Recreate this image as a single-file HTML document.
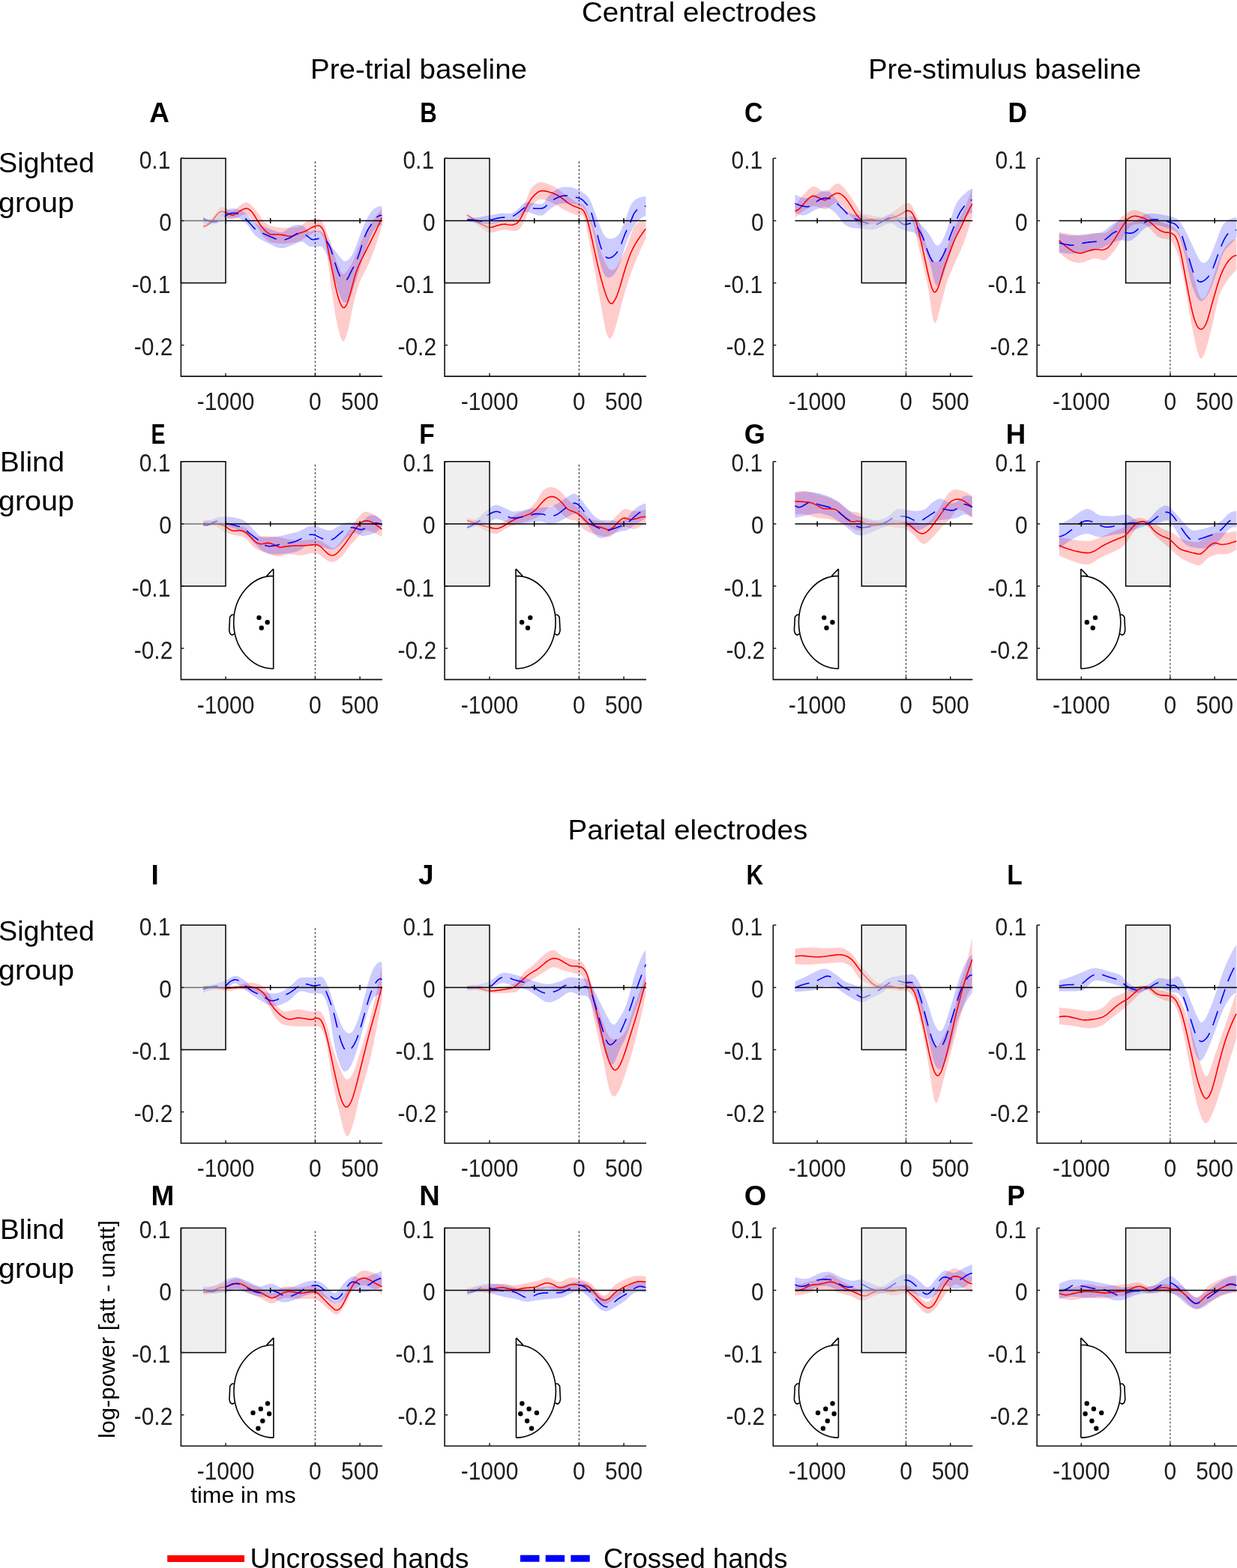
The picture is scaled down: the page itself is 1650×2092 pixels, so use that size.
<!DOCTYPE html>
<html><head><meta charset="utf-8"><title>Figure</title>
<style>html,body{margin:0;padding:0;background:#fff;}svg{display:block;}</style>
</head><body>
<svg width="1650" height="2092" viewBox="0 0 1650 2092" font-family="'Liberation Sans', Arial, sans-serif">
<rect width="1650" height="2092" fill="#fff"/>
<g id="pA">
<path d="M420.4,215.3 V502.1" stroke="#2a2a2a" stroke-width="1.1" stroke-dasharray="2.6 2.52" fill="none"/>
<path d="M271.1,300 L273.1,298.8 L275.1,297.4 L277.1,295.8 L279.1,294 L281.1,292.2 L283.1,290.2 L285.1,287.9 L287.1,285.3 L289.1,282.4 L291.1,279.7 L293.1,277.6 L295.1,276.3 L297.1,275.9 L299.1,276.3 L301.1,277.3 L303.1,278.5 L305.1,279.7 L307.1,280.7 L309.1,281.1 L311.1,280.8 L313.1,280 L315.1,278.6 L317.1,277 L319.1,275.2 L321.1,273.5 L323.1,272 L325.1,270.8 L327.1,270.1 L329.1,270.1 L331.1,270.8 L333.1,272.1 L335.1,273.8 L337.1,275.8 L339.1,278 L341.1,280.2 L343.1,282.8 L345.1,285.7 L347.1,288.8 L349.1,291.8 L351.1,294.4 L353.1,296.5 L355.1,298.1 L357.1,299.5 L359.1,300.6 L361.1,301.4 L363.1,301.9 L365.1,302.3 L367.1,302.6 L369.1,302.9 L371.1,303.2 L373.1,303.5 L375.1,303.7 L377.1,303.9 L379.1,303.9 L381.1,304 L383.1,304 L385.1,303.9 L387.1,303.8 L389.1,303.7 L391.1,303.5 L393.1,303.2 L395.1,302.9 L397.1,302.6 L399.1,302.1 L401.1,301.3 L403.1,300 L405.1,298.6 L407.1,297 L409.1,295.5 L411.1,294.2 L413.1,293.2 L415.1,292.7 L417.1,292.6 L419.1,292.6 L421.1,292.5 L423.1,292.2 L425.1,291.9 L427.1,292.4 L429.1,294.4 L431.1,297.8 L433.1,302.6 L435.1,308 L437.1,313 L439.1,318 L441.1,323.5 L443.1,329.9 L445.1,336.7 L447.1,343.4 L449.1,349.4 L451.1,354.8 L453.1,359.6 L455.1,363.5 L457.1,365.6 L459.1,365.4 L461.1,363.6 L463.1,360.9 L465.1,358 L467.1,355.1 L469.1,352 L471.1,348.2 L473.1,343.6 L475.1,338.5 L477.1,333.1 L479.1,328 L481.1,323.4 L483.1,319 L485.1,314.9 L487.1,310.9 L489.1,307.3 L491.1,303.8 L493.1,300.6 L495.1,297.5 L497.1,294.6 L499.1,291.8 L501.1,289 L503.1,286.4 L505.1,283.8 L507.1,281.4 L509.1,279.2 L509.4,278.9 L509.4,301.3 L509.1,302 L507.1,308.9 L505.1,315.5 L503.1,321.9 L501.1,327.9 L499.1,333.4 L497.1,338.7 L495.1,343.8 L493.1,348.7 L491.1,353.4 L489.1,357.7 L487.1,361.7 L485.1,365.5 L483.1,369.3 L481.1,373.6 L479.1,378.6 L477.1,384.5 L475.1,391.3 L473.1,398.8 L471.1,407 L469.1,416.7 L467.1,427.3 L465.1,436.8 L463.1,444.7 L461.1,451 L459.1,454.9 L457.1,455.4 L455.1,452.3 L453.1,446.3 L451.1,438.6 L449.1,429.5 L447.1,418.7 L445.1,406.1 L443.1,392.3 L441.1,377.7 L439.1,361.9 L437.1,345.2 L435.1,331.3 L433.1,322.3 L431.1,316.7 L429.1,312.9 L427.1,310.3 L425.1,309.4 L423.1,309.5 L421.1,310 L419.1,310.6 L417.1,311.4 L415.1,312.3 L413.1,313.3 L411.1,314.5 L409.1,315.9 L407.1,317.2 L405.1,318.6 L403.1,319.9 L401.1,320.9 L399.1,321.8 L397.1,322.4 L395.1,322.9 L393.1,323.4 L391.1,323.8 L389.1,324.1 L387.1,324.4 L385.1,324.6 L383.1,324.8 L381.1,325 L379.1,325.1 L377.1,325.2 L375.1,325.1 L373.1,325 L371.1,324.9 L369.1,324.7 L367.1,324.4 L365.1,324.1 L363.1,323.8 L361.1,323.3 L359.1,322.5 L357.1,321.2 L355.1,319.6 L353.1,317.7 L351.1,315.4 L349.1,312.6 L347.1,309.5 L345.1,306.1 L343.1,302.9 L341.1,300 L339.1,297.2 L337.1,294.5 L335.1,291.8 L333.1,289.3 L331.1,287.5 L329.1,286.3 L327.1,285.9 L325.1,286.2 L323.1,287 L321.1,288 L319.1,289.1 L317.1,290.2 L315.1,291.2 L313.1,292 L311.1,292.4 L309.1,292.3 L307.1,291.8 L305.1,291 L303.1,290.1 L301.1,289.2 L299.1,288.5 L297.1,288.1 L295.1,288.3 L293.1,289.1 L291.1,290.6 L289.1,292.4 L287.1,294.4 L285.1,296.3 L283.1,297.8 L281.1,299.1 L279.1,300.3 L277.1,301.5 L275.1,302.5 L273.1,303.4 L271.1,304.2 Z" fill="#ff0000" fill-opacity="0.2" stroke="none"/>
<path d="M271.1,288.8 L273.1,289.9 L275.1,291 L277.1,291.9 L279.1,292.6 L281.1,293.1 L283.1,293.3 L285.1,293.2 L287.1,292.7 L289.1,291.7 L291.1,290.1 L293.1,288.3 L295.1,286.2 L297.1,284.1 L299.1,282.2 L301.1,280.7 L303.1,279.7 L305.1,279 L307.1,278.5 L309.1,278.3 L311.1,278.2 L313.1,278.3 L315.1,278.7 L317.1,279.2 L319.1,279.8 L321.1,280.6 L323.1,281.5 L325.1,282.6 L327.1,283.9 L329.1,285.7 L331.1,287.9 L333.1,290.2 L335.1,292.6 L337.1,294.8 L339.1,296.6 L341.1,298 L343.1,299.1 L345.1,300 L347.1,300.8 L349.1,301.6 L351.1,302.3 L353.1,303 L355.1,303.7 L357.1,304.4 L359.1,305.2 L361.1,306 L363.1,306.8 L365.1,307.6 L367.1,308.3 L369.1,308.9 L371.1,309.4 L373.1,309.8 L375.1,309.9 L377.1,309.6 L379.1,308.8 L381.1,307.6 L383.1,306.1 L385.1,304.5 L387.1,303 L389.1,301.8 L391.1,300.9 L393.1,300.4 L395.1,300.1 L397.1,300.1 L399.1,300.1 L401.1,300.3 L403.1,300.9 L405.1,302.2 L407.1,304.1 L409.1,306.1 L411.1,307.9 L413.1,309 L415.1,308.4 L417.1,307.3 L419.1,307.6 L421.1,308.1 L423.1,308.1 L425.1,308 L427.1,308.2 L429.1,309 L431.1,310.9 L433.1,313.4 L435.1,316.4 L437.1,319.7 L439.1,323.3 L441.1,327 L443.1,330.1 L445.1,332.7 L447.1,335 L449.1,337.2 L451.1,339.7 L453.1,342.4 L455.1,345 L457.1,347.2 L459.1,348.5 L461.1,348.6 L463.1,347.8 L465.1,346.2 L467.1,344 L469.1,340.9 L471.1,337.1 L473.1,332.7 L475.1,327.9 L477.1,322.5 L479.1,316.8 L481.1,311.3 L483.1,306.1 L485.1,301.2 L487.1,296.5 L489.1,292.4 L491.1,288.7 L493.1,285.5 L495.1,282.6 L497.1,280.3 L499.1,278.6 L501.1,277.3 L503.1,276.2 L505.1,275.5 L507.1,275.2 L509.1,275.5 L509.4,275.6 L509.4,300.5 L509.1,300.5 L507.1,300.4 L505.1,301.3 L503.1,302.8 L501.1,304.9 L499.1,307.3 L497.1,310.1 L495.1,313.8 L493.1,318.2 L491.1,323.2 L489.1,328.6 L487.1,334.6 L485.1,341 L483.1,347.5 L481.1,353.9 L479.1,360.2 L477.1,366.5 L475.1,372.7 L473.1,378.9 L471.1,385.2 L469.1,391.2 L467.1,396.2 L465.1,400 L463.1,402.5 L461.1,403.8 L459.1,403.7 L457.1,401.9 L455.1,398.5 L453.1,393.8 L451.1,388.2 L449.1,382 L447.1,375 L445.1,367.6 L443.1,360.7 L441.1,354.3 L439.1,348.4 L437.1,343.1 L435.1,338.6 L433.1,334.6 L431.1,331.3 L429.1,329.2 L427.1,328.6 L425.1,329 L423.1,329.6 L421.1,330 L419.1,329.6 L417.1,329 L415.1,329.1 L413.1,329 L411.1,328 L409.1,326.4 L407.1,324.7 L405.1,323.2 L403.1,322.4 L401.1,322.4 L399.1,322.9 L397.1,323.8 L395.1,324.7 L393.1,325.6 L391.1,326.5 L389.1,327.3 L387.1,328 L385.1,328.8 L383.1,329.6 L381.1,330.2 L379.1,330.7 L377.1,331 L375.1,331.1 L373.1,331 L371.1,330.6 L369.1,330 L367.1,329.2 L365.1,328.3 L363.1,327.3 L361.1,326.3 L359.1,325.2 L357.1,324.2 L355.1,323.3 L353.1,322.3 L351.1,321.3 L349.1,320.2 L347.1,319 L345.1,317.7 L343.1,316.3 L341.1,314.8 L339.1,312.8 L337.1,310.3 L335.1,307.4 L333.1,304.3 L331.1,301.2 L329.1,298.5 L327.1,296.3 L325.1,294.7 L323.1,293.5 L321.1,292.4 L319.1,291.5 L317.1,290.9 L315.1,290.4 L313.1,290.3 L311.1,290.5 L309.1,290.8 L307.1,291.3 L305.1,291.9 L303.1,292.5 L301.1,293.2 L299.1,294.1 L297.1,294.9 L295.1,295.9 L293.1,296.7 L291.1,297.5 L289.1,298.2 L287.1,298.7 L285.1,299 L283.1,299.2 L281.1,299.2 L279.1,299.1 L277.1,298.9 L275.1,298.6 L273.1,298.3 L271.1,297.9 Z" fill="#0000ff" fill-opacity="0.2" stroke="none"/>
<path d="M271.1,302.3 L273.1,301.8 L275.1,301 L277.1,299.9 L279.1,298.5 L281.1,296.8 L283.1,294.5 L285.1,292 L287.1,289.3 L289.1,286.8 L291.1,284.7 L293.1,283.1 L295.1,282.3 L297.1,282.3 L299.1,282.8 L301.1,283.5 L303.1,284.3 L305.1,285.4 L307.1,286.3 L309.1,287 L311.1,286.9 L313.1,286.1 L315.1,284.8 L317.1,283.4 L319.1,282.1 L321.1,281 L323.1,279.9 L325.1,278.9 L327.1,278.2 L329.1,278.1 L331.1,278.7 L333.1,280 L335.1,281.8 L337.1,284.1 L339.1,287 L341.1,290.4 L343.1,293.8 L345.1,296.8 L347.1,299.8 L349.1,302.6 L351.1,305 L353.1,307.2 L355.1,309 L357.1,310.7 L359.1,312 L361.1,312.7 L363.1,313 L365.1,312.9 L367.1,312.8 L369.1,312.7 L371.1,312.8 L373.1,313 L375.1,313.3 L377.1,313.6 L379.1,313.9 L381.1,314.3 L383.1,314.7 L385.1,315 L387.1,315.2 L389.1,315.1 L391.1,314.6 L393.1,313.8 L395.1,312.9 L397.1,312 L399.1,311.3 L401.1,310.6 L403.1,309.9 L405.1,309.2 L407.1,308.4 L409.1,307.5 L411.1,306.4 L413.1,305.1 L415.1,303.9 L417.1,303 L419.1,302.1 L421.1,301.4 L423.1,301 L425.1,301 L427.1,301.8 L429.1,303.6 L431.1,306.8 L433.1,311.7 L435.1,319.4 L437.1,329.7 L439.1,340.4 L441.1,350.6 L443.1,360.6 L445.1,370.5 L447.1,380.2 L449.1,389.1 L451.1,396.6 L453.1,402.7 L455.1,407.2 L457.1,410.1 L459.1,410.7 L461.1,408.8 L463.1,404.8 L465.1,399 L467.1,392 L469.1,384.6 L471.1,376.9 L473.1,369.5 L475.1,363 L477.1,357.5 L479.1,352.8 L481.1,348.5 L483.1,344.5 L485.1,340.6 L487.1,336.6 L489.1,332.6 L491.1,328.6 L493.1,324.6 L495.1,320.6 L497.1,316.6 L499.1,312.6 L501.1,308.6 L503.1,304.4 L505.1,300.1 L507.1,295.6 L509.1,291 L509.4,290.5" stroke="#ff0000" stroke-width="1.6" fill="none"/>
<path d="M271.1,291.8 L273.1,292.7 L275.1,293.5 L277.1,294.2 L279.1,294.9 L281.1,295.4 L283.1,295.7 L285.1,296 L287.1,296 L289.1,295.7 L291.1,294.9 L293.1,293.9 L295.1,292.6 L297.1,291.1 L299.1,289.4 L301.1,287.7 L303.1,286.5 L305.1,285.6 L307.1,285 L309.1,284.6 L311.1,284.3 L313.1,284.3 L315.1,284.6 L317.1,285 L319.1,285.7 L321.1,286.6 L323.1,287.7 L325.1,289.3 L327.1,291.2 L329.1,293.4 L331.1,295.7 L333.1,297.8 L335.1,300 L337.1,302.2 L339.1,304.4 L341.1,306.3 L343.1,307.9 L345.1,309.2 L347.1,310.1 L349.1,310.9 L351.1,311.6 L353.1,312.4 L355.1,313.3 L357.1,314.2 L359.1,315.1 L361.1,316 L363.1,316.8 L365.1,317.6 L367.1,318.4 L369.1,319.1 L371.1,319.7 L373.1,320.2 L375.1,320.5 L377.1,320.5 L379.1,320.1 L381.1,319.5 L383.1,318.8 L385.1,318 L387.1,317.1 L389.1,316 L391.1,314.7 L393.1,313.4 L395.1,312.2 L397.1,311.3 L399.1,310.8 L401.1,310.7 L403.1,311.2 L405.1,311.9 L407.1,313 L409.1,314.3 L411.1,315.8 L413.1,317.5 L415.1,319.1 L417.1,319.8 L419.1,319.5 L421.1,319.1 L423.1,318.7 L425.1,318.4 L427.1,318.1 L429.1,317.9 L431.1,318.2 L433.1,319.4 L435.1,321.3 L437.1,323.9 L439.1,327.4 L441.1,332.1 L443.1,337.9 L445.1,344.7 L447.1,351.4 L449.1,357.4 L451.1,363.1 L453.1,367.7 L455.1,370.7 L457.1,372.6 L459.1,373.8 L461.1,374.2 L463.1,372.7 L465.1,369.2 L467.1,364.9 L469.1,360.9 L471.1,357.2 L473.1,353.4 L475.1,349 L477.1,344.1 L479.1,338.5 L481.1,332.2 L483.1,325.8 L485.1,319.9 L487.1,314.5 L489.1,309.8 L491.1,305.9 L493.1,302.7 L495.1,299.8 L497.1,296.9 L499.1,294.1 L501.1,291.6 L503.1,289.6 L505.1,288.2 L507.1,287.4 L509.1,287.5 L509.4,287.6" stroke="#0000ff" stroke-width="1.6" stroke-dasharray="20 11" fill="none"/>
<path d="M241.4,294.4 H509.9" stroke="#000" stroke-width="1.5" fill="none"/>
<path d="M301,290.9 v7 M360.7,290.9 v7 M420.4,290.9 v7 M480.1,290.9 v7 " stroke="#000" stroke-width="1.5" fill="none"/>
<rect x="241.4" y="211.3" width="59.6" height="166.2" fill="#e0e0e0" fill-opacity="0.5" stroke="#000" stroke-width="1.5"/>
<path d="M241.4,211.3 V502.1 H509.9" stroke="#111" stroke-width="1.6" fill="none"/>
<path d="M241.4,211.3 h4 M241.4,294.4 h4 M241.4,377.5 h4 M241.4,460.6 h4 M301,502.1 v-4 M420.4,502.1 v-4 M480.1,502.1 v-4 " stroke="#1e1e1e" stroke-width="1.5" fill="none"/>
<text x="227.4" y="224.8" font-size="32.8" text-anchor="end" textLength="41.7" lengthAdjust="spacingAndGlyphs" fill="#1e1e1e">0.1</text>
<text x="228.9" y="307.9" font-size="32.8" text-anchor="end" textLength="16.7" lengthAdjust="spacingAndGlyphs" fill="#1e1e1e">0</text>
<text x="227.4" y="391" font-size="32.8" text-anchor="end" textLength="51.7" lengthAdjust="spacingAndGlyphs" fill="#1e1e1e">-0.1</text>
<text x="230.4" y="474.1" font-size="32.8" text-anchor="end" textLength="51.7" lengthAdjust="spacingAndGlyphs" fill="#1e1e1e">-0.2</text>
<text x="301" y="547.1" font-size="32.8" text-anchor="middle" textLength="76.7" lengthAdjust="spacingAndGlyphs" fill="#1e1e1e">-1000</text>
<text x="420.4" y="547.1" font-size="32.8" text-anchor="middle" textLength="16.7" lengthAdjust="spacingAndGlyphs" fill="#1e1e1e">0</text>
<text x="480.1" y="547.1" font-size="32.8" text-anchor="middle" textLength="50" lengthAdjust="spacingAndGlyphs" fill="#1e1e1e">500</text>
</g>
<g id="pB">
<path d="M772.4,215.3 V502.1" stroke="#2a2a2a" stroke-width="1.1" stroke-dasharray="2.6 2.52" fill="none"/>
<path d="M623.1,284.6 L625.1,285.9 L627.1,287.3 L629.1,288.6 L631.1,289.8 L633.1,290.9 L635.1,291.9 L637.1,292.8 L639.1,293.6 L641.1,294.4 L643.1,295.3 L645.1,296 L647.1,296.7 L649.1,297.2 L651.1,297.5 L653.1,297.5 L655.1,297.4 L657.1,297.1 L659.1,296.8 L661.1,296.5 L663.1,296.1 L665.1,295.7 L667.1,295.3 L669.1,294.9 L671.1,294.5 L673.1,294.2 L675.1,293.9 L677.1,293.6 L679.1,293.3 L681.1,293 L683.1,292.7 L685.1,292.3 L687.1,291.9 L689.1,291.3 L691.1,289.8 L693.1,287.2 L695.1,283.9 L697.1,279.9 L699.1,275.2 L701.1,269.7 L703.1,263.8 L705.1,258.3 L707.1,253.7 L709.1,250.6 L711.1,248.4 L713.1,246.7 L715.1,245.2 L717.1,244.1 L719.1,243.3 L721.1,243.1 L723.1,243.2 L725.1,243.6 L727.1,244.1 L729.1,244.7 L731.1,245.4 L733.1,246.2 L735.1,247 L737.1,248 L739.1,249.1 L741.1,250.3 L743.1,251.6 L745.1,253 L747.1,254.4 L749.1,255.9 L751.1,257.4 L753.1,258.8 L755.1,260.3 L757.1,261.7 L759.1,263.1 L761.1,264.6 L763.1,266 L765.1,267.4 L767.1,268.7 L769.1,270 L771.1,270.9 L773.1,271.5 L775.1,272 L777.1,272.7 L779.1,274.4 L781.1,277.5 L783.1,281.9 L785.1,286.6 L787.1,291.4 L789.1,296.6 L791.1,302.1 L793.1,308.2 L795.1,315 L797.1,322.1 L799.1,328.7 L801.1,334.6 L803.1,340.2 L805.1,345.4 L807.1,350.1 L809.1,354.1 L811.1,357 L813.1,358.9 L815.1,360 L817.1,360.2 L819.1,359.5 L821.1,357.8 L823.1,355.1 L825.1,351.6 L827.1,347.6 L829.1,343.5 L831.1,339.4 L833.1,335.2 L835.1,330.7 L837.1,326 L839.1,320.6 L841.1,314.6 L843.1,308.8 L845.1,304.3 L847.1,301.1 L849.1,298.8 L851.1,297.1 L853.1,296 L855.1,295.4 L857.1,295.4 L859.1,296 L861.1,297 L861.4,297.1 L861.4,318.5 L861.1,318.9 L859.1,322.9 L857.1,327.1 L855.1,331.5 L853.1,336.1 L851.1,340.8 L849.1,345.6 L847.1,350.5 L845.1,355.5 L843.1,360.8 L841.1,366.3 L839.1,372.1 L837.1,378.2 L835.1,384.6 L833.1,391.4 L831.1,398.5 L829.1,405.9 L827.1,413.7 L825.1,421.8 L823.1,429.4 L821.1,436.3 L819.1,442.4 L817.1,447.4 L815.1,450.8 L813.1,451.9 L811.1,450 L809.1,444.7 L807.1,436.7 L805.1,426.8 L803.1,415.9 L801.1,404.8 L799.1,394 L797.1,382.9 L795.1,371.6 L793.1,360.3 L791.1,349.4 L789.1,338.8 L787.1,328.4 L785.1,318 L783.1,307 L781.1,296.4 L779.1,289.4 L777.1,287 L775.1,286.7 L773.1,287 L771.1,287.1 L769.1,286.8 L767.1,286.1 L765.1,285.4 L763.1,284.6 L761.1,283.9 L759.1,283.1 L757.1,282.2 L755.1,281.3 L753.1,280.2 L751.1,279.1 L749.1,277.9 L747.1,276.6 L745.1,275.3 L743.1,274.1 L741.1,272.9 L739.1,271.8 L737.1,270.8 L735.1,269.9 L733.1,269 L731.1,268.2 L729.1,267.5 L727.1,266.8 L725.1,266.3 L723.1,265.9 L721.1,265.9 L719.1,266.3 L717.1,267.3 L715.1,268.7 L713.1,270.4 L711.1,272.5 L709.1,274.8 L707.1,277.8 L705.1,281.8 L703.1,286.6 L701.1,291.5 L699.1,296.1 L697.1,299.8 L695.1,302.8 L693.1,305.3 L691.1,307.1 L689.1,308 L687.1,308.1 L685.1,308 L683.1,307.8 L681.1,307.5 L679.1,307.2 L677.1,306.9 L675.1,306.7 L673.1,306.6 L671.1,306.7 L669.1,307 L667.1,307.4 L665.1,308 L663.1,308.6 L661.1,309.2 L659.1,309.7 L657.1,310.2 L655.1,310.4 L653.1,310.3 L651.1,309.8 L649.1,309 L647.1,307.8 L645.1,306.4 L643.1,304.8 L641.1,303.2 L639.1,301.7 L637.1,300.2 L635.1,298.8 L633.1,297.4 L631.1,296 L629.1,294.5 L627.1,293 L625.1,291.4 L623.1,289.9 Z" fill="#ff0000" fill-opacity="0.2" stroke="none"/>
<path d="M623.1,286.9 L625.1,288.2 L627.1,289.5 L629.1,290.9 L631.1,292.3 L633.1,293.7 L635.1,295.1 L637.1,296.4 L639.1,297.6 L641.1,298.7 L643.1,299.6 L645.1,300.6 L647.1,301.5 L649.1,302.4 L651.1,303.2 L653.1,303.5 L655.1,303.3 L657.1,302.9 L659.1,302.2 L661.1,301.6 L663.1,301 L665.1,300.4 L667.1,299.9 L669.1,299.4 L671.1,299.2 L673.1,299.1 L675.1,299.3 L677.1,299.7 L679.1,300 L681.1,300.2 L683.1,300.1 L685.1,299.8 L687.1,299.1 L689.1,298.1 L691.1,296.3 L693.1,293.5 L695.1,290.1 L697.1,286.4 L699.1,282.3 L701.1,278.2 L703.1,274.4 L705.1,270.9 L707.1,267.6 L709.1,264.6 L711.1,262.2 L713.1,260.1 L715.1,258.3 L717.1,256.7 L719.1,255.5 L721.1,254.7 L723.1,254.5 L725.1,254.6 L727.1,254.9 L729.1,255.3 L731.1,255.8 L733.1,256.4 L735.1,257 L737.1,257.6 L739.1,258.4 L741.1,259.2 L743.1,260.2 L745.1,261.4 L747.1,262.7 L749.1,264.2 L751.1,265.6 L753.1,267.2 L755.1,268.8 L757.1,270.3 L759.1,271.7 L761.1,272.9 L763.1,273.8 L765.1,274.7 L767.1,275.4 L769.1,276.2 L771.1,277 L773.1,277.7 L775.1,278.6 L777.1,279.8 L779.1,282.3 L781.1,286.3 L783.1,292.1 L785.1,299.5 L787.1,307.9 L789.1,316.8 L791.1,325.9 L793.1,335.1 L795.1,344.2 L797.1,353.1 L799.1,361.5 L801.1,369.3 L803.1,376.6 L805.1,383.5 L807.1,389.9 L809.1,395.7 L811.1,400.4 L813.1,403.8 L815.1,405.2 L817.1,404.5 L819.1,402.1 L821.1,398.6 L823.1,394 L825.1,388.3 L827.1,382.1 L829.1,375.3 L831.1,368.2 L833.1,361.4 L835.1,354.9 L837.1,348.9 L839.1,343.3 L841.1,338.3 L843.1,333.8 L845.1,329.8 L847.1,326.2 L849.1,322.9 L851.1,319.8 L853.1,316.8 L855.1,313.9 L857.1,311 L859.1,308.2 L861.1,305.5 L861.4,305.2" stroke="#ff0000" stroke-width="1.6" fill="none"/>
<rect x="593.1" y="211.3" width="59.9" height="166.2" fill="#e0e0e0" fill-opacity="0.5" stroke="#000" stroke-width="1.5"/>
<path d="M623.1,291.5 L625.1,291.4 L627.1,291.2 L629.1,291.1 L631.1,290.8 L633.1,290.6 L635.1,290.3 L637.1,290.1 L639.1,289.8 L641.1,289.4 L643.1,289.1 L645.1,288.7 L647.1,288.2 L649.1,287.8 L651.1,287.4 L653.1,287.1 L655.1,286.7 L657.1,286.4 L659.1,286 L661.1,285.7 L663.1,285.4 L665.1,285.1 L667.1,284.8 L669.1,284.6 L671.1,284.6 L673.1,284.6 L675.1,284.7 L677.1,284.8 L679.1,284.8 L681.1,284.7 L683.1,284.2 L685.1,283.2 L687.1,281.9 L689.1,280.4 L691.1,278.7 L693.1,276.9 L695.1,274.8 L697.1,272.5 L699.1,270.7 L701.1,269.8 L703.1,269.7 L705.1,269.9 L707.1,270.2 L709.1,270.6 L711.1,270.9 L713.1,271.3 L715.1,271.6 L717.1,271.9 L719.1,272.2 L721.1,272.4 L723.1,272.1 L725.1,270.7 L727.1,268.2 L729.1,265.2 L731.1,262.2 L733.1,259.9 L735.1,258 L737.1,256.3 L739.1,254.8 L741.1,253.4 L743.1,252.2 L745.1,251.2 L747.1,250.6 L749.1,250.1 L751.1,249.8 L753.1,249.5 L755.1,249.4 L757.1,249.4 L759.1,249.5 L761.1,249.7 L763.1,250.2 L765.1,250.8 L767.1,251.6 L769.1,252.5 L771.1,253.5 L773.1,254.6 L775.1,255.6 L777.1,256.7 L779.1,257.9 L781.1,259.4 L783.1,261.3 L785.1,263.7 L787.1,267.2 L789.1,271.6 L791.1,276.6 L793.1,281.9 L795.1,287.6 L797.1,293.4 L799.1,298.8 L801.1,303.7 L803.1,308.2 L805.1,312.2 L807.1,315.3 L809.1,317.1 L811.1,318.1 L813.1,318.4 L815.1,318.5 L817.1,318.2 L819.1,317.5 L821.1,316.5 L823.1,315 L825.1,312.9 L827.1,310 L829.1,305.9 L831.1,301.1 L833.1,295.9 L835.1,290.4 L837.1,284.5 L839.1,278.8 L841.1,274.1 L843.1,270.9 L845.1,268.5 L847.1,266.7 L849.1,265.4 L851.1,264.4 L853.1,263.6 L855.1,262.9 L857.1,262.4 L859.1,262.1 L861.1,262.3 L861.4,262.3 L861.4,288.6 L861.1,288.5 L859.1,288.8 L857.1,289.8 L855.1,291.2 L853.1,292.9 L851.1,294.8 L849.1,297.1 L847.1,299.9 L845.1,303.1 L843.1,306.6 L841.1,310.5 L839.1,315 L837.1,320 L835.1,325.4 L833.1,331.1 L831.1,337.4 L829.1,344.2 L827.1,350.6 L825.1,355.8 L823.1,359.9 L821.1,363.2 L819.1,365.9 L817.1,367.9 L815.1,369.3 L813.1,370.2 L811.1,370.5 L809.1,370 L807.1,368.1 L805.1,364.5 L803.1,359.4 L801.1,353.3 L799.1,346 L797.1,337 L795.1,326.8 L793.1,317.1 L791.1,308.8 L789.1,301.5 L787.1,295.1 L785.1,289.8 L783.1,285.4 L781.1,281.6 L779.1,278.6 L777.1,276.7 L775.1,275.6 L773.1,274.7 L771.1,274 L769.1,273.3 L767.1,272.8 L765.1,272.3 L763.1,272 L761.1,271.8 L759.1,271.6 L757.1,271.5 L755.1,271.4 L753.1,271.3 L751.1,271.4 L749.1,271.5 L747.1,271.8 L745.1,272.3 L743.1,273.1 L741.1,274.2 L739.1,275.4 L737.1,276.7 L735.1,278.1 L733.1,279.5 L731.1,281.1 L729.1,283 L727.1,284.9 L725.1,286.5 L723.1,287.4 L721.1,287.6 L719.1,287.4 L717.1,286.9 L715.1,286.4 L713.1,285.8 L711.1,285.2 L709.1,284.6 L707.1,283.8 L705.1,283.2 L703.1,282.7 L701.1,282.7 L699.1,283.6 L697.1,285.3 L695.1,287.3 L693.1,289.2 L691.1,290.6 L689.1,291.7 L687.1,292.6 L685.1,293.5 L683.1,294.1 L681.1,294.6 L679.1,294.9 L677.1,295.1 L675.1,295.3 L673.1,295.5 L671.1,295.6 L669.1,295.9 L667.1,296.2 L665.1,296.7 L663.1,297.2 L661.1,297.7 L659.1,298.2 L657.1,298.6 L655.1,298.9 L653.1,299.1 L651.1,299.1 L649.1,299 L647.1,298.8 L645.1,298.6 L643.1,298.3 L641.1,298.1 L639.1,297.8 L637.1,297.5 L635.1,297.2 L633.1,296.9 L631.1,296.6 L629.1,296.3 L627.1,296 L625.1,295.6 L623.1,295.3 Z" fill="#0000ff" fill-opacity="0.2" stroke="none"/>
<path d="M623.1,293 L625.1,293.1 L627.1,293.3 L629.1,293.4 L631.1,293.6 L633.1,293.8 L635.1,294 L637.1,294.3 L639.1,294.7 L641.1,295 L643.1,295.2 L645.1,295.2 L647.1,295.1 L649.1,294.8 L651.1,294.4 L653.1,293.8 L655.1,293.3 L657.1,292.7 L659.1,292.2 L661.1,291.8 L663.1,291.3 L665.1,290.9 L667.1,290.5 L669.1,290.2 L671.1,290.1 L673.1,290.1 L675.1,290.2 L677.1,290.2 L679.1,290.1 L681.1,289.7 L683.1,288.9 L685.1,287.9 L687.1,286.6 L689.1,285.3 L691.1,283.9 L693.1,282.4 L695.1,280.7 L697.1,278.9 L699.1,277.4 L701.1,276.6 L703.1,276.5 L705.1,276.8 L707.1,277.3 L709.1,277.7 L711.1,277.9 L713.1,278.1 L715.1,278.2 L717.1,278.3 L719.1,278.3 L721.1,278.2 L723.1,277.9 L725.1,277.3 L727.1,276 L729.1,274.1 L731.1,272.2 L733.1,270.4 L735.1,268.8 L737.1,267.4 L739.1,266 L741.1,264.8 L743.1,263.9 L745.1,263 L747.1,262.2 L749.1,261.7 L751.1,261.3 L753.1,261.1 L755.1,261.1 L757.1,261.1 L759.1,261.3 L761.1,261.6 L763.1,261.9 L765.1,262.4 L767.1,262.9 L769.1,263.4 L771.1,264 L773.1,264.6 L775.1,265.5 L777.1,266.8 L779.1,268.8 L781.1,271.1 L783.1,273.2 L785.1,275.5 L787.1,279.1 L789.1,284.7 L791.1,291.5 L793.1,298.7 L795.1,306.4 L797.1,314.4 L799.1,322.1 L801.1,328.7 L803.1,334.1 L805.1,338.1 L807.1,341.3 L809.1,343.5 L811.1,344.4 L813.1,344.3 L815.1,343.6 L817.1,342.5 L819.1,341 L821.1,339 L823.1,336.5 L825.1,333.3 L827.1,329.1 L829.1,324.2 L831.1,319 L833.1,313.7 L835.1,308.9 L837.1,304.7 L839.1,300.7 L841.1,296.2 L843.1,290.9 L845.1,286.2 L847.1,282.9 L849.1,280.5 L851.1,278.9 L853.1,277.6 L855.1,276.5 L857.1,275.6 L859.1,275.1 L861.1,275.1 L861.4,275.1" stroke="#0000ff" stroke-width="1.6" stroke-dasharray="20 11" fill="none"/>
<path d="M593.1,294.4 H862" stroke="#000" stroke-width="1.5" fill="none"/>
<path d="M653,290.9 v7 M712.7,290.9 v7 M772.4,290.9 v7 M832.1,290.9 v7 " stroke="#000" stroke-width="1.5" fill="none"/>
<path d="M593.1,211.3 V502.1 H862" stroke="#111" stroke-width="1.6" fill="none"/>
<path d="M593.1,211.3 h4 M593.1,294.4 h4 M593.1,377.5 h4 M593.1,460.6 h4 M653,502.1 v-4 M772.4,502.1 v-4 M832.1,502.1 v-4 " stroke="#1e1e1e" stroke-width="1.5" fill="none"/>
<text x="579.1" y="224.8" font-size="32.8" text-anchor="end" textLength="41.7" lengthAdjust="spacingAndGlyphs" fill="#1e1e1e">0.1</text>
<text x="580.6" y="307.9" font-size="32.8" text-anchor="end" textLength="16.7" lengthAdjust="spacingAndGlyphs" fill="#1e1e1e">0</text>
<text x="579.1" y="391" font-size="32.8" text-anchor="end" textLength="51.7" lengthAdjust="spacingAndGlyphs" fill="#1e1e1e">-0.1</text>
<text x="582.1" y="474.1" font-size="32.8" text-anchor="end" textLength="51.7" lengthAdjust="spacingAndGlyphs" fill="#1e1e1e">-0.2</text>
<text x="653" y="547.1" font-size="32.8" text-anchor="middle" textLength="76.7" lengthAdjust="spacingAndGlyphs" fill="#1e1e1e">-1000</text>
<text x="772.4" y="547.1" font-size="32.8" text-anchor="middle" textLength="16.7" lengthAdjust="spacingAndGlyphs" fill="#1e1e1e">0</text>
<text x="832.1" y="547.1" font-size="32.8" text-anchor="middle" textLength="50" lengthAdjust="spacingAndGlyphs" fill="#1e1e1e">500</text>
</g>
<g id="pC">
<path d="M1208.5,377.5 V502.1" stroke="#2a2a2a" stroke-width="1.1" stroke-dasharray="2.6 2.52" fill="none"/>
<path d="M1060.5,274.1 L1062.5,271.4 L1064.5,268.7 L1066.5,266.1 L1068.5,263.6 L1070.5,261.2 L1072.5,259 L1074.5,256.9 L1076.5,254.8 L1078.5,252.8 L1080.5,251 L1082.5,249.6 L1084.5,248.7 L1086.5,248.6 L1088.5,249.3 L1090.5,250.5 L1092.5,252.1 L1094.5,253.7 L1096.5,255.1 L1098.5,256.1 L1100.5,256.4 L1102.5,255.9 L1104.5,254.7 L1106.5,252.9 L1108.5,250.9 L1110.5,248.8 L1112.5,247 L1114.5,245.6 L1116.5,244.9 L1118.5,244.9 L1120.5,245.8 L1122.5,247.2 L1124.5,249.2 L1126.5,251.4 L1128.5,253.9 L1130.5,256.4 L1132.5,259 L1134.5,261.8 L1136.5,264.9 L1138.5,268 L1140.5,271.2 L1142.5,274.3 L1144.5,277.5 L1146.5,280.7 L1148.5,283 L1150.5,284.4 L1152.5,285.1 L1154.5,285.6 L1156.5,286.1 L1158.5,286.5 L1160.5,286.9 L1162.5,287.3 L1164.5,287.7 L1166.5,288.2 L1168.5,288.7 L1170.5,289.2 L1172.5,289.5 L1174.5,289.8 L1176.5,290 L1178.5,290 L1180.5,289.6 L1182.5,288.8 L1184.5,287.6 L1186.5,286.1 L1188.5,284.6 L1190.5,283.1 L1192.5,281.7 L1194.5,280.3 L1196.5,278.8 L1198.5,277.3 L1200.5,275.9 L1202.5,274.4 L1204.5,273.1 L1206.5,271.9 L1208.5,270.9 L1210.5,270.4 L1212.5,271 L1214.5,272.5 L1216.5,274.8 L1218.5,278.4 L1220.5,282.8 L1222.5,287.4 L1224.5,292.3 L1226.5,297.5 L1228.5,303.2 L1230.5,309.4 L1232.5,316.4 L1234.5,323.5 L1236.5,329.7 L1238.5,335 L1240.5,339.7 L1242.5,343.7 L1244.5,346.7 L1246.5,348.7 L1248.5,349.4 L1250.5,349.2 L1252.5,348.2 L1254.5,346.4 L1256.5,343.7 L1258.5,340.2 L1260.5,336.1 L1262.5,331.6 L1264.5,326.8 L1266.5,321.6 L1268.5,316.1 L1270.5,310.6 L1272.5,305.4 L1274.5,301 L1276.5,297 L1278.5,293.5 L1280.5,290 L1282.5,286.4 L1284.5,282.5 L1286.5,278.1 L1288.5,273.3 L1290.5,268.1 L1292.5,262.7 L1294.5,257 L1296.5,251.2 L1296.7,250.5 L1296.7,289.2 L1296.5,289.9 L1294.5,296.7 L1292.5,303.4 L1290.5,309.8 L1288.5,315.9 L1286.5,321.6 L1284.5,326.7 L1282.5,331.5 L1280.5,336.1 L1278.5,340.5 L1276.5,344.8 L1274.5,349.2 L1272.5,353.6 L1270.5,358 L1268.5,362.5 L1266.5,367.2 L1264.5,372.5 L1262.5,378.6 L1260.5,385.7 L1258.5,393.3 L1256.5,401.1 L1254.5,408.7 L1252.5,416.8 L1250.5,424.4 L1248.5,430 L1246.5,431.1 L1244.5,425.9 L1242.5,414.9 L1240.5,400.8 L1238.5,386.9 L1236.5,375.7 L1234.5,366.8 L1232.5,358.9 L1230.5,351 L1228.5,342.7 L1226.5,333.9 L1224.5,324.9 L1222.5,316.2 L1220.5,307.7 L1218.5,299.7 L1216.5,293.9 L1214.5,291.2 L1212.5,290.2 L1210.5,290 L1208.5,290.4 L1206.5,291 L1204.5,291.7 L1202.5,292.5 L1200.5,293.3 L1198.5,294 L1196.5,294.7 L1194.5,295.3 L1192.5,295.8 L1190.5,296.2 L1188.5,296.5 L1186.5,296.8 L1184.5,297 L1182.5,297.2 L1180.5,297.4 L1178.5,297.6 L1176.5,297.8 L1174.5,298 L1172.5,298.2 L1170.5,298.3 L1168.5,298.5 L1166.5,298.6 L1164.5,298.8 L1162.5,299 L1160.5,299.2 L1158.5,299.6 L1156.5,300.2 L1154.5,300.9 L1152.5,301.5 L1150.5,301.9 L1148.5,301.7 L1146.5,300.8 L1144.5,299.1 L1142.5,297.2 L1140.5,295.1 L1138.5,292.9 L1136.5,290.6 L1134.5,288.2 L1132.5,285.9 L1130.5,283.6 L1128.5,281.3 L1126.5,278.8 L1124.5,276.3 L1122.5,274 L1120.5,272.2 L1118.5,271 L1116.5,270.5 L1114.5,270.8 L1112.5,271.8 L1110.5,273.2 L1108.5,274.9 L1106.5,276.5 L1104.5,277.9 L1102.5,278.9 L1100.5,279.2 L1098.5,279 L1096.5,278.4 L1094.5,277.6 L1092.5,276.8 L1090.5,275.9 L1088.5,275.3 L1086.5,275 L1084.5,275.1 L1082.5,275.5 L1080.5,276.3 L1078.5,277.3 L1076.5,278.4 L1074.5,279.5 L1072.5,280.8 L1070.5,282.1 L1068.5,283.6 L1066.5,285.3 L1064.5,287 L1062.5,288.7 L1060.5,290.5 Z" fill="#ff0000" fill-opacity="0.2" stroke="none"/>
<path d="M1060.5,259.4 L1062.5,260.4 L1064.5,261.4 L1066.5,262.3 L1068.5,263.1 L1070.5,263.8 L1072.5,264.1 L1074.5,264.2 L1076.5,263.9 L1078.5,263.5 L1080.5,262.9 L1082.5,262.2 L1084.5,261.5 L1086.5,260.7 L1088.5,259.7 L1090.5,258.5 L1092.5,257.3 L1094.5,256.1 L1096.5,255 L1098.5,254.2 L1100.5,253.8 L1102.5,254 L1104.5,254.8 L1106.5,256.2 L1108.5,258 L1110.5,260.1 L1112.5,262.3 L1114.5,264.6 L1116.5,266.9 L1118.5,269.4 L1120.5,272.2 L1122.5,274.9 L1124.5,277.5 L1126.5,279.6 L1128.5,281.4 L1130.5,282.9 L1132.5,284.2 L1134.5,285.1 L1136.5,285.6 L1138.5,285.9 L1140.5,286.1 L1142.5,286.2 L1144.5,286.3 L1146.5,286.5 L1148.5,286.9 L1150.5,287.3 L1152.5,288 L1154.5,288.7 L1156.5,289.4 L1158.5,290.1 L1160.5,290.7 L1162.5,291.2 L1164.5,291.5 L1166.5,291.6 L1168.5,291.5 L1170.5,291.2 L1172.5,290.8 L1174.5,290.4 L1176.5,289.9 L1178.5,289.2 L1180.5,288.3 L1182.5,287.3 L1184.5,286.5 L1186.5,285.8 L1188.5,285.6 L1190.5,285.9 L1192.5,286.6 L1194.5,287.6 L1196.5,288.6 L1198.5,289.4 L1200.5,289.9 L1202.5,290.1 L1204.5,290.1 L1206.5,290.1 L1208.5,290 L1210.5,289.8 L1212.5,289.5 L1214.5,289 L1216.5,288.7 L1218.5,288.7 L1220.5,289.6 L1222.5,291.4 L1224.5,294 L1226.5,296.9 L1228.5,299.6 L1230.5,302 L1232.5,304.2 L1234.5,306.4 L1236.5,308.7 L1238.5,311.1 L1240.5,313.9 L1242.5,317.3 L1244.5,321.1 L1246.5,324.6 L1248.5,327 L1250.5,327.8 L1252.5,326.9 L1254.5,324.7 L1256.5,321.5 L1258.5,317.6 L1260.5,313 L1262.5,307.7 L1264.5,302 L1266.5,296.3 L1268.5,290.6 L1270.5,284.8 L1272.5,279.1 L1274.5,274.1 L1276.5,270.1 L1278.5,267 L1280.5,264.5 L1282.5,262.3 L1284.5,260.4 L1286.5,258.7 L1288.5,256.9 L1290.5,255.3 L1292.5,253.8 L1294.5,252.6 L1296.5,251.7 L1296.7,251.6 L1296.7,284.1 L1296.5,284.1 L1294.5,284.3 L1292.5,285.4 L1290.5,287 L1288.5,289.1 L1286.5,291.6 L1284.5,294.4 L1282.5,297.9 L1280.5,302.2 L1278.5,307 L1276.5,312.1 L1274.5,317.5 L1272.5,323.4 L1270.5,329.5 L1268.5,335.7 L1266.5,341.9 L1264.5,348.1 L1262.5,354.3 L1260.5,360.3 L1258.5,365.9 L1256.5,371.2 L1254.5,376.1 L1252.5,379.9 L1250.5,381.8 L1248.5,380.7 L1246.5,375.9 L1244.5,368.2 L1242.5,359.5 L1240.5,351.7 L1238.5,345.7 L1236.5,340.5 L1234.5,335.6 L1232.5,331.2 L1230.5,327.2 L1228.5,323.5 L1226.5,320 L1224.5,316.5 L1222.5,313.5 L1220.5,311.2 L1218.5,309.9 L1216.5,309.2 L1214.5,308.9 L1212.5,308.7 L1210.5,308.4 L1208.5,307.9 L1206.5,307.3 L1204.5,306.6 L1202.5,305.9 L1200.5,305.1 L1198.5,303.9 L1196.5,302.4 L1194.5,300.8 L1192.5,299.3 L1190.5,298.2 L1188.5,297.8 L1186.5,297.9 L1184.5,298.5 L1182.5,299.3 L1180.5,300.2 L1178.5,301.1 L1176.5,302 L1174.5,302.9 L1172.5,303.8 L1170.5,304.8 L1168.5,305.6 L1166.5,306.2 L1164.5,306.6 L1162.5,306.6 L1160.5,306.5 L1158.5,306.3 L1156.5,306.1 L1154.5,305.8 L1152.5,305.6 L1150.5,305.3 L1148.5,305.1 L1146.5,304.9 L1144.5,304.7 L1142.5,304.5 L1140.5,304.3 L1138.5,304 L1136.5,303.8 L1134.5,303.4 L1132.5,302.8 L1130.5,301.8 L1128.5,300.6 L1126.5,299.2 L1124.5,297.2 L1122.5,294.7 L1120.5,291.8 L1118.5,289 L1116.5,286.5 L1114.5,284.5 L1112.5,282.8 L1110.5,281.1 L1108.5,279.6 L1106.5,278.3 L1104.5,277.3 L1102.5,276.7 L1100.5,276.5 L1098.5,276.6 L1096.5,276.9 L1094.5,277.4 L1092.5,278 L1090.5,278.7 L1088.5,279.5 L1086.5,280.4 L1084.5,281.4 L1082.5,282.5 L1080.5,283.8 L1078.5,285 L1076.5,286.1 L1074.5,286.9 L1072.5,287.3 L1070.5,287.2 L1068.5,286.9 L1066.5,286.3 L1064.5,285.5 L1062.5,284.6 L1060.5,283.7 Z" fill="#0000ff" fill-opacity="0.2" stroke="none"/>
<path d="M1060.5,281.6 L1062.5,281 L1064.5,279.8 L1066.5,278.3 L1068.5,276.3 L1070.5,273.9 L1072.5,271.4 L1074.5,269.1 L1076.5,267 L1078.5,265 L1080.5,263.3 L1082.5,262 L1084.5,261.4 L1086.5,261.6 L1088.5,262.3 L1090.5,263.2 L1092.5,264.1 L1094.5,265 L1096.5,266 L1098.5,266.7 L1100.5,267 L1102.5,266.3 L1104.5,264.9 L1106.5,263.2 L1108.5,261.7 L1110.5,260.5 L1112.5,259.3 L1114.5,258.3 L1116.5,257.7 L1118.5,257.7 L1120.5,258.4 L1122.5,259.6 L1124.5,261.1 L1126.5,263 L1128.5,265.3 L1130.5,267.9 L1132.5,270.7 L1134.5,273.8 L1136.5,277 L1138.5,280.3 L1140.5,283.4 L1142.5,286.3 L1144.5,289 L1146.5,291.4 L1148.5,293.1 L1150.5,293.6 L1152.5,293.6 L1154.5,293.4 L1156.5,293.2 L1158.5,292.9 L1160.5,292.8 L1162.5,292.9 L1164.5,293.1 L1166.5,293.5 L1168.5,293.9 L1170.5,294.2 L1172.5,294.4 L1174.5,294.5 L1176.5,294.5 L1178.5,294.3 L1180.5,293.9 L1182.5,293.2 L1184.5,292.4 L1186.5,291.7 L1188.5,291 L1190.5,290.3 L1192.5,289.7 L1194.5,289 L1196.5,288.2 L1198.5,287.3 L1200.5,286.3 L1202.5,285.2 L1204.5,284 L1206.5,282.7 L1208.5,281.6 L1210.5,281 L1212.5,281.2 L1214.5,282.2 L1216.5,284.1 L1218.5,287.1 L1220.5,291.4 L1222.5,297.2 L1224.5,304.6 L1226.5,313.2 L1228.5,322.2 L1230.5,331.2 L1232.5,340.3 L1234.5,349.4 L1236.5,358.7 L1238.5,367.6 L1240.5,375.6 L1242.5,382.7 L1244.5,387.9 L1246.5,390 L1248.5,389 L1250.5,385.6 L1252.5,380.5 L1254.5,373.9 L1256.5,366.7 L1258.5,360 L1260.5,354 L1262.5,348.4 L1264.5,343 L1266.5,337.6 L1268.5,332.2 L1270.5,326.9 L1272.5,322 L1274.5,317.5 L1276.5,313.5 L1278.5,309.6 L1280.5,305.7 L1282.5,301.6 L1284.5,297.2 L1286.5,292.8 L1288.5,288.4 L1290.5,284.1 L1292.5,280.1 L1294.5,276.1 L1296.5,272.4 L1296.7,272" stroke="#ff0000" stroke-width="1.6" fill="none"/>
<path d="M1060.5,271.6 L1062.5,272.4 L1064.5,273.1 L1066.5,273.8 L1068.5,274.4 L1070.5,274.9 L1072.5,275.3 L1074.5,275.6 L1076.5,275.8 L1078.5,275.6 L1080.5,275 L1082.5,273.8 L1084.5,272.4 L1086.5,271 L1088.5,269.5 L1090.5,268.1 L1092.5,266.8 L1094.5,265.8 L1096.5,265.1 L1098.5,264.6 L1100.5,264.4 L1102.5,264.3 L1104.5,264.5 L1106.5,264.9 L1108.5,265.5 L1110.5,266.4 L1112.5,267.5 L1114.5,269.2 L1116.5,271.2 L1118.5,273.2 L1120.5,275.2 L1122.5,277.2 L1124.5,279.2 L1126.5,281.2 L1128.5,283.4 L1130.5,285.5 L1132.5,287.4 L1134.5,288.9 L1136.5,290 L1138.5,291 L1140.5,291.9 L1142.5,292.7 L1144.5,293.5 L1146.5,294.3 L1148.5,295 L1150.5,295.7 L1152.5,296.5 L1154.5,297.1 L1156.5,297.8 L1158.5,298.5 L1160.5,299.2 L1162.5,299.9 L1164.5,300.4 L1166.5,300.4 L1168.5,299.9 L1170.5,299 L1172.5,297.9 L1174.5,296.8 L1176.5,295.6 L1178.5,294.4 L1180.5,293.2 L1182.5,292.2 L1184.5,291.2 L1186.5,290.5 L1188.5,290.1 L1190.5,290.2 L1192.5,290.8 L1194.5,291.7 L1196.5,293 L1198.5,294.5 L1200.5,296.1 L1202.5,297.6 L1204.5,299 L1206.5,299.6 L1208.5,299.5 L1210.5,298.9 L1212.5,298.4 L1214.5,298 L1216.5,297.7 L1218.5,297.9 L1220.5,299.2 L1222.5,301.8 L1224.5,304.8 L1226.5,307.9 L1228.5,311.4 L1230.5,315.5 L1232.5,320.8 L1234.5,326.8 L1236.5,332.8 L1238.5,338.2 L1240.5,342.9 L1242.5,346.7 L1244.5,349.6 L1246.5,351.6 L1248.5,352.4 L1250.5,351.6 L1252.5,349.5 L1254.5,346.7 L1256.5,343.5 L1258.5,339.6 L1260.5,335.1 L1262.5,329.8 L1264.5,323.8 L1266.5,317.7 L1268.5,312.3 L1270.5,307.2 L1272.5,302.2 L1274.5,297.1 L1276.5,292 L1278.5,287.3 L1280.5,283.4 L1282.5,280.3 L1284.5,277.4 L1286.5,274.7 L1288.5,272.1 L1290.5,269.8 L1292.5,268 L1294.5,267 L1296.5,267 L1296.7,267" stroke="#0000ff" stroke-width="1.6" stroke-dasharray="20 11" fill="none"/>
<path d="M1060.5,294.4 H1297.3" stroke="#000" stroke-width="1.5" fill="none"/>
<path d="M1090.1,290.9 v7 M1149.3,290.9 v7 M1208.5,290.9 v7 M1267.7,290.9 v7 " stroke="#000" stroke-width="1.5" fill="none"/>
<rect x="1149.3" y="211.3" width="59.2" height="166.2" fill="#e0e0e0" fill-opacity="0.5" stroke="#000" stroke-width="1.5"/>
<path d="M1031.3,211.3 V502.1 H1297.3" stroke="#111" stroke-width="1.6" fill="none"/>
<path d="M1031.3,211.3 h4 M1031.3,294.4 h4 M1031.3,377.5 h4 M1031.3,460.6 h4 M1090.1,502.1 v-4 M1208.5,502.1 v-4 M1267.7,502.1 v-4 " stroke="#1e1e1e" stroke-width="1.5" fill="none"/>
<text x="1017.3" y="224.8" font-size="32.8" text-anchor="end" textLength="41.7" lengthAdjust="spacingAndGlyphs" fill="#1e1e1e">0.1</text>
<text x="1018.8" y="307.9" font-size="32.8" text-anchor="end" textLength="16.7" lengthAdjust="spacingAndGlyphs" fill="#1e1e1e">0</text>
<text x="1017.3" y="391" font-size="32.8" text-anchor="end" textLength="51.7" lengthAdjust="spacingAndGlyphs" fill="#1e1e1e">-0.1</text>
<text x="1020.3" y="474.1" font-size="32.8" text-anchor="end" textLength="51.7" lengthAdjust="spacingAndGlyphs" fill="#1e1e1e">-0.2</text>
<text x="1090.1" y="547.1" font-size="32.8" text-anchor="middle" textLength="76.7" lengthAdjust="spacingAndGlyphs" fill="#1e1e1e">-1000</text>
<text x="1208.5" y="547.1" font-size="32.8" text-anchor="middle" textLength="16.7" lengthAdjust="spacingAndGlyphs" fill="#1e1e1e">0</text>
<text x="1267.7" y="547.1" font-size="32.8" text-anchor="middle" textLength="50" lengthAdjust="spacingAndGlyphs" fill="#1e1e1e">500</text>
</g>
<g id="pD">
<path d="M1560.9,377.5 V502.1" stroke="#2a2a2a" stroke-width="1.1" stroke-dasharray="2.6 2.52" fill="none"/>
<rect x="1501.6" y="211.3" width="59.3" height="166.2" fill="#f0f0f0" fill-opacity="1" stroke="#000" stroke-width="1.5"/>
<path d="M1412.7,309.7 L1414.7,310 L1416.7,310.4 L1418.7,310.8 L1420.7,311.1 L1422.7,311.5 L1424.7,311.8 L1426.7,312.2 L1428.7,312.5 L1430.7,312.8 L1432.7,313.1 L1434.7,313.4 L1436.7,313.7 L1438.7,314 L1440.7,314.2 L1442.7,314.2 L1444.7,314.1 L1446.7,313.9 L1448.7,313.6 L1450.7,313.2 L1452.7,312.8 L1454.7,312.3 L1456.7,311.9 L1458.7,311.5 L1460.7,311.2 L1462.7,311.1 L1464.7,311.1 L1466.7,311.2 L1468.7,311.3 L1470.7,311.3 L1472.7,311.1 L1474.7,310.5 L1476.7,309.4 L1478.7,307.9 L1480.7,306.2 L1482.7,304.3 L1484.7,302.2 L1486.7,299.9 L1488.7,297.5 L1490.7,295.1 L1492.7,292.9 L1494.7,290.9 L1496.7,289.1 L1498.7,287.4 L1500.7,285.8 L1502.7,284.4 L1504.7,283.2 L1506.7,282.2 L1508.7,281.3 L1510.7,280.6 L1512.7,280.3 L1514.7,280.3 L1516.7,280.7 L1518.7,281.2 L1520.7,281.9 L1522.7,282.7 L1524.7,283.5 L1526.7,284.4 L1528.7,285.4 L1530.7,286.4 L1532.7,287.6 L1534.7,288.9 L1536.7,290.2 L1538.7,291.5 L1540.7,292.7 L1542.7,293.8 L1544.7,294.8 L1546.7,295.7 L1548.7,296.5 L1550.7,297.2 L1552.7,297.8 L1554.7,298.5 L1556.7,299.1 L1558.7,299.8 L1560.7,300.7 L1562.7,301.7 L1564.7,302.8 L1566.7,304.2 L1568.7,305.9 L1570.7,308 L1572.7,311 L1574.7,314.9 L1576.7,319.6 L1578.7,324.6 L1580.7,330.2 L1582.7,336.4 L1584.7,343 L1586.7,349.9 L1588.7,356.7 L1590.7,363.5 L1592.7,370.4 L1594.7,377.7 L1596.7,384.9 L1598.7,391.3 L1600.7,396.1 L1602.7,398.7 L1604.7,399.1 L1606.7,397.5 L1608.7,394.4 L1610.7,390.3 L1612.7,385.5 L1614.7,380.6 L1616.7,375.2 L1618.7,369.2 L1620.7,362.8 L1622.7,356.2 L1624.7,350.1 L1626.7,344.7 L1628.7,340.1 L1630.7,336 L1632.7,332.2 L1634.7,328.9 L1636.7,326.3 L1638.7,324.2 L1640.7,322.5 L1642.7,321 L1644.7,319.8 L1646.7,319.1 L1648.7,319 L1649.3,319.2 L1649.3,360.1 L1648.7,360.6 L1646.7,362.4 L1644.7,364.5 L1642.7,367 L1640.7,369.6 L1638.7,372.3 L1636.7,375 L1634.7,377.9 L1632.7,381 L1630.7,384.5 L1628.7,388.6 L1626.7,393.7 L1624.7,400.3 L1622.7,408.4 L1620.7,417.4 L1618.7,426.7 L1616.7,435.4 L1614.7,443.3 L1612.7,450.9 L1610.7,458.5 L1608.7,465.5 L1606.7,471.6 L1604.7,476 L1602.7,478.3 L1600.7,477.7 L1598.7,473.8 L1596.7,467.2 L1594.7,458.9 L1592.7,449.6 L1590.7,440 L1588.7,429.6 L1586.7,418 L1584.7,405.7 L1582.7,393.5 L1580.7,381.9 L1578.7,371.4 L1576.7,361.8 L1574.7,352.9 L1572.7,344.9 L1570.7,338.4 L1568.7,333.2 L1566.7,329 L1564.7,325.3 L1562.7,322.4 L1560.7,320.6 L1558.7,319.5 L1556.7,318.9 L1554.7,318.6 L1552.7,318.4 L1550.7,318.2 L1548.7,317.8 L1546.7,317.1 L1544.7,316.1 L1542.7,314.6 L1540.7,312.6 L1538.7,310.4 L1536.7,308.1 L1534.7,305.7 L1532.7,303.6 L1530.7,301.9 L1528.7,300.7 L1526.7,299.8 L1524.7,299.2 L1522.7,298.8 L1520.7,298.6 L1518.7,298.6 L1516.7,298.7 L1514.7,299 L1512.7,299.4 L1510.7,300.3 L1508.7,301.5 L1506.7,303.2 L1504.7,305.4 L1502.7,308.3 L1500.7,311.6 L1498.7,315.2 L1496.7,318.8 L1494.7,322.1 L1492.7,325.2 L1490.7,328.2 L1488.7,331.2 L1486.7,334 L1484.7,336.6 L1482.7,339 L1480.7,341.3 L1478.7,343.5 L1476.7,345.4 L1474.7,346.8 L1472.7,347.4 L1470.7,347.2 L1468.7,346.7 L1466.7,345.9 L1464.7,345.2 L1462.7,344.7 L1460.7,344.7 L1458.7,345 L1456.7,345.6 L1454.7,346.3 L1452.7,347.1 L1450.7,348 L1448.7,348.8 L1446.7,349.5 L1444.7,350.1 L1442.7,350.5 L1440.7,350.7 L1438.7,350.7 L1436.7,350.5 L1434.7,350.2 L1432.7,349.7 L1430.7,349.2 L1428.7,348.5 L1426.7,347.5 L1424.7,346.4 L1422.7,345.1 L1420.7,343.6 L1418.7,342 L1416.7,340.3 L1414.7,338.5 L1412.7,336.8 Z" fill="#ff0000" fill-opacity="0.2" stroke="none"/>
<path d="M1412.7,311.2 L1414.7,311.7 L1416.7,312.2 L1418.7,312.7 L1420.7,313.1 L1422.7,313.6 L1424.7,313.9 L1426.7,314.1 L1428.7,314.2 L1430.7,314.2 L1432.7,314.1 L1434.7,313.9 L1436.7,313.7 L1438.7,313.5 L1440.7,313.3 L1442.7,313 L1444.7,312.8 L1446.7,312.6 L1448.7,312.4 L1450.7,312.2 L1452.7,312 L1454.7,311.8 L1456.7,311.6 L1458.7,311.4 L1460.7,311.2 L1462.7,310.9 L1464.7,310.6 L1466.7,310.3 L1468.7,309.9 L1470.7,309.3 L1472.7,308.2 L1474.7,306.7 L1476.7,304.9 L1478.7,303.1 L1480.7,301.5 L1482.7,300.1 L1484.7,298.8 L1486.7,297.5 L1488.7,296.4 L1490.7,295.4 L1492.7,294.8 L1494.7,294.7 L1496.7,294.9 L1498.7,295.5 L1500.7,296.3 L1502.7,297 L1504.7,297.4 L1506.7,297.4 L1508.7,297.1 L1510.7,296.5 L1512.7,295.7 L1514.7,294.7 L1516.7,293.6 L1518.7,292.2 L1520.7,290.6 L1522.7,289 L1524.7,287.5 L1526.7,286.3 L1528.7,285.6 L1530.7,285.2 L1532.7,285 L1534.7,284.9 L1536.7,284.9 L1538.7,285 L1540.7,285.1 L1542.7,285.3 L1544.7,285.6 L1546.7,285.8 L1548.7,286.2 L1550.7,286.5 L1552.7,286.9 L1554.7,287.3 L1556.7,287.7 L1558.7,288.1 L1560.7,288.5 L1562.7,289 L1564.7,289.6 L1566.7,290.2 L1568.7,291.1 L1570.7,292.4 L1572.7,294.3 L1574.7,297 L1576.7,300.1 L1578.7,303.5 L1580.7,307 L1582.7,310.9 L1584.7,315 L1586.7,319.2 L1588.7,323.3 L1590.7,327.5 L1592.7,331.9 L1594.7,336.4 L1596.7,340.7 L1598.7,344.6 L1600.7,347.7 L1602.7,349.9 L1604.7,350.9 L1606.7,350.8 L1608.7,349.7 L1610.7,347.8 L1612.7,344.9 L1614.7,341.1 L1616.7,336.5 L1618.7,331.4 L1620.7,326.2 L1622.7,321.1 L1624.7,315.6 L1626.7,310.1 L1628.7,305.2 L1630.7,301.2 L1632.7,298.3 L1634.7,296.3 L1636.7,294.6 L1638.7,293.3 L1640.7,292.3 L1642.7,291.5 L1644.7,290.8 L1646.7,290.3 L1648.7,290.2 L1649.3,290.4 L1649.3,317 L1648.7,317.7 L1646.7,320 L1644.7,322.3 L1642.7,324.6 L1640.7,326.7 L1638.7,328.8 L1636.7,330.8 L1634.7,333.1 L1632.7,335.9 L1630.7,339.7 L1628.7,344.8 L1626.7,351.1 L1624.7,357.8 L1622.7,364.3 L1620.7,370.3 L1618.7,375.8 L1616.7,381.2 L1614.7,386.1 L1612.7,390.3 L1610.7,393.9 L1608.7,396.8 L1606.7,399.2 L1604.7,400.9 L1602.7,401.7 L1600.7,401.5 L1598.7,399.9 L1596.7,397 L1594.7,393 L1592.7,388.2 L1590.7,382.8 L1588.7,376.6 L1586.7,368.9 L1584.7,359.9 L1582.7,350.5 L1580.7,341.5 L1578.7,333.7 L1576.7,326.8 L1574.7,320.4 L1572.7,315 L1570.7,311.3 L1568.7,309.1 L1566.7,307.8 L1564.7,306.7 L1562.7,305.9 L1560.7,305.2 L1558.7,304.5 L1556.7,303.9 L1554.7,303.3 L1552.7,302.6 L1550.7,302 L1548.7,301.5 L1546.7,301.1 L1544.7,300.7 L1542.7,300.6 L1540.7,300.5 L1538.7,300.7 L1536.7,301.1 L1534.7,301.5 L1532.7,302.2 L1530.7,302.9 L1528.7,303.8 L1526.7,305 L1524.7,306.6 L1522.7,308.5 L1520.7,310.5 L1518.7,312.5 L1516.7,314.4 L1514.7,316.2 L1512.7,317.8 L1510.7,319.4 L1508.7,320.7 L1506.7,321.5 L1504.7,321.8 L1502.7,321.6 L1500.7,321.2 L1498.7,320.7 L1496.7,320.3 L1494.7,320.3 L1492.7,320.7 L1490.7,321.2 L1488.7,321.9 L1486.7,322.7 L1484.7,323.6 L1482.7,324.5 L1480.7,325.4 L1478.7,326.4 L1476.7,327.5 L1474.7,328.6 L1472.7,329.6 L1470.7,330.5 L1468.7,331.2 L1466.7,331.9 L1464.7,332.5 L1462.7,333.2 L1460.7,333.7 L1458.7,334.3 L1456.7,334.8 L1454.7,335.3 L1452.7,335.7 L1450.7,336.1 L1448.7,336.5 L1446.7,336.8 L1444.7,337.1 L1442.7,337.4 L1440.7,337.6 L1438.7,337.9 L1436.7,338.1 L1434.7,338.3 L1432.7,338.4 L1430.7,338.5 L1428.7,338.5 L1426.7,338.4 L1424.7,338.3 L1422.7,338.1 L1420.7,337.9 L1418.7,337.7 L1416.7,337.5 L1414.7,337.2 L1412.7,336.9 Z" fill="#0000ff" fill-opacity="0.2" stroke="none"/>
<path d="M1412.7,320.8 L1414.7,322.7 L1416.7,324.5 L1418.7,326.2 L1420.7,327.8 L1422.7,329.3 L1424.7,330.8 L1426.7,332.3 L1428.7,333.7 L1430.7,334.9 L1432.7,335.9 L1434.7,336.6 L1436.7,337.2 L1438.7,337.6 L1440.7,337.8 L1442.7,337.6 L1444.7,337.1 L1446.7,336.4 L1448.7,335.7 L1450.7,335 L1452.7,334.4 L1454.7,333.9 L1456.7,333.4 L1458.7,333 L1460.7,332.8 L1462.7,332.8 L1464.7,333 L1466.7,333.3 L1468.7,333.5 L1470.7,333.5 L1472.7,333 L1474.7,332.2 L1476.7,331.2 L1478.7,329.7 L1480.7,327.5 L1482.7,324.9 L1484.7,322.1 L1486.7,319.1 L1488.7,315.9 L1490.7,312.6 L1492.7,309.3 L1494.7,306 L1496.7,302.7 L1498.7,299.6 L1500.7,296.7 L1502.7,294.1 L1504.7,292 L1506.7,290.5 L1508.7,289.5 L1510.7,288.7 L1512.7,288.3 L1514.7,288.3 L1516.7,288.6 L1518.7,289 L1520.7,289.6 L1522.7,290.1 L1524.7,290.8 L1526.7,291.6 L1528.7,292.5 L1530.7,293.6 L1532.7,295.1 L1534.7,296.8 L1536.7,298.6 L1538.7,300.5 L1540.7,302.3 L1542.7,304.1 L1544.7,305.6 L1546.7,307 L1548.7,308.1 L1550.7,309 L1552.7,309.6 L1554.7,309.9 L1556.7,310.1 L1558.7,310.3 L1560.7,310.7 L1562.7,311.3 L1564.7,312.4 L1566.7,314 L1568.7,317 L1570.7,321.6 L1572.7,328 L1574.7,336.1 L1576.7,345.6 L1578.7,356.1 L1580.7,367 L1582.7,377.7 L1584.7,388.3 L1586.7,398.7 L1588.7,408.4 L1590.7,417.1 L1592.7,424.4 L1594.7,430.3 L1596.7,434.7 L1598.7,437.6 L1600.7,439 L1602.7,439.2 L1604.7,438.2 L1606.7,435.9 L1608.7,432.1 L1610.7,426.7 L1612.7,420 L1614.7,412.6 L1616.7,405.3 L1618.7,398.2 L1620.7,391.3 L1622.7,384.5 L1624.7,377.8 L1626.7,371.7 L1628.7,366.3 L1630.7,361.6 L1632.7,357.5 L1634.7,353.9 L1636.7,350.7 L1638.7,348 L1640.7,345.8 L1642.7,343.9 L1644.7,342.3 L1646.7,341.2 L1648.7,340.9 L1649.3,341" stroke="#ff0000" stroke-width="1.6" fill="none"/>
<path d="M1412.7,324 L1414.7,324.6 L1416.7,325.1 L1418.7,325.6 L1420.7,326 L1422.7,326.3 L1424.7,326.6 L1426.7,326.9 L1428.7,327.1 L1430.7,327.2 L1432.7,327.1 L1434.7,326.9 L1436.7,326.5 L1438.7,325.9 L1440.7,325.3 L1442.7,324.8 L1444.7,324.3 L1446.7,323.9 L1448.7,323.6 L1450.7,323.4 L1452.7,323.1 L1454.7,322.9 L1456.7,322.7 L1458.7,322.5 L1460.7,322.4 L1462.7,322.3 L1464.7,322.2 L1466.7,322.1 L1468.7,321.9 L1470.7,321.4 L1472.7,320.5 L1474.7,319.1 L1476.7,317.5 L1478.7,315.8 L1480.7,314.2 L1482.7,312.4 L1484.7,310.9 L1486.7,309.7 L1488.7,308.9 L1490.7,308.4 L1492.7,308.2 L1494.7,308.4 L1496.7,308.9 L1498.7,309.6 L1500.7,310.2 L1502.7,310.6 L1504.7,311 L1506.7,311.1 L1508.7,311.1 L1510.7,310.7 L1512.7,309.8 L1514.7,308.5 L1516.7,306.8 L1518.7,304.8 L1520.7,302.7 L1522.7,300.7 L1524.7,298.8 L1526.7,297 L1528.7,295.5 L1530.7,294.5 L1532.7,293.8 L1534.7,293.3 L1536.7,293 L1538.7,292.8 L1540.7,292.7 L1542.7,292.8 L1544.7,292.9 L1546.7,293 L1548.7,293.3 L1550.7,293.6 L1552.7,294.1 L1554.7,294.6 L1556.7,295.3 L1558.7,296 L1560.7,296.8 L1562.7,297.3 L1564.7,297.8 L1566.7,298.5 L1568.7,300 L1570.7,302.3 L1572.7,305.4 L1574.7,309.5 L1576.7,314.7 L1578.7,320.9 L1580.7,327.4 L1582.7,333.9 L1584.7,340.5 L1586.7,347.1 L1588.7,354 L1590.7,360.5 L1592.7,365.9 L1594.7,370.1 L1596.7,373.3 L1598.7,375.4 L1600.7,376.1 L1602.7,375.9 L1604.7,375.1 L1606.7,373.9 L1608.7,372.3 L1610.7,370.4 L1612.7,367.9 L1614.7,364.8 L1616.7,360.9 L1618.7,356 L1620.7,350.6 L1622.7,345.1 L1624.7,339.5 L1626.7,334.1 L1628.7,329 L1630.7,324.2 L1632.7,319.9 L1634.7,316.3 L1636.7,313.3 L1638.7,311 L1640.7,309.3 L1642.7,308.1 L1644.7,307.3 L1646.7,306.9 L1648.7,307 L1649.3,307.2" stroke="#0000ff" stroke-width="1.6" stroke-dasharray="20 11" fill="none"/>
<path d="M1412.7,294.4 H1649.9" stroke="#000" stroke-width="1.5" fill="none"/>
<path d="M1442.3,290.9 v7 M1501.6,290.9 v7 M1560.9,290.9 v7 M1620.2,290.9 v7 " stroke="#000" stroke-width="1.5" fill="none"/>
<path d="M1383.2,211.3 V502.1 H1649.9" stroke="#111" stroke-width="1.6" fill="none"/>
<path d="M1383.2,211.3 h4 M1383.2,294.4 h4 M1383.2,377.5 h4 M1383.2,460.6 h4 M1442.3,502.1 v-4 M1560.9,502.1 v-4 M1620.2,502.1 v-4 " stroke="#1e1e1e" stroke-width="1.5" fill="none"/>
<text x="1369.2" y="224.8" font-size="32.8" text-anchor="end" textLength="41.7" lengthAdjust="spacingAndGlyphs" fill="#1e1e1e">0.1</text>
<text x="1370.7" y="307.9" font-size="32.8" text-anchor="end" textLength="16.7" lengthAdjust="spacingAndGlyphs" fill="#1e1e1e">0</text>
<text x="1369.2" y="391" font-size="32.8" text-anchor="end" textLength="51.7" lengthAdjust="spacingAndGlyphs" fill="#1e1e1e">-0.1</text>
<text x="1372.2" y="474.1" font-size="32.8" text-anchor="end" textLength="51.7" lengthAdjust="spacingAndGlyphs" fill="#1e1e1e">-0.2</text>
<text x="1442.3" y="547.1" font-size="32.8" text-anchor="middle" textLength="76.7" lengthAdjust="spacingAndGlyphs" fill="#1e1e1e">-1000</text>
<text x="1560.9" y="547.1" font-size="32.8" text-anchor="middle" textLength="16.7" lengthAdjust="spacingAndGlyphs" fill="#1e1e1e">0</text>
<text x="1620.2" y="547.1" font-size="32.8" text-anchor="middle" textLength="50" lengthAdjust="spacingAndGlyphs" fill="#1e1e1e">500</text>
</g>
<g id="pE">
<path d="M420.4,619.8 V906.6" stroke="#2a2a2a" stroke-width="1.1" stroke-dasharray="2.6 2.52" fill="none"/>
<path d="M271.1,694 L273.1,694 L275.1,694.1 L277.1,694.3 L279.1,694.5 L281.1,694.7 L283.1,694.9 L285.1,695.1 L287.1,695.4 L289.1,695.7 L291.1,696 L293.1,696.4 L295.1,696.9 L297.1,697.4 L299.1,697.9 L301.1,698.4 L303.1,699 L305.1,699.7 L307.1,700.4 L309.1,701.1 L311.1,701.6 L313.1,702 L315.1,702.2 L317.1,702.2 L319.1,702.3 L321.1,702.4 L323.1,702.6 L325.1,703 L327.1,704 L329.1,705.7 L331.1,707.9 L333.1,710.3 L335.1,712.7 L337.1,714.6 L339.1,716 L341.1,716.5 L343.1,716.6 L345.1,716.3 L347.1,716 L349.1,715.7 L351.1,715.4 L353.1,715.2 L355.1,715.2 L357.1,715.2 L359.1,715.4 L361.1,715.6 L363.1,715.7 L365.1,715.9 L367.1,716.2 L369.1,716.4 L371.1,716.7 L373.1,717 L375.1,717.4 L377.1,717.8 L379.1,718.3 L381.1,718.7 L383.1,719.2 L385.1,719.5 L387.1,719.8 L389.1,720.1 L391.1,720.4 L393.1,720.6 L395.1,720.8 L397.1,721 L399.1,721.1 L401.1,721.2 L403.1,721.1 L405.1,721 L407.1,720.8 L409.1,720.5 L411.1,720.2 L413.1,720 L415.1,719.8 L417.1,719.7 L419.1,719.9 L421.1,720.2 L423.1,720.6 L425.1,721.1 L427.1,721.8 L429.1,722.7 L431.1,723.7 L433.1,724.9 L435.1,726.1 L437.1,727.5 L439.1,729.1 L441.1,730.5 L443.1,731.4 L445.1,731.5 L447.1,730.5 L449.1,728.8 L451.1,726.6 L453.1,724.2 L455.1,721.8 L457.1,719.3 L459.1,716.6 L461.1,713.8 L463.1,710.9 L465.1,708 L467.1,705.1 L469.1,702.2 L471.1,699.1 L473.1,696.2 L475.1,693.4 L477.1,690.9 L479.1,688.7 L481.1,686.6 L483.1,684.8 L485.1,683.5 L487.1,682.8 L489.1,682.8 L491.1,683.2 L493.1,683.9 L495.1,684.8 L497.1,685.8 L499.1,686.8 L501.1,688 L503.1,689.3 L505.1,690.7 L507.1,692.2 L509.1,693.8 L509.4,694 L509.4,716.3 L509.1,716.2 L507.1,715 L505.1,713.9 L503.1,712.9 L501.1,711.9 L499.1,711 L497.1,710.1 L495.1,709.3 L493.1,708.5 L491.1,708 L489.1,707.7 L487.1,707.9 L485.1,708.8 L483.1,710.3 L481.1,712.3 L479.1,714.5 L477.1,716.6 L475.1,718.8 L473.1,721 L471.1,723.3 L469.1,725.6 L467.1,728 L465.1,730.5 L463.1,733.2 L461.1,735.9 L459.1,738.5 L457.1,741 L455.1,743.1 L453.1,745 L451.1,746.6 L449.1,748 L447.1,749 L445.1,749.7 L443.1,749.9 L441.1,749.6 L439.1,749.1 L437.1,748.2 L435.1,747.1 L433.1,745.7 L431.1,743.9 L429.1,742 L427.1,740.4 L425.1,739.3 L423.1,738.7 L421.1,738.2 L419.1,737.9 L417.1,737.9 L415.1,738.1 L413.1,738.5 L411.1,739 L409.1,739.5 L407.1,740 L405.1,740.4 L403.1,740.7 L401.1,740.9 L399.1,740.8 L397.1,740.7 L395.1,740.4 L393.1,740.1 L391.1,739.8 L389.1,739.6 L387.1,739.5 L385.1,739.5 L383.1,739.8 L381.1,740.3 L379.1,740.8 L377.1,741.4 L375.1,741.9 L373.1,742.2 L371.1,742.3 L369.1,742.2 L367.1,741.8 L365.1,741.3 L363.1,740.6 L361.1,739.8 L359.1,739.1 L357.1,738.3 L355.1,737.6 L353.1,737 L351.1,736.3 L349.1,735.6 L347.1,734.8 L345.1,733.9 L343.1,733 L341.1,731.9 L339.1,730.5 L337.1,728.6 L335.1,726.4 L333.1,723.9 L331.1,721.5 L329.1,719.4 L327.1,717.7 L325.1,716.6 L323.1,715.9 L321.1,715.5 L319.1,715.1 L317.1,714.8 L315.1,714.6 L313.1,714.2 L311.1,713.8 L309.1,713.2 L307.1,712.7 L305.1,712 L303.1,711.3 L301.1,710.4 L299.1,709.4 L297.1,708.1 L295.1,706.7 L293.1,705.3 L291.1,704 L289.1,702.9 L287.1,702.1 L285.1,701.6 L283.1,701.2 L281.1,701 L279.1,700.8 L277.1,700.9 L275.1,701 L273.1,701.2 L271.1,701.5 Z" fill="#ff0000" fill-opacity="0.2" stroke="none"/>
<path d="M271.1,695.4 L273.1,695.2 L275.1,695 L277.1,694.6 L279.1,694.1 L281.1,693.6 L283.1,692.9 L285.1,692.1 L287.1,691.3 L289.1,690.6 L291.1,690.1 L293.1,689.8 L295.1,689.6 L297.1,689.5 L299.1,689.4 L301.1,689.4 L303.1,689.5 L305.1,689.6 L307.1,689.8 L309.1,690.1 L311.1,690.3 L313.1,690.6 L315.1,691 L317.1,691.4 L319.1,691.9 L321.1,692.6 L323.1,693.4 L325.1,694.4 L327.1,695.6 L329.1,697.1 L331.1,699 L333.1,701.1 L335.1,703.3 L337.1,705.5 L339.1,707.5 L341.1,709.7 L343.1,711.9 L345.1,713.8 L347.1,715.4 L349.1,716.3 L351.1,716.8 L353.1,716.9 L355.1,717 L357.1,717 L359.1,716.9 L361.1,716.7 L363.1,716.5 L365.1,716.3 L367.1,716.1 L369.1,715.9 L371.1,715.6 L373.1,715.3 L375.1,714.9 L377.1,714.5 L379.1,714 L381.1,713.5 L383.1,712.9 L385.1,712.4 L387.1,711.9 L389.1,711.4 L391.1,711 L393.1,710.5 L395.1,710 L397.1,709.4 L399.1,708.7 L401.1,707.8 L403.1,706.8 L405.1,705.7 L407.1,704.6 L409.1,703.6 L411.1,702.8 L413.1,702.2 L415.1,701.8 L417.1,701.5 L419.1,701.4 L421.1,701.6 L423.1,702.2 L425.1,703 L427.1,704 L429.1,705 L431.1,705.8 L433.1,706.5 L435.1,707 L437.1,707.5 L439.1,707.7 L441.1,707.6 L443.1,707.1 L445.1,706.2 L447.1,704.8 L449.1,703.5 L451.1,702.3 L453.1,701.1 L455.1,699.9 L457.1,698.8 L459.1,697.8 L461.1,697.2 L463.1,696.9 L465.1,696.8 L467.1,696.8 L469.1,696.9 L471.1,697 L473.1,697 L475.1,696.9 L477.1,696.6 L479.1,696.3 L481.1,695.9 L483.1,695.3 L485.1,694.1 L487.1,692.4 L489.1,690.4 L491.1,688.7 L493.1,687.7 L495.1,687.2 L497.1,687.2 L499.1,687.4 L501.1,687.9 L503.1,688.9 L505.1,690.4 L507.1,692.2 L509.1,694 L509.4,694.2 L509.4,702.5 L509.1,702.7 L507.1,704.9 L505.1,707.2 L503.1,709.2 L501.1,710.6 L499.1,711.5 L497.1,712.2 L495.1,712.9 L493.1,713.4 L491.1,713.9 L489.1,714.3 L487.1,714.7 L485.1,715 L483.1,715 L481.1,714.4 L479.1,713.2 L477.1,712 L475.1,711 L473.1,710.9 L471.1,711.4 L469.1,712.4 L467.1,713.9 L465.1,715.5 L463.1,717.2 L461.1,719 L459.1,720.9 L457.1,723.1 L455.1,725.3 L453.1,727.4 L451.1,729.2 L449.1,730.7 L447.1,731.9 L445.1,732.8 L443.1,733.2 L441.1,733.1 L439.1,732.7 L437.1,732.2 L435.1,731.5 L433.1,730.8 L431.1,730.1 L429.1,729.2 L427.1,728.2 L425.1,727.3 L423.1,726.5 L421.1,725.9 L419.1,725.6 L417.1,725.6 L415.1,725.9 L413.1,726.4 L411.1,727.1 L409.1,728 L407.1,729.1 L405.1,730.5 L403.1,732 L401.1,733.3 L399.1,734.4 L397.1,735.2 L395.1,735.9 L393.1,736.4 L391.1,736.9 L389.1,737.4 L387.1,737.7 L385.1,738 L383.1,738.3 L381.1,738.6 L379.1,738.9 L377.1,739.1 L375.1,739.3 L373.1,739.4 L371.1,739.5 L369.1,739.6 L367.1,739.6 L365.1,739.5 L363.1,739.4 L361.1,739.3 L359.1,738.9 L357.1,738.4 L355.1,737.6 L353.1,736.7 L351.1,735.6 L349.1,734.3 L347.1,732.7 L345.1,730.8 L343.1,728.7 L341.1,726.4 L339.1,724.2 L337.1,722.1 L335.1,720 L333.1,717.8 L331.1,715.7 L329.1,713.8 L327.1,712.2 L325.1,710.9 L323.1,709.7 L321.1,708.7 L319.1,707.8 L317.1,706.9 L315.1,706.1 L313.1,705.4 L311.1,704.7 L309.1,704 L307.1,703.4 L305.1,702.7 L303.1,702.1 L301.1,701.4 L299.1,700.7 L297.1,700 L295.1,699.3 L293.1,698.8 L291.1,698.6 L289.1,698.7 L287.1,699.2 L285.1,699.9 L283.1,700.7 L281.1,701.2 L279.1,701.6 L277.1,701.9 L275.1,702.1 L273.1,702.2 L271.1,702.2 Z" fill="#0000ff" fill-opacity="0.2" stroke="none"/>
<path d="M271.1,698.2 L273.1,698.3 L275.1,698.5 L277.1,698.6 L279.1,698.7 L281.1,698.8 L283.1,698.9 L285.1,699 L287.1,699.1 L289.1,699.3 L291.1,699.4 L293.1,699.7 L295.1,700.1 L297.1,700.8 L299.1,701.8 L301.1,702.9 L303.1,704.2 L305.1,705.5 L307.1,706.8 L309.1,707.8 L311.1,708.3 L313.1,708.3 L315.1,708.1 L317.1,707.8 L319.1,707.7 L321.1,707.9 L323.1,708.3 L325.1,709 L327.1,710 L329.1,711.3 L331.1,713.1 L333.1,715.1 L335.1,717.2 L337.1,719.4 L339.1,721.6 L341.1,723.4 L343.1,724.5 L345.1,725.2 L347.1,725.6 L349.1,725.7 L351.1,725.5 L353.1,725 L355.1,724.6 L357.1,724.4 L359.1,724.6 L361.1,725.1 L363.1,725.8 L365.1,726.6 L367.1,727.5 L369.1,728.6 L371.1,729.5 L373.1,730.1 L375.1,730.2 L377.1,729.9 L379.1,729.5 L381.1,729.1 L383.1,728.8 L385.1,728.6 L387.1,728.4 L389.1,728.3 L391.1,728.2 L393.1,728.1 L395.1,728 L397.1,728 L399.1,728 L401.1,728.1 L403.1,728 L405.1,728 L407.1,727.8 L409.1,727.7 L411.1,727.5 L413.1,727.3 L415.1,727.1 L417.1,726.9 L419.1,726.7 L421.1,726.6 L423.1,727 L425.1,727.7 L427.1,729 L429.1,730.6 L431.1,732.7 L433.1,734.8 L435.1,736.7 L437.1,738.5 L439.1,739.9 L441.1,740.8 L443.1,741 L445.1,740.8 L447.1,739.8 L449.1,738.4 L451.1,736.5 L453.1,734.4 L455.1,732.1 L457.1,729.6 L459.1,727 L461.1,724.3 L463.1,721.5 L465.1,718.6 L467.1,715.8 L469.1,712.9 L471.1,710.1 L473.1,707.3 L475.1,704.6 L477.1,701.9 L479.1,699.6 L481.1,697.8 L483.1,696.4 L485.1,695.4 L487.1,694.9 L489.1,694.8 L491.1,695 L493.1,695.5 L495.1,696.2 L497.1,697.2 L499.1,698.5 L501.1,699.9 L503.1,701.3 L505.1,702.8 L507.1,704.3 L509.1,706 L509.4,706.1" stroke="#ff0000" stroke-width="1.6" fill="none"/>
<path d="M271.1,700 L273.1,700.6 L275.1,700.8 L277.1,700.6 L279.1,699.8 L281.1,698.8 L283.1,697.8 L285.1,696.8 L287.1,695.9 L289.1,695.3 L291.1,695.2 L293.1,695.7 L295.1,696.5 L297.1,697.3 L299.1,697.9 L301.1,698.3 L303.1,698.7 L305.1,699.1 L307.1,699.5 L309.1,700 L311.1,700.5 L313.1,701 L315.1,701.5 L317.1,702 L319.1,702.4 L321.1,702.9 L323.1,703.5 L325.1,704.6 L327.1,706.2 L329.1,708.1 L331.1,710.1 L333.1,711.7 L335.1,713.2 L337.1,714.7 L339.1,716.3 L341.1,717.9 L343.1,719.5 L345.1,721.1 L347.1,722.9 L349.1,724.6 L351.1,726.2 L353.1,727.3 L355.1,728 L357.1,728.5 L359.1,728.7 L361.1,728.7 L363.1,728.4 L365.1,728.1 L367.1,727.8 L369.1,727.3 L371.1,726.9 L373.1,726.4 L375.1,725.8 L377.1,725.3 L379.1,725 L381.1,724.7 L383.1,724.6 L385.1,724.5 L387.1,724.3 L389.1,723.9 L391.1,723.3 L393.1,722.7 L395.1,721.9 L397.1,721 L399.1,720.1 L401.1,719.1 L403.1,718.1 L405.1,717 L407.1,715.9 L409.1,714.9 L411.1,714 L413.1,713.4 L415.1,713.2 L417.1,713.2 L419.1,713.6 L421.1,714.4 L423.1,715.4 L425.1,716.4 L427.1,717.4 L429.1,718.3 L431.1,719.2 L433.1,719.9 L435.1,720.5 L437.1,720.8 L439.1,720.8 L441.1,720.5 L443.1,719.8 L445.1,718.8 L447.1,717.3 L449.1,715.6 L451.1,713.8 L453.1,712.2 L455.1,710.5 L457.1,708.9 L459.1,707.5 L461.1,706.1 L463.1,705 L465.1,704.2 L467.1,703.8 L469.1,703.8 L471.1,704 L473.1,704.4 L475.1,704.9 L477.1,705.5 L479.1,706.2 L481.1,706.6 L483.1,706.5 L485.1,705.8 L487.1,704.8 L489.1,703.7 L491.1,702.5 L493.1,701.3 L495.1,700.1 L497.1,699.2 L499.1,698.4 L501.1,697.9 L503.1,697.9 L505.1,698.4 L507.1,699.1 L509.1,699.8 L509.4,699.9" stroke="#0000ff" stroke-width="1.6" stroke-dasharray="20 11" fill="none"/>
<path d="M241.4,698.9 H509.9" stroke="#000" stroke-width="1.5" fill="none"/>
<path d="M301,695.4 v7 M360.7,695.4 v7 M420.4,695.4 v7 M480.1,695.4 v7 " stroke="#000" stroke-width="1.5" fill="none"/>
<rect x="241.4" y="615.8" width="59.6" height="166.2" fill="#e0e0e0" fill-opacity="0.5" stroke="#000" stroke-width="1.5"/>
<path d="M241.4,615.8 V906.6 H509.9" stroke="#111" stroke-width="1.6" fill="none"/>
<path d="M241.4,615.8 h4 M241.4,698.9 h4 M241.4,782 h4 M241.4,865.1 h4 M301,906.6 v-4 M420.4,906.6 v-4 M480.1,906.6 v-4 " stroke="#1e1e1e" stroke-width="1.5" fill="none"/>
<text x="227.4" y="629.3" font-size="32.8" text-anchor="end" textLength="41.7" lengthAdjust="spacingAndGlyphs" fill="#1e1e1e">0.1</text>
<text x="228.9" y="712.4" font-size="32.8" text-anchor="end" textLength="16.7" lengthAdjust="spacingAndGlyphs" fill="#1e1e1e">0</text>
<text x="227.4" y="795.5" font-size="32.8" text-anchor="end" textLength="51.7" lengthAdjust="spacingAndGlyphs" fill="#1e1e1e">-0.1</text>
<text x="230.4" y="878.6" font-size="32.8" text-anchor="end" textLength="51.7" lengthAdjust="spacingAndGlyphs" fill="#1e1e1e">-0.2</text>
<text x="301" y="951.6" font-size="32.8" text-anchor="middle" textLength="76.7" lengthAdjust="spacingAndGlyphs" fill="#1e1e1e">-1000</text>
<text x="420.4" y="951.6" font-size="32.8" text-anchor="middle" textLength="16.7" lengthAdjust="spacingAndGlyphs" fill="#1e1e1e">0</text>
<text x="480.1" y="951.6" font-size="32.8" text-anchor="middle" textLength="50" lengthAdjust="spacingAndGlyphs" fill="#1e1e1e">500</text>
</g>
<g id="pF">
<path d="M772.4,619.8 V906.6" stroke="#2a2a2a" stroke-width="1.1" stroke-dasharray="2.6 2.52" fill="none"/>
<path d="M623.1,690.9 L625.1,691.3 L627.1,691.8 L629.1,692.2 L631.1,692.7 L633.1,693.2 L635.1,693.7 L637.1,694.2 L639.1,694.7 L641.1,695.3 L643.1,695.8 L645.1,696.4 L647.1,696.9 L649.1,697.4 L651.1,697.9 L653.1,698.4 L655.1,698.8 L657.1,699.1 L659.1,699.2 L661.1,699.3 L663.1,699.2 L665.1,698.9 L667.1,698.2 L669.1,697.4 L671.1,696.4 L673.1,695.3 L675.1,694.2 L677.1,693 L679.1,691.8 L681.1,690.5 L683.1,689.2 L685.1,687.9 L687.1,686.7 L689.1,685.7 L691.1,684.8 L693.1,684.1 L695.1,683.4 L697.1,682.7 L699.1,681.9 L701.1,681.1 L703.1,680.1 L705.1,678.8 L707.1,677.4 L709.1,675.6 L711.1,673.7 L713.1,671.7 L715.1,669.2 L717.1,666.2 L719.1,662.5 L721.1,658.8 L723.1,655.8 L725.1,653.8 L727.1,652.5 L729.1,651.4 L731.1,650.6 L733.1,650.1 L735.1,650 L737.1,650.3 L739.1,650.8 L741.1,651.6 L743.1,652.6 L745.1,653.9 L747.1,655.3 L749.1,657 L751.1,659.1 L753.1,661.6 L755.1,664.1 L757.1,666.3 L759.1,668.1 L761.1,669.7 L763.1,671.1 L765.1,672.4 L767.1,673.9 L769.1,675.5 L771.1,677.4 L773.1,679.4 L775.1,681.4 L777.1,683.5 L779.1,685.3 L781.1,687.2 L783.1,689 L785.1,690.7 L787.1,692.2 L789.1,693.3 L791.1,694 L793.1,694.3 L795.1,694.6 L797.1,694.8 L799.1,695 L801.1,695.3 L803.1,695.5 L805.1,695.9 L807.1,696.3 L809.1,696.7 L811.1,696.8 L813.1,696.5 L815.1,695.4 L817.1,693.7 L819.1,691.6 L821.1,689.4 L823.1,687.3 L825.1,685.3 L827.1,683.3 L829.1,681.3 L831.1,679.8 L833.1,679 L835.1,679 L837.1,679.4 L839.1,680.1 L841.1,680.9 L843.1,681.4 L845.1,681.7 L847.1,681.8 L849.1,681.7 L851.1,681.6 L853.1,681.4 L855.1,681.1 L857.1,680.8 L859.1,680.4 L861.1,680 L861.4,679.9 L861.4,697.3 L861.1,697.4 L859.1,698.9 L857.1,700.3 L855.1,701.8 L853.1,703.1 L851.1,704.2 L849.1,705.2 L847.1,705.7 L845.1,705.9 L843.1,705.7 L841.1,705.1 L839.1,704.4 L837.1,703.6 L835.1,703.2 L833.1,703.2 L831.1,703.7 L829.1,704.5 L827.1,705.7 L825.1,706.9 L823.1,708.3 L821.1,709.9 L819.1,711.8 L817.1,713.7 L815.1,715.2 L813.1,716.2 L811.1,716.6 L809.1,716.5 L807.1,716.1 L805.1,715.7 L803.1,715.2 L801.1,714.8 L799.1,714.3 L797.1,713.8 L795.1,713.3 L793.1,712.8 L791.1,712.2 L789.1,711.6 L787.1,710.8 L785.1,709.9 L783.1,708.8 L781.1,707.7 L779.1,706.3 L777.1,704.5 L775.1,702.2 L773.1,699.5 L771.1,697.1 L769.1,695.5 L767.1,694.5 L765.1,694.1 L763.1,693.9 L761.1,693.6 L759.1,693.1 L757.1,692.1 L755.1,690.8 L753.1,689.1 L751.1,687.4 L749.1,685.6 L747.1,683.7 L745.1,681.6 L743.1,679.4 L741.1,677.3 L739.1,675.6 L737.1,674.7 L735.1,674.7 L733.1,675.6 L731.1,677.4 L729.1,679.5 L727.1,681.8 L725.1,683.8 L723.1,685.5 L721.1,687 L719.1,688.4 L717.1,689.7 L715.1,690.8 L713.1,691.7 L711.1,692.5 L709.1,693.3 L707.1,694 L705.1,694.7 L703.1,695.4 L701.1,696 L699.1,696.6 L697.1,697.2 L695.1,697.8 L693.1,698.3 L691.1,698.9 L689.1,699.5 L687.1,700.2 L685.1,700.9 L683.1,701.6 L681.1,702.3 L679.1,703.1 L677.1,703.9 L675.1,704.8 L673.1,706 L671.1,707.4 L669.1,708.9 L667.1,710.3 L665.1,711.4 L663.1,712.1 L661.1,712.2 L659.1,712.1 L657.1,711.7 L655.1,711.1 L653.1,710.4 L651.1,709.6 L649.1,708.7 L647.1,707.7 L645.1,706.7 L643.1,705.6 L641.1,704.6 L639.1,703.6 L637.1,702.7 L635.1,701.9 L633.1,701.1 L631.1,700.3 L629.1,699.6 L627.1,698.9 L625.1,698.3 L623.1,697.7 Z" fill="#ff0000" fill-opacity="0.2" stroke="none"/>
<path d="M623.1,698.4 L625.1,698 L627.1,697.3 L629.1,696.4 L631.1,695.4 L633.1,694.3 L635.1,693 L637.1,691.7 L639.1,690.1 L641.1,688.3 L643.1,686.4 L645.1,684.5 L647.1,682.8 L649.1,681.2 L651.1,679.5 L653.1,677.9 L655.1,676.3 L657.1,675 L659.1,674.1 L661.1,673.7 L663.1,673.7 L665.1,674.2 L667.1,674.9 L669.1,675.8 L671.1,676.7 L673.1,677.6 L675.1,678.6 L677.1,679.6 L679.1,680.7 L681.1,681.6 L683.1,682.2 L685.1,682.5 L687.1,682.5 L689.1,682.3 L691.1,682.1 L693.1,681.7 L695.1,681.4 L697.1,681 L699.1,680.6 L701.1,680.2 L703.1,679.8 L705.1,679.4 L707.1,679.1 L709.1,678.8 L711.1,678.5 L713.1,678.2 L715.1,678 L717.1,677.7 L719.1,677.5 L721.1,677.3 L723.1,677.1 L725.1,677 L727.1,676.9 L729.1,676.8 L731.1,676.7 L733.1,676.5 L735.1,676 L737.1,675.2 L739.1,674.3 L741.1,673.1 L743.1,671.9 L745.1,670.7 L747.1,669.5 L749.1,668.2 L751.1,666.9 L753.1,665.5 L755.1,664.1 L757.1,662.7 L759.1,661.4 L761.1,660.2 L763.1,659.2 L765.1,658.6 L767.1,658.7 L769.1,659.8 L771.1,661.5 L773.1,663.8 L775.1,666.2 L777.1,668.6 L779.1,671.3 L781.1,674 L783.1,676.8 L785.1,679.4 L787.1,682 L789.1,684.5 L791.1,686.9 L793.1,688.8 L795.1,690.4 L797.1,691.7 L799.1,692.8 L801.1,693.5 L803.1,693.9 L805.1,694 L807.1,694 L809.1,693.9 L811.1,693.9 L813.1,693.9 L815.1,694 L817.1,694.2 L819.1,694.4 L821.1,694.7 L823.1,695 L825.1,695.3 L827.1,695.3 L829.1,695 L831.1,694.2 L833.1,693.1 L835.1,691.6 L837.1,689.9 L839.1,687.7 L841.1,685.1 L843.1,682.6 L845.1,680.5 L847.1,678.9 L849.1,677.4 L851.1,676 L853.1,674.7 L855.1,673.7 L857.1,672.8 L859.1,672.2 L861.1,671.8 L861.4,671.8 L861.4,691.4 L861.1,691.5 L859.1,692.7 L857.1,694 L855.1,695.2 L853.1,696.5 L851.1,697.7 L849.1,699 L847.1,700.3 L845.1,701.6 L843.1,703 L841.1,704.5 L839.1,705.9 L837.1,707 L835.1,707.8 L833.1,708.2 L831.1,708.4 L829.1,708.7 L827.1,709.1 L825.1,709.8 L823.1,710.5 L821.1,711.2 L819.1,712 L817.1,712.8 L815.1,713.6 L813.1,714.4 L811.1,715.2 L809.1,716 L807.1,716.8 L805.1,717.5 L803.1,718 L801.1,718 L799.1,717.4 L797.1,716.2 L795.1,714.7 L793.1,712.9 L791.1,710.6 L789.1,707.8 L787.1,704.9 L785.1,702.2 L783.1,699.9 L781.1,697.8 L779.1,695.8 L777.1,693.9 L775.1,691.9 L773.1,689.9 L771.1,687.8 L769.1,686.1 L767.1,685.2 L765.1,685.4 L763.1,686.2 L761.1,687.4 L759.1,688.6 L757.1,689.7 L755.1,690.9 L753.1,692.1 L751.1,693.2 L749.1,694.3 L747.1,695.3 L745.1,696.2 L743.1,697.2 L741.1,698 L739.1,698.8 L737.1,699.4 L735.1,699.8 L733.1,699.9 L731.1,699.5 L729.1,698.7 L727.1,697.6 L725.1,696.6 L723.1,695.9 L721.1,695.6 L719.1,695.6 L717.1,695.8 L715.1,696.1 L713.1,696.4 L711.1,696.7 L709.1,696.9 L707.1,697.2 L705.1,697.4 L703.1,697.7 L701.1,697.9 L699.1,698.2 L697.1,698.4 L695.1,698.7 L693.1,699 L691.1,699.3 L689.1,699.6 L687.1,699.8 L685.1,699.9 L683.1,699.8 L681.1,699.3 L679.1,698.5 L677.1,697.5 L675.1,696.6 L673.1,695.7 L671.1,694.9 L669.1,694.2 L667.1,693.5 L665.1,692.9 L663.1,692.6 L661.1,692.6 L659.1,693.1 L657.1,693.9 L655.1,695 L653.1,696.1 L651.1,697.2 L649.1,698.1 L647.1,698.8 L645.1,699.3 L643.1,699.8 L641.1,700.3 L639.1,700.7 L637.1,701.3 L635.1,701.8 L633.1,702.5 L631.1,703.2 L629.1,703.9 L627.1,704.6 L625.1,705.3 L623.1,706.1 Z" fill="#0000ff" fill-opacity="0.2" stroke="none"/>
<path d="M623.1,694.2 L625.1,694.9 L627.1,695.6 L629.1,696.3 L631.1,697 L633.1,697.7 L635.1,698.4 L637.1,699.1 L639.1,699.8 L641.1,700.4 L643.1,701 L645.1,701.6 L647.1,702.1 L649.1,702.7 L651.1,703.2 L653.1,703.7 L655.1,704.1 L657.1,704.6 L659.1,705 L661.1,705.2 L663.1,705.1 L665.1,704.7 L667.1,704 L669.1,703.2 L671.1,702.2 L673.1,701 L675.1,699.7 L677.1,698.5 L679.1,697.2 L681.1,696 L683.1,694.8 L685.1,693.7 L687.1,692.8 L689.1,691.9 L691.1,691.1 L693.1,690.4 L695.1,689.7 L697.1,689 L699.1,688.4 L701.1,687.7 L703.1,687 L705.1,686.2 L707.1,685.3 L709.1,684.3 L711.1,683 L713.1,681.5 L715.1,679.5 L717.1,677.2 L719.1,674.9 L721.1,672.6 L723.1,670.4 L725.1,668.3 L727.1,666.4 L729.1,664.9 L731.1,663.8 L733.1,663 L735.1,662.6 L737.1,662.6 L739.1,663 L741.1,663.8 L743.1,664.9 L745.1,666.3 L747.1,668.2 L749.1,670.3 L751.1,672.6 L753.1,674.9 L755.1,677.3 L757.1,679.1 L759.1,680.4 L761.1,681.2 L763.1,681.9 L765.1,682.7 L767.1,683.6 L769.1,684.5 L771.1,685.6 L773.1,687 L775.1,688.8 L777.1,690.8 L779.1,692.9 L781.1,694.9 L783.1,696.7 L785.1,698.3 L787.1,699.6 L789.1,700.5 L791.1,701.2 L793.1,701.7 L795.1,702.2 L797.1,702.6 L799.1,703 L801.1,703.4 L803.1,704 L805.1,704.7 L807.1,705.6 L809.1,706.3 L811.1,706.7 L813.1,706.4 L815.1,705.5 L817.1,704.3 L819.1,702.6 L821.1,700.5 L823.1,698.1 L825.1,696 L827.1,694.2 L829.1,692.6 L831.1,691.5 L833.1,691.1 L835.1,691.5 L837.1,692.2 L839.1,692.8 L841.1,693.1 L843.1,693 L845.1,692.7 L847.1,692.4 L849.1,691.8 L851.1,691.2 L853.1,690.5 L855.1,690 L857.1,689.7 L859.1,689.5 L861.1,689.5 L861.4,689.5" stroke="#ff0000" stroke-width="1.6" fill="none"/>
<path d="M623.1,703.8 L625.1,703.1 L627.1,702.2 L629.1,701.2 L631.1,700.1 L633.1,698.9 L635.1,697.6 L637.1,696.4 L639.1,695.1 L641.1,693.9 L643.1,692.5 L645.1,691 L647.1,689.5 L649.1,688.1 L651.1,686.9 L653.1,685.8 L655.1,684.8 L657.1,683.8 L659.1,683 L661.1,682.5 L663.1,682.5 L665.1,683 L667.1,683.8 L669.1,684.7 L671.1,685.6 L673.1,686.7 L675.1,687.7 L677.1,688.9 L679.1,689.9 L681.1,690.7 L683.1,691 L685.1,691.1 L687.1,691.1 L689.1,690.9 L691.1,690.6 L693.1,690.3 L695.1,690 L697.1,689.6 L699.1,689.2 L701.1,688.7 L703.1,688.2 L705.1,687.7 L707.1,687.2 L709.1,686.7 L711.1,686.3 L713.1,685.9 L715.1,685.6 L717.1,685.5 L719.1,685.6 L721.1,685.7 L723.1,686 L725.1,686.3 L727.1,686.9 L729.1,687.5 L731.1,688.1 L733.1,688.5 L735.1,688.6 L737.1,688.4 L739.1,687.9 L741.1,687.2 L743.1,686.3 L745.1,685.2 L747.1,683.7 L749.1,682.1 L751.1,680.5 L753.1,678.9 L755.1,677.4 L757.1,675.9 L759.1,674.5 L761.1,673.2 L763.1,672 L765.1,671.4 L767.1,671.4 L769.1,672.1 L771.1,673.3 L773.1,674.9 L775.1,677.1 L777.1,679.8 L779.1,682.6 L781.1,685.6 L783.1,688.7 L785.1,691.5 L787.1,694.2 L789.1,696.6 L791.1,699 L793.1,701.1 L795.1,702.8 L797.1,703.9 L799.1,704.7 L801.1,705.4 L803.1,706.2 L805.1,707.1 L807.1,707.8 L809.1,708.2 L811.1,707.9 L813.1,707.3 L815.1,706.6 L817.1,705.8 L819.1,705.1 L821.1,704.4 L823.1,703.7 L825.1,703 L827.1,702.3 L829.1,701.5 L831.1,700.8 L833.1,699.9 L835.1,698.9 L837.1,697.5 L839.1,695.9 L841.1,694.1 L843.1,692.4 L845.1,690.5 L847.1,688.7 L849.1,687 L851.1,685.4 L853.1,683.9 L855.1,682.6 L857.1,681.3 L859.1,680.2 L861.1,679.3 L861.4,679.2" stroke="#0000ff" stroke-width="1.6" stroke-dasharray="20 11" fill="none"/>
<rect x="593.1" y="615.8" width="59.9" height="166.2" fill="#e0e0e0" fill-opacity="0.5" stroke="#000" stroke-width="1.5"/>
<path d="M593.1,698.9 H862" stroke="#000" stroke-width="1.5" fill="none"/>
<path d="M653,695.4 v7 M712.7,695.4 v7 M772.4,695.4 v7 M832.1,695.4 v7 " stroke="#000" stroke-width="1.5" fill="none"/>
<path d="M593.1,615.8 V906.6 H862" stroke="#111" stroke-width="1.6" fill="none"/>
<path d="M593.1,615.8 h4 M593.1,698.9 h4 M593.1,782 h4 M593.1,865.1 h4 M653,906.6 v-4 M772.4,906.6 v-4 M832.1,906.6 v-4 " stroke="#1e1e1e" stroke-width="1.5" fill="none"/>
<text x="579.1" y="629.3" font-size="32.8" text-anchor="end" textLength="41.7" lengthAdjust="spacingAndGlyphs" fill="#1e1e1e">0.1</text>
<text x="580.6" y="712.4" font-size="32.8" text-anchor="end" textLength="16.7" lengthAdjust="spacingAndGlyphs" fill="#1e1e1e">0</text>
<text x="579.1" y="795.5" font-size="32.8" text-anchor="end" textLength="51.7" lengthAdjust="spacingAndGlyphs" fill="#1e1e1e">-0.1</text>
<text x="582.1" y="878.6" font-size="32.8" text-anchor="end" textLength="51.7" lengthAdjust="spacingAndGlyphs" fill="#1e1e1e">-0.2</text>
<text x="653" y="951.6" font-size="32.8" text-anchor="middle" textLength="76.7" lengthAdjust="spacingAndGlyphs" fill="#1e1e1e">-1000</text>
<text x="772.4" y="951.6" font-size="32.8" text-anchor="middle" textLength="16.7" lengthAdjust="spacingAndGlyphs" fill="#1e1e1e">0</text>
<text x="832.1" y="951.6" font-size="32.8" text-anchor="middle" textLength="50" lengthAdjust="spacingAndGlyphs" fill="#1e1e1e">500</text>
</g>
<g id="pG">
<path d="M1208.5,782 V906.6" stroke="#2a2a2a" stroke-width="1.1" stroke-dasharray="2.6 2.52" fill="none"/>
<path d="M1060.5,656.1 L1062.5,655.8 L1064.5,655.6 L1066.5,655.3 L1068.5,655.2 L1070.5,655.1 L1072.5,655.1 L1074.5,655.3 L1076.5,655.6 L1078.5,656 L1080.5,656.5 L1082.5,657 L1084.5,657.6 L1086.5,658.1 L1088.5,658.7 L1090.5,659.3 L1092.5,659.8 L1094.5,660.4 L1096.5,660.9 L1098.5,661.5 L1100.5,662.1 L1102.5,662.8 L1104.5,663.5 L1106.5,664.2 L1108.5,665 L1110.5,666 L1112.5,666.9 L1114.5,668 L1116.5,669.1 L1118.5,670.2 L1120.5,671.5 L1122.5,672.9 L1124.5,674.5 L1126.5,676.2 L1128.5,678 L1130.5,679.6 L1132.5,681 L1134.5,682 L1136.5,682.6 L1138.5,682.9 L1140.5,683 L1142.5,683.2 L1144.5,683.7 L1146.5,684.6 L1148.5,686 L1150.5,687.9 L1152.5,689.9 L1154.5,691.7 L1156.5,693.1 L1158.5,694 L1160.5,694.6 L1162.5,695 L1164.5,695.4 L1166.5,695.8 L1168.5,696.1 L1170.5,696.2 L1172.5,696.3 L1174.5,696.3 L1176.5,696.1 L1178.5,695.9 L1180.5,695.5 L1182.5,695.1 L1184.5,694.7 L1186.5,694.4 L1188.5,694.1 L1190.5,694 L1192.5,694 L1194.5,694.1 L1196.5,694.2 L1198.5,694.4 L1200.5,694.6 L1202.5,694.9 L1204.5,695.1 L1206.5,695.3 L1208.5,695.4 L1210.5,695.5 L1212.5,695.5 L1214.5,695.5 L1216.5,695.4 L1218.5,695.5 L1220.5,695.9 L1222.5,696.6 L1224.5,697.5 L1226.5,698.4 L1228.5,699.3 L1230.5,699.8 L1232.5,699.8 L1234.5,699.2 L1236.5,698.1 L1238.5,696.5 L1240.5,694.7 L1242.5,692.7 L1244.5,690.5 L1246.5,687.8 L1248.5,684.7 L1250.5,681.5 L1252.5,678.2 L1254.5,675 L1256.5,671.8 L1258.5,668.4 L1260.5,664.9 L1262.5,661.7 L1264.5,658.9 L1266.5,656.8 L1268.5,655.3 L1270.5,654.2 L1272.5,653.5 L1274.5,653.1 L1276.5,653.1 L1278.5,653.5 L1280.5,653.9 L1282.5,654.5 L1284.5,655.2 L1286.5,656 L1288.5,656.8 L1290.5,657.8 L1292.5,659 L1294.5,660.2 L1296.5,661.5 L1296.7,661.6 L1296.7,690.8 L1296.5,690.6 L1294.5,688.9 L1292.5,687.2 L1290.5,685.7 L1288.5,684.4 L1286.5,683.2 L1284.5,682.1 L1282.5,681.1 L1280.5,680.4 L1278.5,680.1 L1276.5,680.5 L1274.5,681.9 L1272.5,684.3 L1270.5,687.4 L1268.5,690.4 L1266.5,693 L1264.5,695.2 L1262.5,697.2 L1260.5,699.1 L1258.5,701 L1256.5,703 L1254.5,705.1 L1252.5,707.4 L1250.5,709.7 L1248.5,712.1 L1246.5,714.4 L1244.5,716.5 L1242.5,718.5 L1240.5,720.5 L1238.5,722.3 L1236.5,723.9 L1234.5,725.1 L1232.5,725.7 L1230.5,725.4 L1228.5,724.3 L1226.5,722.5 L1224.5,720.3 L1222.5,717.9 L1220.5,715.6 L1218.5,713.6 L1216.5,711.7 L1214.5,709.9 L1212.5,708.2 L1210.5,706.9 L1208.5,706.1 L1206.5,705.5 L1204.5,705.1 L1202.5,704.7 L1200.5,704.3 L1198.5,704 L1196.5,703.7 L1194.5,703.4 L1192.5,703.2 L1190.5,702.9 L1188.5,702.7 L1186.5,702.4 L1184.5,702.1 L1182.5,701.9 L1180.5,701.7 L1178.5,701.6 L1176.5,701.5 L1174.5,701.6 L1172.5,701.8 L1170.5,702 L1168.5,702.4 L1166.5,702.8 L1164.5,703.2 L1162.5,703.6 L1160.5,704 L1158.5,704.5 L1156.5,704.9 L1154.5,705.5 L1152.5,706.1 L1150.5,706.7 L1148.5,707.2 L1146.5,707.5 L1144.5,707.4 L1142.5,706.9 L1140.5,706.2 L1138.5,705.3 L1136.5,704.3 L1134.5,703.4 L1132.5,702.5 L1130.5,701.6 L1128.5,700.6 L1126.5,699.7 L1124.5,698.8 L1122.5,697.9 L1120.5,697.1 L1118.5,696.4 L1116.5,695.7 L1114.5,695 L1112.5,694.3 L1110.5,693.8 L1108.5,693.2 L1106.5,692.8 L1104.5,692.4 L1102.5,692.1 L1100.5,691.9 L1098.5,691.7 L1096.5,691.6 L1094.5,691.5 L1092.5,691.3 L1090.5,691 L1088.5,690.6 L1086.5,690 L1084.5,689.4 L1082.5,688.7 L1080.5,688 L1078.5,687.3 L1076.5,686.8 L1074.5,686.4 L1072.5,686.1 L1070.5,686 L1068.5,685.9 L1066.5,686 L1064.5,686.1 L1062.5,686.2 L1060.5,686.4 Z" fill="#ff0000" fill-opacity="0.2" stroke="none"/>
<path d="M1060.5,657.7 L1062.5,657.3 L1064.5,657 L1066.5,656.7 L1068.5,656.5 L1070.5,656.3 L1072.5,656.1 L1074.5,656.1 L1076.5,656.1 L1078.5,656.2 L1080.5,656.4 L1082.5,656.6 L1084.5,656.8 L1086.5,657.1 L1088.5,657.4 L1090.5,657.7 L1092.5,658.1 L1094.5,658.6 L1096.5,659.2 L1098.5,659.8 L1100.5,660.5 L1102.5,661.2 L1104.5,661.9 L1106.5,662.7 L1108.5,663.7 L1110.5,664.7 L1112.5,665.8 L1114.5,667 L1116.5,668.3 L1118.5,669.6 L1120.5,671.2 L1122.5,672.9 L1124.5,674.7 L1126.5,676.6 L1128.5,678.4 L1130.5,680.1 L1132.5,681.6 L1134.5,683 L1136.5,684.4 L1138.5,685.7 L1140.5,686.8 L1142.5,687.7 L1144.5,688.4 L1146.5,689.1 L1148.5,689.6 L1150.5,690.2 L1152.5,690.7 L1154.5,691.2 L1156.5,691.6 L1158.5,692.1 L1160.5,692.6 L1162.5,693 L1164.5,693.4 L1166.5,693.7 L1168.5,693.9 L1170.5,693.9 L1172.5,693.6 L1174.5,693.1 L1176.5,692.5 L1178.5,691.7 L1180.5,690.8 L1182.5,689.9 L1184.5,688.9 L1186.5,687.6 L1188.5,685.9 L1190.5,684.1 L1192.5,682.3 L1194.5,680.7 L1196.5,679.5 L1198.5,679 L1200.5,678.9 L1202.5,679.2 L1204.5,679.5 L1206.5,679.9 L1208.5,680.2 L1210.5,680.5 L1212.5,680.8 L1214.5,681 L1216.5,681.3 L1218.5,681.5 L1220.5,681.7 L1222.5,681.8 L1224.5,681.8 L1226.5,681.6 L1228.5,681.2 L1230.5,680.8 L1232.5,680.1 L1234.5,679 L1236.5,677.3 L1238.5,675.3 L1240.5,673.2 L1242.5,671.3 L1244.5,669.7 L1246.5,668.4 L1248.5,667.2 L1250.5,666.2 L1252.5,665.5 L1254.5,665.3 L1256.5,665.6 L1258.5,666.5 L1260.5,667.7 L1262.5,669 L1264.5,670.1 L1266.5,670.9 L1268.5,671.3 L1270.5,671.3 L1272.5,670.9 L1274.5,670.3 L1276.5,669.4 L1278.5,668 L1280.5,666.2 L1282.5,664.3 L1284.5,662.7 L1286.5,661.8 L1288.5,661.4 L1290.5,661.3 L1292.5,661.5 L1294.5,662 L1296.5,662.6 L1296.7,662.7 L1296.7,690.1 L1296.5,690 L1294.5,689 L1292.5,688 L1290.5,687.1 L1288.5,686.5 L1286.5,686.4 L1284.5,686.8 L1282.5,687.7 L1280.5,688.8 L1278.5,689.9 L1276.5,690.7 L1274.5,691.2 L1272.5,691.6 L1270.5,691.9 L1268.5,692.2 L1266.5,692.5 L1264.5,692.8 L1262.5,693 L1260.5,693.2 L1258.5,693.5 L1256.5,693.7 L1254.5,694 L1252.5,694.4 L1250.5,694.9 L1248.5,695.5 L1246.5,696.2 L1244.5,697 L1242.5,698 L1240.5,699.2 L1238.5,700.5 L1236.5,701.9 L1234.5,703.3 L1232.5,704.4 L1230.5,705.4 L1228.5,706.3 L1226.5,707 L1224.5,707.5 L1222.5,707.6 L1220.5,707.2 L1218.5,706.5 L1216.5,705.6 L1214.5,704.6 L1212.5,703.5 L1210.5,702.4 L1208.5,701.4 L1206.5,700.3 L1204.5,699.1 L1202.5,698.1 L1200.5,697.4 L1198.5,697.1 L1196.5,697.1 L1194.5,697.5 L1192.5,698 L1190.5,698.8 L1188.5,699.6 L1186.5,700.4 L1184.5,701.2 L1182.5,702 L1180.5,702.8 L1178.5,703.6 L1176.5,704.4 L1174.5,705.2 L1172.5,706 L1170.5,706.8 L1168.5,707.6 L1166.5,708.5 L1164.5,709.3 L1162.5,710.2 L1160.5,711 L1158.5,711.9 L1156.5,712.6 L1154.5,713.3 L1152.5,713.9 L1150.5,714.2 L1148.5,714.4 L1146.5,714.3 L1144.5,714 L1142.5,713.4 L1140.5,712.4 L1138.5,711 L1136.5,709.4 L1134.5,707.7 L1132.5,706 L1130.5,704.4 L1128.5,702.8 L1126.5,701.3 L1124.5,699.7 L1122.5,698.2 L1120.5,696.7 L1118.5,695.4 L1116.5,694.1 L1114.5,692.8 L1112.5,691.5 L1110.5,690.4 L1108.5,689.3 L1106.5,688.5 L1104.5,687.7 L1102.5,687.1 L1100.5,686.5 L1098.5,685.9 L1096.5,685.4 L1094.5,685 L1092.5,684.8 L1090.5,684.9 L1088.5,685 L1086.5,685.3 L1084.5,685.7 L1082.5,686.1 L1080.5,686.6 L1078.5,687 L1076.5,687.5 L1074.5,687.9 L1072.5,688.4 L1070.5,688.8 L1068.5,689.2 L1066.5,689.7 L1064.5,690.1 L1062.5,690.6 L1060.5,691 Z" fill="#0000ff" fill-opacity="0.2" stroke="none"/>
<path d="M1060.5,668.9 L1062.5,669 L1064.5,669.1 L1066.5,669.2 L1068.5,669.3 L1070.5,669.4 L1072.5,669.5 L1074.5,669.7 L1076.5,669.9 L1078.5,670.1 L1080.5,670.5 L1082.5,671 L1084.5,671.7 L1086.5,672.6 L1088.5,673.6 L1090.5,674.6 L1092.5,675.7 L1094.5,676.9 L1096.5,677.9 L1098.5,678.6 L1100.5,678.8 L1102.5,678.8 L1104.5,678.8 L1106.5,678.8 L1108.5,678.9 L1110.5,679.1 L1112.5,679.3 L1114.5,679.9 L1116.5,680.9 L1118.5,682.6 L1120.5,684.5 L1122.5,686.4 L1124.5,688.2 L1126.5,690.1 L1128.5,691.8 L1130.5,693.3 L1132.5,694.5 L1134.5,695.5 L1136.5,696 L1138.5,696 L1140.5,695.7 L1142.5,695.3 L1144.5,695.3 L1146.5,695.5 L1148.5,696 L1150.5,696.7 L1152.5,697.6 L1154.5,698.6 L1156.5,699.5 L1158.5,700 L1160.5,700.4 L1162.5,700.7 L1164.5,700.8 L1166.5,700.8 L1168.5,700.5 L1170.5,700.2 L1172.5,699.8 L1174.5,699.5 L1176.5,699.2 L1178.5,699.1 L1180.5,698.9 L1182.5,698.8 L1184.5,698.8 L1186.5,698.8 L1188.5,698.8 L1190.5,698.8 L1192.5,698.8 L1194.5,698.8 L1196.5,698.6 L1198.5,698.5 L1200.5,698.3 L1202.5,698.2 L1204.5,698.1 L1206.5,698.1 L1208.5,698.3 L1210.5,698.8 L1212.5,700 L1214.5,701.4 L1216.5,703.1 L1218.5,704.9 L1220.5,706.8 L1222.5,708.5 L1224.5,709.9 L1226.5,710.9 L1228.5,711.7 L1230.5,711.9 L1232.5,711.5 L1234.5,710.5 L1236.5,709.1 L1238.5,707.3 L1240.5,705.3 L1242.5,702.9 L1244.5,700.3 L1246.5,697.7 L1248.5,694.9 L1250.5,692.1 L1252.5,689.3 L1254.5,686.4 L1256.5,683.6 L1258.5,680.7 L1260.5,678 L1262.5,675.5 L1264.5,673 L1266.5,670.8 L1268.5,669.2 L1270.5,667.9 L1272.5,666.9 L1274.5,666.3 L1276.5,666 L1278.5,666.1 L1280.5,666.4 L1282.5,667 L1284.5,667.8 L1286.5,669 L1288.5,670.3 L1290.5,671.7 L1292.5,673.1 L1294.5,674.5 L1296.5,676 L1296.7,676.2" stroke="#ff0000" stroke-width="1.6" fill="none"/>
<path d="M1060.5,674.8 L1062.5,675.8 L1064.5,676.6 L1066.5,676.8 L1068.5,676.3 L1070.5,675.2 L1072.5,674 L1074.5,672.8 L1076.5,671.6 L1078.5,670.5 L1080.5,669.9 L1082.5,670.1 L1084.5,670.6 L1086.5,671.3 L1088.5,672 L1090.5,672.6 L1092.5,673.2 L1094.5,673.8 L1096.5,674.4 L1098.5,674.9 L1100.5,675.4 L1102.5,675.9 L1104.5,676.4 L1106.5,676.9 L1108.5,677.5 L1110.5,678.1 L1112.5,678.9 L1114.5,679.9 L1116.5,681.2 L1118.5,682.9 L1120.5,684.6 L1122.5,686.3 L1124.5,687.9 L1126.5,689.5 L1128.5,691.1 L1130.5,692.6 L1132.5,693.9 L1134.5,695.3 L1136.5,696.8 L1138.5,698.6 L1140.5,700.4 L1142.5,701.9 L1144.5,702.8 L1146.5,703.4 L1148.5,703.7 L1150.5,703.7 L1152.5,703.7 L1154.5,703.5 L1156.5,703.2 L1158.5,702.9 L1160.5,702.5 L1162.5,702 L1164.5,701.4 L1166.5,700.9 L1168.5,700.5 L1170.5,700.2 L1172.5,699.9 L1174.5,699.6 L1176.5,699.1 L1178.5,698.3 L1180.5,697.4 L1182.5,696.3 L1184.5,695.1 L1186.5,693.9 L1188.5,692.6 L1190.5,691.4 L1192.5,690.4 L1194.5,689.7 L1196.5,689.2 L1198.5,688.8 L1200.5,688.7 L1202.5,688.7 L1204.5,688.9 L1206.5,689.1 L1208.5,689.5 L1210.5,690 L1212.5,690.8 L1214.5,691.8 L1216.5,692.9 L1218.5,693.8 L1220.5,694.6 L1222.5,695.1 L1224.5,695.4 L1226.5,695.3 L1228.5,694.7 L1230.5,693.7 L1232.5,692.5 L1234.5,691.2 L1236.5,689.9 L1238.5,688.6 L1240.5,687.2 L1242.5,685.9 L1244.5,684.6 L1246.5,683.3 L1248.5,682.1 L1250.5,681 L1252.5,680 L1254.5,679.3 L1256.5,678.9 L1258.5,679.1 L1260.5,679.5 L1262.5,680 L1264.5,680.4 L1266.5,680.7 L1268.5,680.9 L1270.5,680.9 L1272.5,680.5 L1274.5,679.6 L1276.5,678.5 L1278.5,676.9 L1280.5,675.1 L1282.5,673.6 L1284.5,672.8 L1286.5,672.8 L1288.5,673.1 L1290.5,673.7 L1292.5,674.5 L1294.5,675.5 L1296.5,676.5 L1296.7,676.6" stroke="#0000ff" stroke-width="1.6" stroke-dasharray="20 11" fill="none"/>
<path d="M1060.5,698.9 H1297.3" stroke="#000" stroke-width="1.5" fill="none"/>
<path d="M1090.1,695.4 v7 M1149.3,695.4 v7 M1208.5,695.4 v7 M1267.7,695.4 v7 " stroke="#000" stroke-width="1.5" fill="none"/>
<rect x="1149.3" y="615.8" width="59.2" height="166.2" fill="#e0e0e0" fill-opacity="0.5" stroke="#000" stroke-width="1.5"/>
<path d="M1031.3,615.8 V906.6 H1297.3" stroke="#111" stroke-width="1.6" fill="none"/>
<path d="M1031.3,615.8 h4 M1031.3,698.9 h4 M1031.3,782 h4 M1031.3,865.1 h4 M1090.1,906.6 v-4 M1208.5,906.6 v-4 M1267.7,906.6 v-4 " stroke="#1e1e1e" stroke-width="1.5" fill="none"/>
<text x="1017.3" y="629.3" font-size="32.8" text-anchor="end" textLength="41.7" lengthAdjust="spacingAndGlyphs" fill="#1e1e1e">0.1</text>
<text x="1018.8" y="712.4" font-size="32.8" text-anchor="end" textLength="16.7" lengthAdjust="spacingAndGlyphs" fill="#1e1e1e">0</text>
<text x="1017.3" y="795.5" font-size="32.8" text-anchor="end" textLength="51.7" lengthAdjust="spacingAndGlyphs" fill="#1e1e1e">-0.1</text>
<text x="1020.3" y="878.6" font-size="32.8" text-anchor="end" textLength="51.7" lengthAdjust="spacingAndGlyphs" fill="#1e1e1e">-0.2</text>
<text x="1090.1" y="951.6" font-size="32.8" text-anchor="middle" textLength="76.7" lengthAdjust="spacingAndGlyphs" fill="#1e1e1e">-1000</text>
<text x="1208.5" y="951.6" font-size="32.8" text-anchor="middle" textLength="16.7" lengthAdjust="spacingAndGlyphs" fill="#1e1e1e">0</text>
<text x="1267.7" y="951.6" font-size="32.8" text-anchor="middle" textLength="50" lengthAdjust="spacingAndGlyphs" fill="#1e1e1e">500</text>
</g>
<g id="pH">
<path d="M1560.9,782 V906.6" stroke="#2a2a2a" stroke-width="1.1" stroke-dasharray="2.6 2.52" fill="none"/>
<rect x="1501.6" y="615.8" width="59.3" height="166.2" fill="#f0f0f0" fill-opacity="1" stroke="#000" stroke-width="1.5"/>
<path d="M1412.7,716.6 L1414.7,717 L1416.7,717.4 L1418.7,717.8 L1420.7,718.1 L1422.7,718.5 L1424.7,718.8 L1426.7,719.1 L1428.7,719.4 L1430.7,719.8 L1432.7,720.1 L1434.7,720.4 L1436.7,720.7 L1438.7,721 L1440.7,721.2 L1442.7,721.5 L1444.7,721.7 L1446.7,721.8 L1448.7,721.9 L1450.7,721.9 L1452.7,721.9 L1454.7,721.6 L1456.7,721.1 L1458.7,720.5 L1460.7,719.8 L1462.7,719 L1464.7,718.1 L1466.7,717.3 L1468.7,716.5 L1470.7,715.6 L1472.7,714.8 L1474.7,713.9 L1476.7,712.9 L1478.7,712 L1480.7,711 L1482.7,710.1 L1484.7,709.2 L1486.7,708.4 L1488.7,707.6 L1490.7,706.9 L1492.7,706.2 L1494.7,705.4 L1496.7,704.6 L1498.7,703.7 L1500.7,702.4 L1502.7,700.6 L1504.7,698.3 L1506.7,696.1 L1508.7,694.4 L1510.7,693.2 L1512.7,692.4 L1514.7,691.6 L1516.7,691.1 L1518.7,690.9 L1520.7,690.9 L1522.7,691.3 L1524.7,691.8 L1526.7,692.5 L1528.7,693.3 L1530.7,694.1 L1532.7,695 L1534.7,696 L1536.7,697 L1538.7,698.1 L1540.7,699.2 L1542.7,700.5 L1544.7,701.8 L1546.7,703.1 L1548.7,704.4 L1550.7,705.5 L1552.7,706.5 L1554.7,707.3 L1556.7,708 L1558.7,708.7 L1560.7,709.3 L1562.7,710.2 L1564.7,711.3 L1566.7,712.7 L1568.7,714.3 L1570.7,715.8 L1572.7,717.2 L1574.7,718.3 L1576.7,719.2 L1578.7,719.9 L1580.7,720.6 L1582.7,721.2 L1584.7,721.7 L1586.7,722.2 L1588.7,722.6 L1590.7,722.9 L1592.7,723.1 L1594.7,723.2 L1596.7,723.2 L1598.7,722.9 L1600.7,722.3 L1602.7,721.3 L1604.7,719.7 L1606.7,717.8 L1608.7,716 L1610.7,714.6 L1612.7,713.5 L1614.7,712.7 L1616.7,712.1 L1618.7,711.5 L1620.7,711.1 L1622.7,710.8 L1624.7,710.6 L1626.7,710.6 L1628.7,710.6 L1630.7,710.7 L1632.7,710.7 L1634.7,710.7 L1636.7,710.6 L1638.7,710.4 L1640.7,710.1 L1642.7,709.8 L1644.7,709.5 L1646.7,709.1 L1648.7,708.8 L1649.3,708.7 L1649.3,733.6 L1648.7,733.9 L1646.7,735 L1644.7,736.1 L1642.7,737.2 L1640.7,738.1 L1638.7,738.8 L1636.7,739.3 L1634.7,739.5 L1632.7,739.5 L1630.7,739.4 L1628.7,739.3 L1626.7,739.3 L1624.7,739.4 L1622.7,739.7 L1620.7,740.3 L1618.7,740.9 L1616.7,741.8 L1614.7,742.7 L1612.7,743.7 L1610.7,745.1 L1608.7,747 L1606.7,749.1 L1604.7,751.3 L1602.7,753.1 L1600.7,754.1 L1598.7,754.5 L1596.7,754.2 L1594.7,753.7 L1592.7,752.9 L1590.7,752.1 L1588.7,751.2 L1586.7,750.4 L1584.7,749.5 L1582.7,748.6 L1580.7,747.6 L1578.7,746.5 L1576.7,745.4 L1574.7,744.2 L1572.7,742.8 L1570.7,741.2 L1568.7,739.4 L1566.7,737.6 L1564.7,735.8 L1562.7,734 L1560.7,732.2 L1558.7,730.5 L1556.7,728.7 L1554.7,727 L1552.7,725.2 L1550.7,723.5 L1548.7,721.8 L1546.7,720.1 L1544.7,718.5 L1542.7,716.7 L1540.7,714.8 L1538.7,712.6 L1536.7,710 L1534.7,707 L1532.7,704.3 L1530.7,702 L1528.7,700.5 L1526.7,699.7 L1524.7,699.3 L1522.7,699.6 L1520.7,700.5 L1518.7,702 L1516.7,704 L1514.7,706.3 L1512.7,708.9 L1510.7,711.6 L1508.7,714.4 L1506.7,717.4 L1504.7,720.7 L1502.7,723.9 L1500.7,726.4 L1498.7,728.3 L1496.7,729.8 L1494.7,731.2 L1492.7,732.4 L1490.7,733.5 L1488.7,734.5 L1486.7,735.5 L1484.7,736.5 L1482.7,737.4 L1480.7,738.3 L1478.7,739.2 L1476.7,740.1 L1474.7,741 L1472.7,741.9 L1470.7,742.8 L1468.7,743.7 L1466.7,744.8 L1464.7,746 L1462.7,747.3 L1460.7,748.7 L1458.7,749.9 L1456.7,751.1 L1454.7,752 L1452.7,752.7 L1450.7,753.1 L1448.7,753.2 L1446.7,753.1 L1444.7,752.8 L1442.7,752.5 L1440.7,751.9 L1438.7,751.4 L1436.7,750.7 L1434.7,750 L1432.7,749.3 L1430.7,748.6 L1428.7,747.9 L1426.7,747.2 L1424.7,746.4 L1422.7,745.5 L1420.7,744.7 L1418.7,743.7 L1416.7,742.8 L1414.7,741.8 L1412.7,740.8 Z" fill="#ff0000" fill-opacity="0.2" stroke="none"/>
<path d="M1412.7,700.1 L1414.7,699.1 L1416.7,698.1 L1418.7,697.1 L1420.7,696 L1422.7,694.9 L1424.7,693.9 L1426.7,692.8 L1428.7,691.6 L1430.7,690.3 L1432.7,688.8 L1434.7,687.3 L1436.7,685.8 L1438.7,684.3 L1440.7,682.9 L1442.7,681.6 L1444.7,680.5 L1446.7,679.7 L1448.7,679.1 L1450.7,678.9 L1452.7,679.2 L1454.7,680 L1456.7,681.2 L1458.7,682.6 L1460.7,684 L1462.7,685.4 L1464.7,686.6 L1466.7,687.4 L1468.7,687.9 L1470.7,688.1 L1472.7,688.3 L1474.7,688.4 L1476.7,688.5 L1478.7,688.6 L1480.7,688.7 L1482.7,688.7 L1484.7,688.6 L1486.7,688.5 L1488.7,688.3 L1490.7,688 L1492.7,687.6 L1494.7,687.3 L1496.7,686.9 L1498.7,686.7 L1500.7,686.5 L1502.7,686.5 L1504.7,686.9 L1506.7,687.8 L1508.7,689.2 L1510.7,690.8 L1512.7,692.4 L1514.7,693.6 L1516.7,694.5 L1518.7,695.2 L1520.7,695.7 L1522.7,696 L1524.7,696.1 L1526.7,695.9 L1528.7,695.4 L1530.7,694.3 L1532.7,692.7 L1534.7,690.6 L1536.7,688.3 L1538.7,685.8 L1540.7,683.5 L1542.7,681.5 L1544.7,679.8 L1546.7,678.2 L1548.7,676.8 L1550.7,675.6 L1552.7,674.7 L1554.7,674.3 L1556.7,674.6 L1558.7,675.6 L1560.7,677.1 L1562.7,679.1 L1564.7,681.2 L1566.7,683.3 L1568.7,685.5 L1570.7,687.7 L1572.7,690.1 L1574.7,692.4 L1576.7,694.7 L1578.7,696.8 L1580.7,699 L1582.7,701.2 L1584.7,703.3 L1586.7,705.2 L1588.7,706.6 L1590.7,707.4 L1592.7,707.6 L1594.7,707.6 L1596.7,707.4 L1598.7,707 L1600.7,706.6 L1602.7,706.1 L1604.7,705.7 L1606.7,705.2 L1608.7,704.6 L1610.7,704 L1612.7,703.4 L1614.7,702.8 L1616.7,702.1 L1618.7,701.3 L1620.7,700.4 L1622.7,699.3 L1624.7,698 L1626.7,696.6 L1628.7,695.2 L1630.7,693.6 L1632.7,691.6 L1634.7,689.5 L1636.7,687.3 L1638.7,685.5 L1640.7,684.2 L1642.7,683.1 L1644.7,682.4 L1646.7,682 L1648.7,682 L1649.3,682.1 L1649.3,703.5 L1648.7,703.4 L1646.7,703.2 L1644.7,703.5 L1642.7,704.2 L1640.7,705.3 L1638.7,706.8 L1636.7,708.8 L1634.7,711.2 L1632.7,713.8 L1630.7,716.2 L1628.7,718.6 L1626.7,720.9 L1624.7,723.3 L1622.7,725.4 L1620.7,727.2 L1618.7,728.4 L1616.7,729.3 L1614.7,730 L1612.7,730.5 L1610.7,731 L1608.7,731.4 L1606.7,731.6 L1604.7,731.8 L1602.7,731.8 L1600.7,731.7 L1598.7,731.5 L1596.7,731.2 L1594.7,730.9 L1592.7,730.6 L1590.7,730.2 L1588.7,729.7 L1586.7,729 L1584.7,728 L1582.7,726.9 L1580.7,725.6 L1578.7,723.9 L1576.7,721.6 L1574.7,718.5 L1572.7,714.9 L1570.7,711.2 L1568.7,707.7 L1566.7,704.6 L1564.7,701.8 L1562.7,699.1 L1560.7,696.8 L1558.7,695 L1556.7,694.2 L1554.7,694.3 L1552.7,694.9 L1550.7,695.7 L1548.7,696.7 L1546.7,697.5 L1544.7,698.2 L1542.7,698.7 L1540.7,699.2 L1538.7,699.5 L1536.7,699.9 L1534.7,700.2 L1532.7,700.6 L1530.7,701.1 L1528.7,701.6 L1526.7,702.1 L1524.7,702.8 L1522.7,703.4 L1520.7,704.1 L1518.7,704.8 L1516.7,705.5 L1514.7,706.3 L1512.7,707 L1510.7,707.9 L1508.7,708.7 L1506.7,709.5 L1504.7,710.1 L1502.7,710.7 L1500.7,711.1 L1498.7,711.5 L1496.7,711.8 L1494.7,712.1 L1492.7,712.4 L1490.7,712.7 L1488.7,713 L1486.7,713.3 L1484.7,713.7 L1482.7,714.1 L1480.7,714.5 L1478.7,714.9 L1476.7,715.3 L1474.7,715.7 L1472.7,716 L1470.7,716.4 L1468.7,716.6 L1466.7,716.6 L1464.7,716.4 L1462.7,715.9 L1460.7,715.3 L1458.7,714.5 L1456.7,713.8 L1454.7,713.1 L1452.7,712.6 L1450.7,712.2 L1448.7,712.2 L1446.7,712.4 L1444.7,712.8 L1442.7,713.4 L1440.7,714.2 L1438.7,715.1 L1436.7,716 L1434.7,717.1 L1432.7,718.2 L1430.7,719.3 L1428.7,720.5 L1426.7,721.6 L1424.7,722.8 L1422.7,724.2 L1420.7,725.8 L1418.7,727.4 L1416.7,729.1 L1414.7,730.9 L1412.7,732.8 Z" fill="#0000ff" fill-opacity="0.2" stroke="none"/>
<path d="M1412.7,727.5 L1414.7,728.4 L1416.7,729.4 L1418.7,730.2 L1420.7,731 L1422.7,731.8 L1424.7,732.4 L1426.7,733 L1428.7,733.6 L1430.7,734.2 L1432.7,734.7 L1434.7,735.2 L1436.7,735.6 L1438.7,736.1 L1440.7,736.5 L1442.7,736.9 L1444.7,737.2 L1446.7,737.4 L1448.7,737.6 L1450.7,737.6 L1452.7,737.5 L1454.7,737.2 L1456.7,736.6 L1458.7,735.8 L1460.7,734.8 L1462.7,733.6 L1464.7,732.2 L1466.7,730.8 L1468.7,729.5 L1470.7,728.3 L1472.7,727.2 L1474.7,726.2 L1476.7,725.2 L1478.7,724.3 L1480.7,723.3 L1482.7,722.4 L1484.7,721.6 L1486.7,720.7 L1488.7,719.9 L1490.7,719.1 L1492.7,718.3 L1494.7,717.5 L1496.7,716.7 L1498.7,715.8 L1500.7,714.6 L1502.7,712.8 L1504.7,710.7 L1506.7,708.3 L1508.7,705.8 L1510.7,703.3 L1512.7,701.1 L1514.7,699.3 L1516.7,697.9 L1518.7,696.9 L1520.7,696.1 L1522.7,695.7 L1524.7,695.6 L1526.7,696 L1528.7,696.9 L1530.7,698.2 L1532.7,700.1 L1534.7,702.5 L1536.7,704.8 L1538.7,707 L1540.7,709 L1542.7,710.7 L1544.7,712.1 L1546.7,713.3 L1548.7,714.4 L1550.7,715.4 L1552.7,716.2 L1554.7,717 L1556.7,717.8 L1558.7,718.8 L1560.7,720.2 L1562.7,721.9 L1564.7,723.8 L1566.7,725.8 L1568.7,727.7 L1570.7,729.7 L1572.7,731.4 L1574.7,732.7 L1576.7,733.6 L1578.7,734.3 L1580.7,734.9 L1582.7,735.4 L1584.7,735.9 L1586.7,736.5 L1588.7,737 L1590.7,737.5 L1592.7,737.9 L1594.7,738.4 L1596.7,738.9 L1598.7,739.2 L1600.7,739.1 L1602.7,738.2 L1604.7,736.7 L1606.7,734.9 L1608.7,733 L1610.7,730.9 L1612.7,728.8 L1614.7,727 L1616.7,725.7 L1618.7,724.8 L1620.7,724.4 L1622.7,724.7 L1624.7,725.3 L1626.7,726 L1628.7,726.4 L1630.7,726.5 L1632.7,726.3 L1634.7,726 L1636.7,725.7 L1638.7,725.2 L1640.7,724.7 L1642.7,724.1 L1644.7,723.5 L1646.7,722.8 L1648.7,722.1 L1649.3,721.9" stroke="#ff0000" stroke-width="1.6" fill="none"/>
<path d="M1412.7,715.8 L1414.7,715.5 L1416.7,714.9 L1418.7,714.1 L1420.7,713.1 L1422.7,711.9 L1424.7,710.4 L1426.7,708.9 L1428.7,707.4 L1430.7,705.8 L1432.7,704.2 L1434.7,702.5 L1436.7,701 L1438.7,699.5 L1440.7,698.1 L1442.7,696.9 L1444.7,696 L1446.7,695.3 L1448.7,694.9 L1450.7,694.8 L1452.7,695 L1454.7,695.4 L1456.7,696.1 L1458.7,696.9 L1460.7,697.8 L1462.7,698.8 L1464.7,699.8 L1466.7,700.8 L1468.7,701.6 L1470.7,702.3 L1472.7,702.8 L1474.7,703.1 L1476.7,703.3 L1478.7,703.2 L1480.7,702.9 L1482.7,702.6 L1484.7,702.2 L1486.7,701.7 L1488.7,701.3 L1490.7,700.8 L1492.7,700.3 L1494.7,699.9 L1496.7,699.5 L1498.7,699.1 L1500.7,698.8 L1502.7,698.5 L1504.7,698.3 L1506.7,698 L1508.7,697.9 L1510.7,697.8 L1512.7,697.8 L1514.7,698 L1516.7,698.4 L1518.7,698.8 L1520.7,699.1 L1522.7,699.3 L1524.7,699.4 L1526.7,699.4 L1528.7,699.2 L1530.7,698.6 L1532.7,697.7 L1534.7,696.5 L1536.7,695.2 L1538.7,693.7 L1540.7,692.1 L1542.7,690.4 L1544.7,688.8 L1546.7,687.3 L1548.7,685.8 L1550.7,684.6 L1552.7,683.8 L1554.7,683.4 L1556.7,683.3 L1558.7,683.8 L1560.7,684.8 L1562.7,686.3 L1564.7,688.4 L1566.7,691 L1568.7,693.9 L1570.7,696.9 L1572.7,699.9 L1574.7,702.9 L1576.7,705.9 L1578.7,708.8 L1580.7,711.7 L1582.7,714.3 L1584.7,716.6 L1586.7,718.6 L1588.7,720.2 L1590.7,721 L1592.7,721 L1594.7,720.7 L1596.7,720.2 L1598.7,719.6 L1600.7,719 L1602.7,718.3 L1604.7,717.7 L1606.7,717 L1608.7,716.3 L1610.7,715.6 L1612.7,714.9 L1614.7,714.2 L1616.7,713.5 L1618.7,712.7 L1620.7,711.8 L1622.7,710.8 L1624.7,709.7 L1626.7,708.4 L1628.7,706.8 L1630.7,704.9 L1632.7,702.8 L1634.7,700.5 L1636.7,698.2 L1638.7,696.2 L1640.7,694.7 L1642.7,693.7 L1644.7,692.9 L1646.7,692.6 L1648.7,692.7 L1649.3,692.8" stroke="#0000ff" stroke-width="1.6" stroke-dasharray="20 11" fill="none"/>
<path d="M1412.7,698.9 H1649.9" stroke="#000" stroke-width="1.5" fill="none"/>
<path d="M1442.3,695.4 v7 M1501.6,695.4 v7 M1560.9,695.4 v7 M1620.2,695.4 v7 " stroke="#000" stroke-width="1.5" fill="none"/>
<path d="M1383.2,615.8 V906.6 H1649.9" stroke="#111" stroke-width="1.6" fill="none"/>
<path d="M1383.2,615.8 h4 M1383.2,698.9 h4 M1383.2,782 h4 M1383.2,865.1 h4 M1442.3,906.6 v-4 M1560.9,906.6 v-4 M1620.2,906.6 v-4 " stroke="#1e1e1e" stroke-width="1.5" fill="none"/>
<text x="1369.2" y="629.3" font-size="32.8" text-anchor="end" textLength="41.7" lengthAdjust="spacingAndGlyphs" fill="#1e1e1e">0.1</text>
<text x="1370.7" y="712.4" font-size="32.8" text-anchor="end" textLength="16.7" lengthAdjust="spacingAndGlyphs" fill="#1e1e1e">0</text>
<text x="1369.2" y="795.5" font-size="32.8" text-anchor="end" textLength="51.7" lengthAdjust="spacingAndGlyphs" fill="#1e1e1e">-0.1</text>
<text x="1372.2" y="878.6" font-size="32.8" text-anchor="end" textLength="51.7" lengthAdjust="spacingAndGlyphs" fill="#1e1e1e">-0.2</text>
<text x="1442.3" y="951.6" font-size="32.8" text-anchor="middle" textLength="76.7" lengthAdjust="spacingAndGlyphs" fill="#1e1e1e">-1000</text>
<text x="1560.9" y="951.6" font-size="32.8" text-anchor="middle" textLength="16.7" lengthAdjust="spacingAndGlyphs" fill="#1e1e1e">0</text>
<text x="1620.2" y="951.6" font-size="32.8" text-anchor="middle" textLength="50" lengthAdjust="spacingAndGlyphs" fill="#1e1e1e">500</text>
</g>
<g id="pI">
<path d="M420.4,1238.3 V1525.2" stroke="#2a2a2a" stroke-width="1.1" stroke-dasharray="2.6 2.52" fill="none"/>
<path d="M271.1,1315.6 L273.1,1315.6 L275.1,1315.5 L277.1,1315.5 L279.1,1315.5 L281.1,1315.5 L283.1,1315.5 L285.1,1315.6 L287.1,1315.6 L289.1,1315.7 L291.1,1315.8 L293.1,1315.9 L295.1,1316.1 L297.1,1316.2 L299.1,1316.3 L301.1,1316.3 L303.1,1316.3 L305.1,1316.1 L307.1,1315.9 L309.1,1315.6 L311.1,1315.3 L313.1,1314.9 L315.1,1314.6 L317.1,1314.2 L319.1,1313.9 L321.1,1313.5 L323.1,1313.1 L325.1,1312.6 L327.1,1312.2 L329.1,1311.8 L331.1,1311.4 L333.1,1311.1 L335.1,1311 L337.1,1311.2 L339.1,1311.5 L341.1,1311.9 L343.1,1312.4 L345.1,1313.1 L347.1,1314 L349.1,1315.2 L351.1,1316.7 L353.1,1318.3 L355.1,1320.3 L357.1,1322.6 L359.1,1325.6 L361.1,1329.1 L363.1,1332.8 L365.1,1336.4 L367.1,1339.3 L369.1,1341.8 L371.1,1343.9 L373.1,1345.9 L375.1,1347.6 L377.1,1348.8 L379.1,1349.5 L381.1,1349.6 L383.1,1349.3 L385.1,1348.9 L387.1,1348.4 L389.1,1347.9 L391.1,1347.4 L393.1,1347 L395.1,1346.7 L397.1,1346.7 L399.1,1346.8 L401.1,1347 L403.1,1347.3 L405.1,1347.7 L407.1,1348.1 L409.1,1348.5 L411.1,1348.8 L413.1,1349.2 L415.1,1349.5 L417.1,1349.6 L419.1,1349.5 L421.1,1349.1 L423.1,1348.7 L425.1,1348.5 L427.1,1349.2 L429.1,1351.3 L431.1,1354.7 L433.1,1359.1 L435.1,1364.8 L437.1,1371.9 L439.1,1380 L441.1,1388.2 L443.1,1395.7 L445.1,1402.4 L447.1,1408.5 L449.1,1414.3 L451.1,1419.6 L453.1,1424.5 L455.1,1429.1 L457.1,1433.5 L459.1,1437.1 L461.1,1439.6 L463.1,1440.5 L465.1,1439.8 L467.1,1437.9 L469.1,1434.9 L471.1,1431 L473.1,1426.2 L475.1,1420.4 L477.1,1414 L479.1,1407.5 L481.1,1401.2 L483.1,1394.9 L485.1,1388.7 L487.1,1382.3 L489.1,1375.7 L491.1,1368.8 L493.1,1361.5 L495.1,1353.8 L497.1,1345.6 L499.1,1337.1 L501.1,1328.3 L503.1,1319.2 L505.1,1309.9 L507.1,1300.4 L509.1,1290.8 L509.4,1289.9 L509.4,1335.1 L509.1,1336.2 L507.1,1347.1 L505.1,1357.8 L503.1,1368.3 L501.1,1378.5 L499.1,1388.4 L497.1,1398 L495.1,1407.1 L493.1,1415.6 L491.1,1423.6 L489.1,1430.9 L487.1,1437.8 L485.1,1444.4 L483.1,1451.2 L481.1,1458.3 L479.1,1466.1 L477.1,1474.6 L475.1,1483.4 L473.1,1491.8 L471.1,1499.1 L469.1,1505.5 L467.1,1510.8 L465.1,1514.5 L463.1,1516 L461.1,1514.3 L459.1,1509.6 L457.1,1502.5 L455.1,1494.2 L453.1,1485.7 L451.1,1477.4 L449.1,1468.7 L447.1,1459.7 L445.1,1450.2 L443.1,1439.8 L441.1,1428 L439.1,1415.2 L437.1,1402.6 L435.1,1391.8 L433.1,1383.6 L431.1,1377.7 L429.1,1373.4 L427.1,1370.7 L425.1,1369.6 L423.1,1369.4 L421.1,1369.4 L419.1,1369.4 L417.1,1369.4 L415.1,1369.4 L413.1,1369.4 L411.1,1369.4 L409.1,1369.4 L407.1,1369.4 L405.1,1369.4 L403.1,1369.4 L401.1,1369.4 L399.1,1369.4 L397.1,1369.4 L395.1,1369.3 L393.1,1369.2 L391.1,1369.1 L389.1,1368.9 L387.1,1368.7 L385.1,1368.5 L383.1,1368.2 L381.1,1368 L379.1,1367.6 L377.1,1366.8 L375.1,1365.5 L373.1,1363.9 L371.1,1362 L369.1,1359.9 L367.1,1357.5 L365.1,1354.5 L363.1,1350.9 L361.1,1347 L359.1,1343.1 L357.1,1339.6 L355.1,1336.6 L353.1,1333.7 L351.1,1331 L349.1,1328.6 L347.1,1326.5 L345.1,1324.8 L343.1,1323.7 L341.1,1322.9 L339.1,1322.2 L337.1,1321.6 L335.1,1321.2 L333.1,1320.9 L331.1,1320.7 L329.1,1320.6 L327.1,1320.4 L325.1,1320.3 L323.1,1320.2 L321.1,1320.1 L319.1,1320.1 L317.1,1320.2 L315.1,1320.4 L313.1,1320.7 L311.1,1321.1 L309.1,1321.5 L307.1,1321.8 L305.1,1322.1 L303.1,1322.3 L301.1,1322.4 L299.1,1322.3 L297.1,1322 L295.1,1321.6 L293.1,1321.2 L291.1,1320.7 L289.1,1320.4 L287.1,1320.1 L285.1,1319.9 L283.1,1319.8 L281.1,1319.7 L279.1,1319.6 L277.1,1319.5 L275.1,1319.4 L273.1,1319.4 L271.1,1319.4 Z" fill="#ff0000" fill-opacity="0.2" stroke="none"/>
<path d="M271.1,1315.6 L273.1,1315.4 L275.1,1315.1 L277.1,1314.8 L279.1,1314.5 L281.1,1314.1 L283.1,1313.6 L285.1,1313.2 L287.1,1312.7 L289.1,1312.2 L291.1,1311.6 L293.1,1310.9 L295.1,1310.2 L297.1,1309.4 L299.1,1308.6 L301.1,1307.8 L303.1,1306.8 L305.1,1305.7 L307.1,1304.6 L309.1,1303.6 L311.1,1302.7 L313.1,1302.2 L315.1,1302.1 L317.1,1302.4 L319.1,1303.3 L321.1,1304.4 L323.1,1305.7 L325.1,1307 L327.1,1308.5 L329.1,1310.3 L331.1,1312.2 L333.1,1314.2 L335.1,1316 L337.1,1317.4 L339.1,1318.5 L341.1,1319.4 L343.1,1320.2 L345.1,1321 L347.1,1321.6 L349.1,1322.2 L351.1,1322.8 L353.1,1323.4 L355.1,1324 L357.1,1324.5 L359.1,1324.9 L361.1,1325.3 L363.1,1325.5 L365.1,1325.5 L367.1,1325.4 L369.1,1325.1 L371.1,1324.7 L373.1,1324.2 L375.1,1323.5 L377.1,1322.6 L379.1,1321.4 L381.1,1320 L383.1,1318.6 L385.1,1317.1 L387.1,1315.6 L389.1,1313.8 L391.1,1311.9 L393.1,1309.9 L395.1,1308 L397.1,1306.4 L399.1,1305.1 L401.1,1304.4 L403.1,1304.1 L405.1,1304 L407.1,1304 L409.1,1304.1 L411.1,1304.2 L413.1,1304.2 L415.1,1304.2 L417.1,1304.2 L419.1,1304 L421.1,1303.7 L423.1,1303.4 L425.1,1303.1 L427.1,1302.9 L429.1,1303.2 L431.1,1304.5 L433.1,1307.3 L435.1,1311 L437.1,1315.3 L439.1,1320.3 L441.1,1326.4 L443.1,1333.2 L445.1,1339.9 L447.1,1345.9 L449.1,1351.6 L451.1,1357 L453.1,1362.2 L455.1,1366.9 L457.1,1370.8 L459.1,1374 L461.1,1376.3 L463.1,1377.9 L465.1,1378.7 L467.1,1378.5 L469.1,1377.3 L471.1,1374.8 L473.1,1371.1 L475.1,1366.6 L477.1,1361.5 L479.1,1355.5 L481.1,1348.7 L483.1,1341.3 L485.1,1333.9 L487.1,1326.5 L489.1,1318.9 L491.1,1311.3 L493.1,1304.5 L495.1,1298.9 L497.1,1294.5 L499.1,1290.8 L501.1,1287.7 L503.1,1285.4 L505.1,1283.9 L507.1,1283.3 L509.1,1283.7 L509.4,1283.8 L509.4,1328.8 L509.1,1328.6 L507.1,1327.4 L505.1,1327 L503.1,1327.4 L501.1,1328.7 L499.1,1330.6 L497.1,1333.2 L495.1,1336.7 L493.1,1341.4 L491.1,1347.5 L489.1,1354.4 L487.1,1361.5 L485.1,1368.7 L483.1,1376.2 L481.1,1383.8 L479.1,1391.1 L477.1,1397.9 L475.1,1404.2 L473.1,1410.1 L471.1,1415.4 L469.1,1420 L467.1,1423.7 L465.1,1426.5 L463.1,1428.5 L461.1,1429.6 L459.1,1429.6 L457.1,1428.1 L455.1,1424.8 L453.1,1419.9 L451.1,1413.8 L449.1,1406.8 L447.1,1398.9 L445.1,1388.9 L443.1,1376.2 L441.1,1362.6 L439.1,1350.9 L437.1,1342.4 L435.1,1336.3 L433.1,1331.4 L431.1,1327.9 L429.1,1326 L427.1,1325.5 L425.1,1325.4 L423.1,1325.5 L421.1,1325.6 L419.1,1325.6 L417.1,1325.5 L415.1,1325.2 L413.1,1324.7 L411.1,1324.2 L409.1,1323.7 L407.1,1323.2 L405.1,1322.8 L403.1,1322.5 L401.1,1322.6 L399.1,1323.2 L397.1,1324.4 L395.1,1326.1 L393.1,1328.1 L391.1,1330.2 L389.1,1332.1 L387.1,1333.8 L385.1,1335.2 L383.1,1336.4 L381.1,1337.5 L379.1,1338.5 L377.1,1339.4 L375.1,1340.2 L373.1,1340.9 L371.1,1341.4 L369.1,1341.9 L367.1,1342.2 L365.1,1342.3 L363.1,1342.2 L361.1,1341.8 L359.1,1341.2 L357.1,1340.3 L355.1,1339.2 L353.1,1338 L351.1,1336.8 L349.1,1335.7 L347.1,1334.5 L345.1,1333.3 L343.1,1332 L341.1,1330.8 L339.1,1329.4 L337.1,1328.1 L335.1,1326.6 L333.1,1325.1 L331.1,1323.6 L329.1,1322 L327.1,1320.5 L325.1,1319 L323.1,1317.5 L321.1,1315.9 L319.1,1314.4 L317.1,1313.1 L315.1,1312.3 L313.1,1312 L311.1,1312.5 L309.1,1313.7 L307.1,1315.2 L305.1,1316.8 L303.1,1318.2 L301.1,1319.1 L299.1,1319.5 L297.1,1319.5 L295.1,1319.5 L293.1,1319.3 L291.1,1319.2 L289.1,1319.3 L287.1,1319.5 L285.1,1319.9 L283.1,1320.4 L281.1,1321 L279.1,1321.6 L277.1,1322.3 L275.1,1323.1 L273.1,1323.9 L271.1,1324.7 Z" fill="#0000ff" fill-opacity="0.2" stroke="none"/>
<path d="M271.1,1317.1 L273.1,1317 L275.1,1316.9 L277.1,1316.8 L279.1,1316.8 L281.1,1316.9 L283.1,1317 L285.1,1317.2 L287.1,1317.4 L289.1,1317.6 L291.1,1317.8 L293.1,1318 L295.1,1318.2 L297.1,1318.4 L299.1,1318.6 L301.1,1318.6 L303.1,1318.5 L305.1,1318.4 L307.1,1318.2 L309.1,1318 L311.1,1317.8 L313.1,1317.6 L315.1,1317.4 L317.1,1317.2 L319.1,1317 L321.1,1316.8 L323.1,1316.7 L325.1,1316.5 L327.1,1316.5 L329.1,1316.4 L331.1,1316.4 L333.1,1316.6 L335.1,1316.8 L337.1,1317.2 L339.1,1317.6 L341.1,1318.2 L343.1,1319 L345.1,1320 L347.1,1321.2 L349.1,1322.8 L351.1,1324.7 L353.1,1327 L355.1,1329.7 L357.1,1332.7 L359.1,1336.1 L361.1,1339.3 L363.1,1342.1 L365.1,1344.7 L367.1,1347.1 L369.1,1349.3 L371.1,1351.3 L373.1,1353.1 L375.1,1354.8 L377.1,1356.3 L379.1,1357.5 L381.1,1358.4 L383.1,1359.2 L385.1,1359.7 L387.1,1359.9 L389.1,1359.7 L391.1,1359.2 L393.1,1358.7 L395.1,1358.3 L397.1,1358.1 L399.1,1358.1 L401.1,1358.3 L403.1,1358.5 L405.1,1358.7 L407.1,1359 L409.1,1359.4 L411.1,1359.7 L413.1,1360.1 L415.1,1360.2 L417.1,1359.9 L419.1,1359.2 L421.1,1358.5 L423.1,1358.2 L425.1,1358.7 L427.1,1360 L429.1,1362.6 L431.1,1366.9 L433.1,1372.7 L435.1,1380 L437.1,1388.3 L439.1,1397.2 L441.1,1406.7 L443.1,1416.3 L445.1,1425.7 L447.1,1434.8 L449.1,1443.6 L451.1,1452.1 L453.1,1460.2 L455.1,1466.8 L457.1,1471.7 L459.1,1475.1 L461.1,1476.9 L463.1,1476.9 L465.1,1475.2 L467.1,1472.2 L469.1,1468 L471.1,1462.5 L473.1,1455.9 L475.1,1448.6 L477.1,1440.8 L479.1,1432.6 L481.1,1424.5 L483.1,1416.5 L485.1,1408.5 L487.1,1400.4 L489.1,1392.4 L491.1,1384.4 L493.1,1376.8 L495.1,1369.5 L497.1,1362.4 L499.1,1355.2 L501.1,1347.9 L503.1,1340.4 L505.1,1332.8 L507.1,1325.1 L509.1,1317.3 L509.4,1316.5" stroke="#ff0000" stroke-width="1.6" fill="none"/>
<path d="M271.1,1320.1 L273.1,1319.3 L275.1,1318.6 L277.1,1317.9 L279.1,1317.4 L281.1,1317 L283.1,1316.6 L285.1,1316.3 L287.1,1316 L289.1,1315.8 L291.1,1315.6 L293.1,1315.6 L295.1,1315.6 L297.1,1315.7 L299.1,1315.6 L301.1,1315 L303.1,1313.3 L305.1,1311.2 L307.1,1309.6 L309.1,1308.4 L311.1,1307.6 L313.1,1307.1 L315.1,1307.2 L317.1,1307.7 L319.1,1308.6 L321.1,1309.7 L323.1,1311.2 L325.1,1313.1 L327.1,1315 L329.1,1316.8 L331.1,1318.4 L333.1,1320 L335.1,1321.5 L337.1,1322.8 L339.1,1323.8 L341.1,1324.7 L343.1,1325.4 L345.1,1326.2 L347.1,1327.2 L349.1,1328.3 L351.1,1329.6 L353.1,1330.8 L355.1,1332 L357.1,1333.1 L359.1,1334.2 L361.1,1335 L363.1,1335.3 L365.1,1335.1 L367.1,1334.6 L369.1,1333.9 L371.1,1333 L373.1,1331.8 L375.1,1330.6 L377.1,1329.4 L379.1,1328.3 L381.1,1327.2 L383.1,1326.3 L385.1,1325.2 L387.1,1324.1 L389.1,1322.7 L391.1,1321.3 L393.1,1319.8 L395.1,1318.2 L397.1,1316.5 L399.1,1314.7 L401.1,1313.4 L403.1,1312.7 L405.1,1312.6 L407.1,1312.7 L409.1,1313.1 L411.1,1313.5 L413.1,1314.1 L415.1,1314.6 L417.1,1315.1 L419.1,1315.4 L421.1,1315.3 L423.1,1314.8 L425.1,1314.3 L427.1,1314.3 L429.1,1315 L431.1,1316.3 L433.1,1318.9 L435.1,1323 L437.1,1327.9 L439.1,1333.1 L441.1,1338.7 L443.1,1344.5 L445.1,1351.2 L447.1,1359.1 L449.1,1367.7 L451.1,1375.9 L453.1,1383.3 L455.1,1389.7 L457.1,1394.9 L459.1,1399.1 L461.1,1401.7 L463.1,1402.4 L465.1,1401.8 L467.1,1400.4 L469.1,1398.3 L471.1,1395.6 L473.1,1392.2 L475.1,1388 L477.1,1382.9 L479.1,1377 L481.1,1370.5 L483.1,1363.6 L485.1,1356.5 L487.1,1349.4 L489.1,1342.3 L491.1,1335.4 L493.1,1329 L495.1,1323.5 L497.1,1318.7 L499.1,1314.7 L501.1,1311.4 L503.1,1308.6 L505.1,1306.6 L507.1,1305.8 L509.1,1306.8 L509.4,1307" stroke="#0000ff" stroke-width="1.6" stroke-dasharray="20 11" fill="none"/>
<path d="M241.4,1317.4 H509.9" stroke="#000" stroke-width="1.5" fill="none"/>
<path d="M301,1313.9 v7 M360.7,1313.9 v7 M420.4,1313.9 v7 M480.1,1313.9 v7 " stroke="#000" stroke-width="1.5" fill="none"/>
<rect x="241.4" y="1234.3" width="59.6" height="166.2" fill="#e0e0e0" fill-opacity="0.5" stroke="#000" stroke-width="1.5"/>
<path d="M241.4,1234.3 V1525.2 H509.9" stroke="#111" stroke-width="1.6" fill="none"/>
<path d="M241.4,1234.3 h4 M241.4,1317.4 h4 M241.4,1400.5 h4 M241.4,1483.6 h4 M301,1525.2 v-4 M420.4,1525.2 v-4 M480.1,1525.2 v-4 " stroke="#1e1e1e" stroke-width="1.5" fill="none"/>
<text x="227.4" y="1247.8" font-size="32.8" text-anchor="end" textLength="41.7" lengthAdjust="spacingAndGlyphs" fill="#1e1e1e">0.1</text>
<text x="228.9" y="1330.9" font-size="32.8" text-anchor="end" textLength="16.7" lengthAdjust="spacingAndGlyphs" fill="#1e1e1e">0</text>
<text x="227.4" y="1414" font-size="32.8" text-anchor="end" textLength="51.7" lengthAdjust="spacingAndGlyphs" fill="#1e1e1e">-0.1</text>
<text x="230.4" y="1497.1" font-size="32.8" text-anchor="end" textLength="51.7" lengthAdjust="spacingAndGlyphs" fill="#1e1e1e">-0.2</text>
<text x="301" y="1570.2" font-size="32.8" text-anchor="middle" textLength="76.7" lengthAdjust="spacingAndGlyphs" fill="#1e1e1e">-1000</text>
<text x="420.4" y="1570.2" font-size="32.8" text-anchor="middle" textLength="16.7" lengthAdjust="spacingAndGlyphs" fill="#1e1e1e">0</text>
<text x="480.1" y="1570.2" font-size="32.8" text-anchor="middle" textLength="50" lengthAdjust="spacingAndGlyphs" fill="#1e1e1e">500</text>
</g>
<g id="pJ">
<path d="M772.4,1238.3 V1525.2" stroke="#2a2a2a" stroke-width="1.1" stroke-dasharray="2.6 2.52" fill="none"/>
<path d="M623.1,1314.6 L625.1,1314.5 L627.1,1314.5 L629.1,1314.5 L631.1,1314.6 L633.1,1314.7 L635.1,1314.8 L637.1,1314.9 L639.1,1315.1 L641.1,1315.4 L643.1,1315.8 L645.1,1316.3 L647.1,1316.8 L649.1,1317.4 L651.1,1317.9 L653.1,1318.2 L655.1,1318.4 L657.1,1318.4 L659.1,1318.4 L661.1,1318.2 L663.1,1318 L665.1,1317.7 L667.1,1317.4 L669.1,1317.1 L671.1,1316.8 L673.1,1316.5 L675.1,1316.1 L677.1,1315.6 L679.1,1315 L681.1,1314.4 L683.1,1313.6 L685.1,1312.7 L687.1,1311.7 L689.1,1310.2 L691.1,1308.1 L693.1,1305.4 L695.1,1302.5 L697.1,1299.7 L699.1,1297.2 L701.1,1295.3 L703.1,1293.7 L705.1,1292.2 L707.1,1290.9 L709.1,1289.4 L711.1,1287.9 L713.1,1286.1 L715.1,1284.1 L717.1,1282 L719.1,1279.8 L721.1,1277.8 L723.1,1276 L725.1,1274.3 L727.1,1272.7 L729.1,1271.2 L731.1,1269.9 L733.1,1268.8 L735.1,1268 L737.1,1267.6 L739.1,1267.8 L741.1,1268.6 L743.1,1270 L745.1,1271.8 L747.1,1273.7 L749.1,1275.3 L751.1,1276.5 L753.1,1277.2 L755.1,1277.7 L757.1,1278.2 L759.1,1278.7 L761.1,1279.2 L763.1,1279.6 L765.1,1280.1 L767.1,1280.6 L769.1,1281 L771.1,1281.5 L773.1,1282 L775.1,1282.8 L777.1,1284.3 L779.1,1287.1 L781.1,1291 L783.1,1295.7 L785.1,1301 L787.1,1307.2 L789.1,1314.3 L791.1,1321.7 L793.1,1329 L795.1,1335.9 L797.1,1342.6 L799.1,1349 L801.1,1355.1 L803.1,1360.8 L805.1,1366.2 L807.1,1371.5 L809.1,1376.4 L811.1,1380.6 L813.1,1383.7 L815.1,1385.6 L817.1,1386.4 L819.1,1386.7 L821.1,1386.5 L823.1,1386 L825.1,1385.2 L827.1,1384.1 L829.1,1382.6 L831.1,1380.6 L833.1,1377.9 L835.1,1374.2 L837.1,1369.3 L839.1,1363.6 L841.1,1357.4 L843.1,1351.2 L845.1,1345.3 L847.1,1339.7 L849.1,1334.2 L851.1,1328.7 L853.1,1323.3 L855.1,1317.8 L857.1,1312.3 L859.1,1306.9 L861.1,1301.4 L861.4,1300.9 L861.4,1327.9 L861.1,1328.9 L859.1,1338.1 L857.1,1347.2 L855.1,1356.1 L853.1,1364.8 L851.1,1373.3 L849.1,1381.5 L847.1,1389.3 L845.1,1396.7 L843.1,1403.9 L841.1,1410.8 L839.1,1417.4 L837.1,1423.8 L835.1,1429.9 L833.1,1435.7 L831.1,1441.4 L829.1,1446.9 L827.1,1451.9 L825.1,1456.2 L823.1,1459.6 L821.1,1462 L819.1,1463 L817.1,1462.3 L815.1,1459.6 L813.1,1454.5 L811.1,1446.9 L809.1,1437.5 L807.1,1427.2 L805.1,1416.8 L803.1,1407.1 L801.1,1398.1 L799.1,1389.5 L797.1,1380.9 L795.1,1372.1 L793.1,1363 L791.1,1353.4 L789.1,1343.5 L787.1,1334.1 L785.1,1325.7 L783.1,1318.5 L781.1,1312.1 L779.1,1306.7 L777.1,1302.9 L775.1,1301 L773.1,1300.2 L771.1,1299.7 L769.1,1299.2 L767.1,1298.7 L765.1,1298.3 L763.1,1297.8 L761.1,1297.3 L759.1,1296.8 L757.1,1296.3 L755.1,1295.8 L753.1,1295.3 L751.1,1294.7 L749.1,1294 L747.1,1293.1 L745.1,1292.2 L743.1,1291.3 L741.1,1290.7 L739.1,1290.4 L737.1,1290.6 L735.1,1291.2 L733.1,1292.1 L731.1,1293.3 L729.1,1294.6 L727.1,1295.9 L725.1,1297.2 L723.1,1298.4 L721.1,1299.6 L719.1,1300.9 L717.1,1302.1 L715.1,1303.4 L713.1,1304.7 L711.1,1305.9 L709.1,1307.2 L707.1,1308.4 L705.1,1309.6 L703.1,1310.8 L701.1,1312.1 L699.1,1313.7 L697.1,1315.5 L695.1,1317.6 L693.1,1319.7 L691.1,1321.6 L689.1,1322.9 L687.1,1323.7 L685.1,1324 L683.1,1324.3 L681.1,1324.6 L679.1,1324.7 L677.1,1324.9 L675.1,1325 L673.1,1325.1 L671.1,1325.1 L669.1,1325.2 L667.1,1325.2 L665.1,1325.3 L663.1,1325.3 L661.1,1325.4 L659.1,1325.4 L657.1,1325.3 L655.1,1325.2 L653.1,1325.1 L651.1,1324.8 L649.1,1324.3 L647.1,1323.8 L645.1,1323.2 L643.1,1322.7 L641.1,1322.2 L639.1,1321.9 L637.1,1321.5 L635.1,1321.2 L633.1,1320.9 L631.1,1320.6 L629.1,1320.4 L627.1,1320.2 L625.1,1320 L623.1,1319.9 Z" fill="#ff0000" fill-opacity="0.2" stroke="none"/>
<path d="M623.1,1315.3 L625.1,1315.2 L627.1,1315.1 L629.1,1314.9 L631.1,1314.6 L633.1,1314.4 L635.1,1314 L637.1,1313.7 L639.1,1313.3 L641.1,1312.9 L643.1,1312.4 L645.1,1311.8 L647.1,1311.1 L649.1,1310.4 L651.1,1309.5 L653.1,1308.7 L655.1,1307.6 L657.1,1306.4 L659.1,1304.9 L661.1,1303.4 L663.1,1301.9 L665.1,1300.5 L667.1,1299.3 L669.1,1298.4 L671.1,1298 L673.1,1297.8 L675.1,1297.9 L677.1,1298.1 L679.1,1298.4 L681.1,1298.8 L683.1,1299.3 L685.1,1299.9 L687.1,1300.4 L689.1,1301 L691.1,1301.6 L693.1,1302.2 L695.1,1302.9 L697.1,1303.5 L699.1,1304.2 L701.1,1304.9 L703.1,1305.6 L705.1,1306.3 L707.1,1307.1 L709.1,1307.9 L711.1,1308.7 L713.1,1309.4 L715.1,1310 L717.1,1310.6 L719.1,1311.2 L721.1,1311.7 L723.1,1312.2 L725.1,1312.5 L727.1,1312.8 L729.1,1313 L731.1,1313 L733.1,1312.8 L735.1,1312.5 L737.1,1312.2 L739.1,1311.7 L741.1,1311.2 L743.1,1310.6 L745.1,1310 L747.1,1309.3 L749.1,1308.4 L751.1,1307.4 L753.1,1306.3 L755.1,1305.4 L757.1,1304.6 L759.1,1304.2 L761.1,1304 L763.1,1304 L765.1,1304.2 L767.1,1304.4 L769.1,1304.7 L771.1,1305 L773.1,1305.2 L775.1,1305.4 L777.1,1305.5 L779.1,1305.5 L781.1,1305.6 L783.1,1306.4 L785.1,1308.2 L787.1,1310.8 L789.1,1314 L791.1,1317.8 L793.1,1322 L795.1,1326.2 L797.1,1330.4 L799.1,1334.5 L801.1,1338.6 L803.1,1342.7 L805.1,1346.6 L807.1,1350.5 L809.1,1354.3 L811.1,1358.3 L813.1,1361.9 L815.1,1364.9 L817.1,1366.7 L819.1,1367 L821.1,1365.7 L823.1,1363.2 L825.1,1360.1 L827.1,1356.9 L829.1,1353.6 L831.1,1350 L833.1,1345.9 L835.1,1341.2 L837.1,1335.6 L839.1,1328.7 L841.1,1321 L843.1,1313.3 L845.1,1306.1 L847.1,1299.6 L849.1,1293.6 L851.1,1288 L853.1,1282.8 L855.1,1278 L857.1,1273.7 L859.1,1270.2 L861.1,1267.8 L861.4,1267.6 L861.4,1313.1 L861.1,1313.7 L859.1,1318.9 L857.1,1324.1 L855.1,1329.2 L853.1,1334.2 L851.1,1339.1 L849.1,1344 L847.1,1349.1 L845.1,1354.4 L843.1,1360.3 L841.1,1366.5 L839.1,1372.7 L837.1,1378.5 L835.1,1383.4 L833.1,1387.7 L831.1,1391.5 L829.1,1395.3 L827.1,1399.5 L825.1,1404.3 L823.1,1409.5 L821.1,1414.5 L819.1,1418.5 L817.1,1420.6 L815.1,1420.4 L813.1,1418.2 L811.1,1414.5 L809.1,1409.9 L807.1,1404.5 L805.1,1398.3 L803.1,1391 L801.1,1383.1 L799.1,1375.1 L797.1,1367.5 L795.1,1360 L793.1,1352.6 L791.1,1345.6 L789.1,1339.6 L787.1,1335 L785.1,1331.6 L783.1,1329.3 L781.1,1328.4 L779.1,1328.2 L777.1,1328.2 L775.1,1328 L773.1,1327.5 L771.1,1326.8 L769.1,1326 L767.1,1325.2 L765.1,1324.5 L763.1,1324 L761.1,1323.8 L759.1,1324 L757.1,1324.7 L755.1,1325.8 L753.1,1327.2 L751.1,1328.7 L749.1,1330.3 L747.1,1331.6 L745.1,1332.7 L743.1,1333.7 L741.1,1334.7 L739.1,1335.6 L737.1,1336.4 L735.1,1337 L733.1,1337.3 L731.1,1337.3 L729.1,1336.9 L727.1,1336.2 L725.1,1335.2 L723.1,1333.9 L721.1,1332.5 L719.1,1331.1 L717.1,1329.7 L715.1,1328.3 L713.1,1327 L711.1,1325.6 L709.1,1324.2 L707.1,1322.9 L705.1,1321.8 L703.1,1320.8 L701.1,1320 L699.1,1319.4 L697.1,1318.8 L695.1,1318.3 L693.1,1317.8 L691.1,1317.3 L689.1,1316.8 L687.1,1316.3 L685.1,1315.7 L683.1,1315 L681.1,1314.3 L679.1,1313.5 L677.1,1312.8 L675.1,1312.2 L673.1,1311.8 L671.1,1311.6 L669.1,1311.7 L667.1,1312.2 L665.1,1312.8 L663.1,1313.7 L661.1,1314.7 L659.1,1315.6 L657.1,1316.5 L655.1,1317.1 L653.1,1317.6 L651.1,1317.9 L649.1,1318.2 L647.1,1318.4 L645.1,1318.6 L643.1,1318.8 L641.1,1319 L639.1,1319.3 L637.1,1319.7 L635.1,1320 L633.1,1320.3 L631.1,1320.7 L629.1,1321 L627.1,1321.4 L625.1,1321.8 L623.1,1322.2 Z" fill="#0000ff" fill-opacity="0.2" stroke="none"/>
<path d="M623.1,1317.3 L625.1,1317.1 L627.1,1317 L629.1,1317 L631.1,1317.1 L633.1,1317.3 L635.1,1317.7 L637.1,1318.1 L639.1,1318.6 L641.1,1319.2 L643.1,1319.7 L645.1,1320.2 L647.1,1320.8 L649.1,1321.3 L651.1,1321.8 L653.1,1322 L655.1,1322.1 L657.1,1322 L659.1,1321.9 L661.1,1321.6 L663.1,1321.4 L665.1,1321.1 L667.1,1320.9 L669.1,1320.6 L671.1,1320.3 L673.1,1320 L675.1,1319.7 L677.1,1319.3 L679.1,1319 L681.1,1318.5 L683.1,1318 L685.1,1317.2 L687.1,1316 L689.1,1314.3 L691.1,1312.5 L693.1,1310.7 L695.1,1308.9 L697.1,1307.1 L699.1,1305.3 L701.1,1303.6 L703.1,1301.9 L705.1,1300.3 L707.1,1298.9 L709.1,1297.6 L711.1,1296.4 L713.1,1295.3 L715.1,1294.2 L717.1,1292.8 L719.1,1291.3 L721.1,1289.7 L723.1,1288 L725.1,1286.3 L727.1,1284.6 L729.1,1283 L731.1,1281.6 L733.1,1280.4 L735.1,1279.5 L737.1,1278.9 L739.1,1278.6 L741.1,1278.7 L743.1,1279.2 L745.1,1279.8 L747.1,1280.7 L749.1,1281.8 L751.1,1283 L753.1,1284.3 L755.1,1285.5 L757.1,1286.6 L759.1,1287.7 L761.1,1288.5 L763.1,1288.9 L765.1,1289 L767.1,1289 L769.1,1289.1 L771.1,1289.4 L773.1,1289.7 L775.1,1290.3 L777.1,1291.4 L779.1,1293.3 L781.1,1296 L783.1,1300.3 L785.1,1306.5 L787.1,1314.2 L789.1,1322.7 L791.1,1331.2 L793.1,1339.4 L795.1,1347.3 L797.1,1355.7 L799.1,1364.5 L801.1,1373.6 L803.1,1382.4 L805.1,1390.9 L807.1,1398.9 L809.1,1406.1 L811.1,1412.4 L813.1,1417.9 L815.1,1422.1 L817.1,1425.3 L819.1,1427.2 L821.1,1427.6 L823.1,1426.4 L825.1,1424 L827.1,1420.6 L829.1,1416.2 L831.1,1411 L833.1,1405.4 L835.1,1399.4 L837.1,1393 L839.1,1386.4 L841.1,1379.9 L843.1,1373.5 L845.1,1367.2 L847.1,1360.7 L849.1,1354 L851.1,1347.1 L853.1,1340.1 L855.1,1333 L857.1,1325.8 L859.1,1318.7 L861.1,1311.4 L861.4,1310.7" stroke="#ff0000" stroke-width="1.6" fill="none"/>
<path d="M623.1,1318.3 L625.1,1318.2 L627.1,1318 L629.1,1317.9 L631.1,1317.7 L633.1,1317.6 L635.1,1317.4 L637.1,1317.3 L639.1,1317.1 L641.1,1317 L643.1,1316.9 L645.1,1316.7 L647.1,1316.6 L649.1,1316.5 L651.1,1316.3 L653.1,1316 L655.1,1315.2 L657.1,1313.8 L659.1,1312 L661.1,1310.1 L663.1,1308.2 L665.1,1306.5 L667.1,1305.2 L669.1,1304.3 L671.1,1303.7 L673.1,1303.3 L675.1,1303.3 L677.1,1303.6 L679.1,1304.3 L681.1,1305.2 L683.1,1306.2 L685.1,1307 L687.1,1307.6 L689.1,1308.1 L691.1,1308.5 L693.1,1309 L695.1,1309.5 L697.1,1310 L699.1,1310.6 L701.1,1311.5 L703.1,1312.6 L705.1,1313.9 L707.1,1315.1 L709.1,1316.2 L711.1,1317.2 L713.1,1318.2 L715.1,1319.4 L717.1,1320.6 L719.1,1321.8 L721.1,1322.9 L723.1,1323.8 L725.1,1324.6 L727.1,1325.1 L729.1,1325.3 L731.1,1325.3 L733.1,1324.9 L735.1,1324.4 L737.1,1323.8 L739.1,1323.1 L741.1,1322.4 L743.1,1321.6 L745.1,1320.6 L747.1,1319.3 L749.1,1317.8 L751.1,1316.3 L753.1,1315.3 L755.1,1314.6 L757.1,1314.2 L759.1,1314.2 L761.1,1314.5 L763.1,1315.1 L765.1,1315.8 L767.1,1316.5 L769.1,1317.2 L771.1,1317.8 L773.1,1318.1 L775.1,1318 L777.1,1317.3 L779.1,1316.5 L781.1,1316.3 L783.1,1316.9 L785.1,1318.4 L787.1,1321.1 L789.1,1325.5 L791.1,1331.3 L793.1,1338.1 L795.1,1344.9 L797.1,1351.6 L799.1,1358.3 L801.1,1364.9 L803.1,1371.3 L805.1,1377.7 L807.1,1383.8 L809.1,1388.9 L811.1,1392.2 L813.1,1393.7 L815.1,1393.7 L817.1,1392.6 L819.1,1390.8 L821.1,1388.5 L823.1,1385.5 L825.1,1381.9 L827.1,1378 L829.1,1373.7 L831.1,1369.2 L833.1,1364.5 L835.1,1359.7 L837.1,1354.7 L839.1,1349.4 L841.1,1343.7 L843.1,1337.7 L845.1,1331.6 L847.1,1325.5 L849.1,1319.5 L851.1,1313.7 L853.1,1308.1 L855.1,1302.8 L857.1,1297.6 L859.1,1292.4 L861.1,1287.3 L861.4,1286.8" stroke="#0000ff" stroke-width="1.6" stroke-dasharray="20 11" fill="none"/>
<rect x="593.1" y="1234.3" width="59.9" height="166.2" fill="#e0e0e0" fill-opacity="0.5" stroke="#000" stroke-width="1.5"/>
<path d="M593.1,1317.4 H862" stroke="#000" stroke-width="1.5" fill="none"/>
<path d="M653,1313.9 v7 M712.7,1313.9 v7 M772.4,1313.9 v7 M832.1,1313.9 v7 " stroke="#000" stroke-width="1.5" fill="none"/>
<path d="M593.1,1234.3 V1525.2 H862" stroke="#111" stroke-width="1.6" fill="none"/>
<path d="M593.1,1234.3 h4 M593.1,1317.4 h4 M593.1,1400.5 h4 M593.1,1483.6 h4 M653,1525.2 v-4 M772.4,1525.2 v-4 M832.1,1525.2 v-4 " stroke="#1e1e1e" stroke-width="1.5" fill="none"/>
<text x="579.1" y="1247.8" font-size="32.8" text-anchor="end" textLength="41.7" lengthAdjust="spacingAndGlyphs" fill="#1e1e1e">0.1</text>
<text x="580.6" y="1330.9" font-size="32.8" text-anchor="end" textLength="16.7" lengthAdjust="spacingAndGlyphs" fill="#1e1e1e">0</text>
<text x="579.1" y="1414" font-size="32.8" text-anchor="end" textLength="51.7" lengthAdjust="spacingAndGlyphs" fill="#1e1e1e">-0.1</text>
<text x="582.1" y="1497.1" font-size="32.8" text-anchor="end" textLength="51.7" lengthAdjust="spacingAndGlyphs" fill="#1e1e1e">-0.2</text>
<text x="653" y="1570.2" font-size="32.8" text-anchor="middle" textLength="76.7" lengthAdjust="spacingAndGlyphs" fill="#1e1e1e">-1000</text>
<text x="772.4" y="1570.2" font-size="32.8" text-anchor="middle" textLength="16.7" lengthAdjust="spacingAndGlyphs" fill="#1e1e1e">0</text>
<text x="832.1" y="1570.2" font-size="32.8" text-anchor="middle" textLength="50" lengthAdjust="spacingAndGlyphs" fill="#1e1e1e">500</text>
</g>
<g id="pK">
<path d="M1208.5,1400.5 V1525.2" stroke="#2a2a2a" stroke-width="1.1" stroke-dasharray="2.6 2.52" fill="none"/>
<path d="M1060.5,1265.8 L1062.5,1265.6 L1064.5,1265.3 L1066.5,1265.1 L1068.5,1264.8 L1070.5,1264.6 L1072.5,1264.5 L1074.5,1264.3 L1076.5,1264.3 L1078.5,1264.3 L1080.5,1264.3 L1082.5,1264.3 L1084.5,1264.4 L1086.5,1264.5 L1088.5,1264.6 L1090.5,1264.6 L1092.5,1264.7 L1094.5,1264.8 L1096.5,1264.9 L1098.5,1264.9 L1100.5,1265 L1102.5,1265 L1104.5,1265 L1106.5,1264.9 L1108.5,1264.8 L1110.5,1264.7 L1112.5,1264.6 L1114.5,1264.5 L1116.5,1264.4 L1118.5,1264.3 L1120.5,1264.3 L1122.5,1264.5 L1124.5,1265.1 L1126.5,1265.9 L1128.5,1266.9 L1130.5,1268.1 L1132.5,1269.4 L1134.5,1271 L1136.5,1273 L1138.5,1275.4 L1140.5,1278.1 L1142.5,1280.9 L1144.5,1283.6 L1146.5,1286.1 L1148.5,1288.5 L1150.5,1290.8 L1152.5,1293 L1154.5,1295.3 L1156.5,1297.4 L1158.5,1299.6 L1160.5,1301.9 L1162.5,1304.3 L1164.5,1306.6 L1166.5,1308.6 L1168.5,1310.2 L1170.5,1311.3 L1172.5,1312 L1174.5,1312.6 L1176.5,1313.1 L1178.5,1313.5 L1180.5,1313.8 L1182.5,1314.1 L1184.5,1314.3 L1186.5,1314.5 L1188.5,1314.6 L1190.5,1314.7 L1192.5,1314.7 L1194.5,1314.6 L1196.5,1314.5 L1198.5,1314.2 L1200.5,1313.6 L1202.5,1312.5 L1204.5,1311 L1206.5,1309.6 L1208.5,1308.5 L1210.5,1307.9 L1212.5,1308 L1214.5,1308.7 L1216.5,1309.8 L1218.5,1311.4 L1220.5,1314.1 L1222.5,1318.2 L1224.5,1323.3 L1226.5,1328.8 L1228.5,1334.3 L1230.5,1340 L1232.5,1346.1 L1234.5,1352.5 L1236.5,1359.3 L1238.5,1366.9 L1240.5,1375.4 L1242.5,1383.7 L1244.5,1390.4 L1246.5,1394.9 L1248.5,1396.7 L1250.5,1395.9 L1252.5,1393.5 L1254.5,1390.3 L1256.5,1386.7 L1258.5,1382.9 L1260.5,1379.1 L1262.5,1375.3 L1264.5,1371.1 L1266.5,1366.5 L1268.5,1361.3 L1270.5,1355.1 L1272.5,1347.3 L1274.5,1338.4 L1276.5,1329.1 L1278.5,1320.3 L1280.5,1312.7 L1282.5,1306.3 L1284.5,1300.6 L1286.5,1294.8 L1288.5,1288.3 L1290.5,1280.6 L1292.5,1271.6 L1294.5,1261.5 L1296.5,1250.8 L1296.7,1249.7 L1296.7,1318.8 L1296.5,1318.8 L1294.5,1320 L1292.5,1322.9 L1290.5,1327.1 L1288.5,1332.1 L1286.5,1337.9 L1284.5,1344.4 L1282.5,1351.4 L1280.5,1358.6 L1278.5,1365.8 L1276.5,1373.2 L1274.5,1380.9 L1272.5,1388.6 L1270.5,1396.2 L1268.5,1403.7 L1266.5,1411.1 L1264.5,1418.4 L1262.5,1425.8 L1260.5,1433.1 L1258.5,1440.7 L1256.5,1448.7 L1254.5,1456.9 L1252.5,1464.3 L1250.5,1470.1 L1248.5,1472.2 L1246.5,1468.4 L1244.5,1459.7 L1242.5,1448 L1240.5,1434.4 L1238.5,1420.8 L1236.5,1408.4 L1234.5,1397.3 L1232.5,1386.7 L1230.5,1376.7 L1228.5,1367.5 L1226.5,1358.7 L1224.5,1350.1 L1222.5,1342.1 L1220.5,1335.6 L1218.5,1331.1 L1216.5,1328.1 L1214.5,1325.6 L1212.5,1323.7 L1210.5,1322.5 L1208.5,1321.9 L1206.5,1321.8 L1204.5,1321.9 L1202.5,1321.9 L1200.5,1321.9 L1198.5,1321.7 L1196.5,1321.5 L1194.5,1321.2 L1192.5,1320.9 L1190.5,1320.5 L1188.5,1320.2 L1186.5,1319.9 L1184.5,1319.7 L1182.5,1319.4 L1180.5,1319.3 L1178.5,1319.2 L1176.5,1319.2 L1174.5,1319.1 L1172.5,1319 L1170.5,1318.8 L1168.5,1318.3 L1166.5,1317.5 L1164.5,1316.5 L1162.5,1315.4 L1160.5,1314.2 L1158.5,1313 L1156.5,1311.9 L1154.5,1310.8 L1152.5,1309.7 L1150.5,1308.4 L1148.5,1307.1 L1146.5,1305.5 L1144.5,1303.5 L1142.5,1300.7 L1140.5,1297.5 L1138.5,1294.3 L1136.5,1291.4 L1134.5,1289.2 L1132.5,1287.8 L1130.5,1286.7 L1128.5,1285.8 L1126.5,1285 L1124.5,1284.4 L1122.5,1284.1 L1120.5,1284 L1118.5,1284.1 L1116.5,1284.2 L1114.5,1284.3 L1112.5,1284.5 L1110.5,1284.7 L1108.5,1284.8 L1106.5,1285 L1104.5,1285.2 L1102.5,1285.3 L1100.5,1285.5 L1098.5,1285.6 L1096.5,1285.7 L1094.5,1285.9 L1092.5,1286 L1090.5,1286.2 L1088.5,1286.3 L1086.5,1286.5 L1084.5,1286.6 L1082.5,1286.7 L1080.5,1286.8 L1078.5,1286.9 L1076.5,1287 L1074.5,1287 L1072.5,1287 L1070.5,1286.9 L1068.5,1286.8 L1066.5,1286.6 L1064.5,1286.5 L1062.5,1286.3 L1060.5,1286.2 Z" fill="#ff0000" fill-opacity="0.2" stroke="none"/>
<path d="M1060.5,1309.2 L1062.5,1308.3 L1064.5,1307.5 L1066.5,1306.6 L1068.5,1305.8 L1070.5,1304.9 L1072.5,1303.9 L1074.5,1303 L1076.5,1302 L1078.5,1301 L1080.5,1299.9 L1082.5,1298.9 L1084.5,1297.9 L1086.5,1296.9 L1088.5,1296 L1090.5,1295.1 L1092.5,1294.2 L1094.5,1293.5 L1096.5,1292.8 L1098.5,1292.5 L1100.5,1292.4 L1102.5,1292.7 L1104.5,1293.4 L1106.5,1294.4 L1108.5,1295.6 L1110.5,1297 L1112.5,1298.4 L1114.5,1299.8 L1116.5,1301.3 L1118.5,1302.8 L1120.5,1304.4 L1122.5,1306.1 L1124.5,1307.6 L1126.5,1308.9 L1128.5,1310 L1130.5,1310.9 L1132.5,1311.7 L1134.5,1312.4 L1136.5,1313.1 L1138.5,1313.8 L1140.5,1314.5 L1142.5,1315.3 L1144.5,1316.2 L1146.5,1317 L1148.5,1317.8 L1150.5,1318.4 L1152.5,1318.8 L1154.5,1319 L1156.5,1318.9 L1158.5,1318.7 L1160.5,1318.3 L1162.5,1317.7 L1164.5,1317.1 L1166.5,1316.3 L1168.5,1315.4 L1170.5,1314.4 L1172.5,1313.3 L1174.5,1312.2 L1176.5,1311 L1178.5,1309.7 L1180.5,1308.3 L1182.5,1306.8 L1184.5,1305.5 L1186.5,1304.4 L1188.5,1303.7 L1190.5,1303.2 L1192.5,1302.9 L1194.5,1302.7 L1196.5,1302.4 L1198.5,1302.2 L1200.5,1301.9 L1202.5,1301.6 L1204.5,1301.3 L1206.5,1301 L1208.5,1300.7 L1210.5,1300.4 L1212.5,1300.2 L1214.5,1300 L1216.5,1300 L1218.5,1300.6 L1220.5,1302.3 L1222.5,1304.9 L1224.5,1308 L1226.5,1311.5 L1228.5,1315.7 L1230.5,1320.4 L1232.5,1325.5 L1234.5,1330.8 L1236.5,1336.2 L1238.5,1342 L1240.5,1348.3 L1242.5,1354.9 L1244.5,1361.1 L1246.5,1366.4 L1248.5,1370.5 L1250.5,1373.5 L1252.5,1375.3 L1254.5,1375.7 L1256.5,1374.3 L1258.5,1371.2 L1260.5,1366.5 L1262.5,1360.7 L1264.5,1354.4 L1266.5,1348 L1268.5,1341.6 L1270.5,1334.9 L1272.5,1328.1 L1274.5,1321.4 L1276.5,1314.9 L1278.5,1308.6 L1280.5,1302.6 L1282.5,1296.9 L1284.5,1292 L1286.5,1287.7 L1288.5,1283.9 L1290.5,1280.5 L1292.5,1277.7 L1294.5,1275.6 L1296.5,1274.5 L1296.7,1274.5 L1296.7,1324.7 L1296.5,1324.9 L1294.5,1327.4 L1292.5,1330.3 L1290.5,1333.5 L1288.5,1337.1 L1286.5,1340.8 L1284.5,1344.6 L1282.5,1348.7 L1280.5,1353.2 L1278.5,1358.2 L1276.5,1363.7 L1274.5,1370.3 L1272.5,1378.1 L1270.5,1386.3 L1268.5,1394 L1266.5,1400.8 L1264.5,1406.9 L1262.5,1412.5 L1260.5,1417.4 L1258.5,1421.5 L1256.5,1424.5 L1254.5,1426.3 L1252.5,1426.8 L1250.5,1425.8 L1248.5,1423.3 L1246.5,1418.9 L1244.5,1412.5 L1242.5,1404.4 L1240.5,1395.5 L1238.5,1386.6 L1236.5,1378.2 L1234.5,1370.1 L1232.5,1362 L1230.5,1354 L1228.5,1346.5 L1226.5,1339.6 L1224.5,1333.6 L1222.5,1328.3 L1220.5,1323.8 L1218.5,1320.5 L1216.5,1318.6 L1214.5,1317.6 L1212.5,1316.8 L1210.5,1316.2 L1208.5,1315.7 L1206.5,1315.3 L1204.5,1315 L1202.5,1314.7 L1200.5,1314.4 L1198.5,1314.3 L1196.5,1314.3 L1194.5,1314.4 L1192.5,1314.8 L1190.5,1315.2 L1188.5,1315.8 L1186.5,1316.7 L1184.5,1318.1 L1182.5,1319.7 L1180.5,1321.5 L1178.5,1323.2 L1176.5,1324.6 L1174.5,1325.8 L1172.5,1326.8 L1170.5,1327.8 L1168.5,1328.8 L1166.5,1329.7 L1164.5,1330.7 L1162.5,1331.8 L1160.5,1332.9 L1158.5,1334.1 L1156.5,1335.2 L1154.5,1336.1 L1152.5,1336.7 L1150.5,1337.1 L1148.5,1337 L1146.5,1336.6 L1144.5,1336 L1142.5,1335.1 L1140.5,1334.2 L1138.5,1333.2 L1136.5,1332.1 L1134.5,1330.8 L1132.5,1329.5 L1130.5,1328.2 L1128.5,1326.9 L1126.5,1325.6 L1124.5,1324.2 L1122.5,1322.8 L1120.5,1321.5 L1118.5,1320.3 L1116.5,1319.2 L1114.5,1318.4 L1112.5,1317.6 L1110.5,1316.9 L1108.5,1316.3 L1106.5,1315.9 L1104.5,1315.7 L1102.5,1315.6 L1100.5,1315.8 L1098.5,1316.3 L1096.5,1317.1 L1094.5,1317.9 L1092.5,1318.8 L1090.5,1319.6 L1088.5,1320.2 L1086.5,1320.7 L1084.5,1321 L1082.5,1321.4 L1080.5,1321.7 L1078.5,1322 L1076.5,1322.2 L1074.5,1322.5 L1072.5,1322.6 L1070.5,1322.8 L1068.5,1322.9 L1066.5,1323.1 L1064.5,1323.2 L1062.5,1323.3 L1060.5,1323.3 Z" fill="#0000ff" fill-opacity="0.2" stroke="none"/>
<path d="M1060.5,1276.1 L1062.5,1275.8 L1064.5,1275.5 L1066.5,1275.3 L1068.5,1275.2 L1070.5,1275.2 L1072.5,1275.4 L1074.5,1275.6 L1076.5,1275.8 L1078.5,1276 L1080.5,1276.2 L1082.5,1276.3 L1084.5,1276.5 L1086.5,1276.7 L1088.5,1276.8 L1090.5,1276.8 L1092.5,1276.8 L1094.5,1276.6 L1096.5,1276.5 L1098.5,1276.3 L1100.5,1276 L1102.5,1275.8 L1104.5,1275.5 L1106.5,1275.2 L1108.5,1274.9 L1110.5,1274.6 L1112.5,1274.4 L1114.5,1274.1 L1116.5,1273.9 L1118.5,1273.8 L1120.5,1273.7 L1122.5,1273.9 L1124.5,1274.3 L1126.5,1274.8 L1128.5,1275.5 L1130.5,1276.3 L1132.5,1277.5 L1134.5,1278.9 L1136.5,1280.6 L1138.5,1282.8 L1140.5,1285.3 L1142.5,1288 L1144.5,1290.7 L1146.5,1293.5 L1148.5,1296.2 L1150.5,1298.6 L1152.5,1300.9 L1154.5,1303 L1156.5,1305.2 L1158.5,1307.3 L1160.5,1309.4 L1162.5,1311.3 L1164.5,1312.9 L1166.5,1314.3 L1168.5,1315.3 L1170.5,1316.1 L1172.5,1316.6 L1174.5,1317 L1176.5,1317.2 L1178.5,1317.2 L1180.5,1317 L1182.5,1316.5 L1184.5,1316.1 L1186.5,1315.9 L1188.5,1316 L1190.5,1316.4 L1192.5,1316.8 L1194.5,1317.3 L1196.5,1317.8 L1198.5,1318.2 L1200.5,1318.6 L1202.5,1318.6 L1204.5,1318.2 L1206.5,1317.4 L1208.5,1316.7 L1210.5,1316.6 L1212.5,1316.9 L1214.5,1317.7 L1216.5,1319.3 L1218.5,1322 L1220.5,1326.2 L1222.5,1332 L1224.5,1338.8 L1226.5,1346.7 L1228.5,1355 L1230.5,1363.7 L1232.5,1372.6 L1234.5,1381.8 L1236.5,1391.4 L1238.5,1401.1 L1240.5,1410.3 L1242.5,1418.2 L1244.5,1424.8 L1246.5,1430.1 L1248.5,1433.8 L1250.5,1435.3 L1252.5,1434.4 L1254.5,1431.5 L1256.5,1427.1 L1258.5,1421.3 L1260.5,1414.6 L1262.5,1407.3 L1264.5,1399.4 L1266.5,1391 L1268.5,1382.3 L1270.5,1373.3 L1272.5,1364.3 L1274.5,1355.8 L1276.5,1347.7 L1278.5,1339.9 L1280.5,1332.1 L1282.5,1324.4 L1284.5,1317.2 L1286.5,1310.6 L1288.5,1304.5 L1290.5,1298.6 L1292.5,1292.6 L1294.5,1286.7 L1296.5,1280.7 L1296.7,1280" stroke="#ff0000" stroke-width="1.6" fill="none"/>
<path d="M1060.5,1317.8 L1062.5,1316.9 L1064.5,1316.1 L1066.5,1315.3 L1068.5,1314.5 L1070.5,1313.9 L1072.5,1313.3 L1074.5,1312.8 L1076.5,1312.3 L1078.5,1311.8 L1080.5,1311.3 L1082.5,1310.7 L1084.5,1310.1 L1086.5,1309.4 L1088.5,1308.7 L1090.5,1307.9 L1092.5,1306.9 L1094.5,1305.9 L1096.5,1304.9 L1098.5,1303.9 L1100.5,1303.1 L1102.5,1302.4 L1104.5,1302.3 L1106.5,1302.7 L1108.5,1303.6 L1110.5,1304.9 L1112.5,1306.5 L1114.5,1308.5 L1116.5,1310.5 L1118.5,1312.4 L1120.5,1314.2 L1122.5,1315.7 L1124.5,1317.1 L1126.5,1318.1 L1128.5,1318.8 L1130.5,1319.6 L1132.5,1320.5 L1134.5,1321.5 L1136.5,1322.7 L1138.5,1324 L1140.5,1325.4 L1142.5,1326.9 L1144.5,1328.4 L1146.5,1329.6 L1148.5,1330.4 L1150.5,1330.8 L1152.5,1330.7 L1154.5,1330.1 L1156.5,1329.3 L1158.5,1328.4 L1160.5,1327.4 L1162.5,1326.5 L1164.5,1325.5 L1166.5,1324.4 L1168.5,1323.3 L1170.5,1322.1 L1172.5,1320.9 L1174.5,1319.7 L1176.5,1318.3 L1178.5,1316.9 L1180.5,1315.5 L1182.5,1314.1 L1184.5,1312.6 L1186.5,1311.1 L1188.5,1310 L1190.5,1309.2 L1192.5,1308.5 L1194.5,1308.3 L1196.5,1308.4 L1198.5,1308.8 L1200.5,1309.3 L1202.5,1309.8 L1204.5,1310.3 L1206.5,1310.8 L1208.5,1311.1 L1210.5,1311.1 L1212.5,1310.9 L1214.5,1310.7 L1216.5,1310.8 L1218.5,1311.6 L1220.5,1313.3 L1222.5,1316.3 L1224.5,1321.2 L1226.5,1327.3 L1228.5,1333.8 L1230.5,1340.7 L1232.5,1348 L1234.5,1355.5 L1236.5,1363.1 L1238.5,1370.5 L1240.5,1377.7 L1242.5,1384.1 L1244.5,1389.4 L1246.5,1393.6 L1248.5,1396.7 L1250.5,1398.5 L1252.5,1398.9 L1254.5,1397.9 L1256.5,1395.5 L1258.5,1391.9 L1260.5,1387.4 L1262.5,1381.7 L1264.5,1375.4 L1266.5,1369 L1268.5,1362.5 L1270.5,1355.9 L1272.5,1349.4 L1274.5,1342.8 L1276.5,1336.3 L1278.5,1330.2 L1280.5,1324.3 L1282.5,1319 L1284.5,1314.4 L1286.5,1310.5 L1288.5,1307.2 L1290.5,1304.5 L1292.5,1302.3 L1294.5,1301 L1296.5,1301.2 L1296.7,1301.3" stroke="#0000ff" stroke-width="1.6" stroke-dasharray="20 11" fill="none"/>
<path d="M1060.5,1317.4 H1297.3" stroke="#000" stroke-width="1.5" fill="none"/>
<path d="M1090.1,1313.9 v7 M1149.3,1313.9 v7 M1208.5,1313.9 v7 M1267.7,1313.9 v7 " stroke="#000" stroke-width="1.5" fill="none"/>
<rect x="1149.3" y="1234.3" width="59.2" height="166.2" fill="#e0e0e0" fill-opacity="0.5" stroke="#000" stroke-width="1.5"/>
<path d="M1031.3,1234.3 V1525.2 H1297.3" stroke="#111" stroke-width="1.6" fill="none"/>
<path d="M1031.3,1234.3 h4 M1031.3,1317.4 h4 M1031.3,1400.5 h4 M1031.3,1483.6 h4 M1090.1,1525.2 v-4 M1208.5,1525.2 v-4 M1267.7,1525.2 v-4 " stroke="#1e1e1e" stroke-width="1.5" fill="none"/>
<text x="1017.3" y="1247.8" font-size="32.8" text-anchor="end" textLength="41.7" lengthAdjust="spacingAndGlyphs" fill="#1e1e1e">0.1</text>
<text x="1018.8" y="1330.9" font-size="32.8" text-anchor="end" textLength="16.7" lengthAdjust="spacingAndGlyphs" fill="#1e1e1e">0</text>
<text x="1017.3" y="1414" font-size="32.8" text-anchor="end" textLength="51.7" lengthAdjust="spacingAndGlyphs" fill="#1e1e1e">-0.1</text>
<text x="1020.3" y="1497.1" font-size="32.8" text-anchor="end" textLength="51.7" lengthAdjust="spacingAndGlyphs" fill="#1e1e1e">-0.2</text>
<text x="1090.1" y="1570.2" font-size="32.8" text-anchor="middle" textLength="76.7" lengthAdjust="spacingAndGlyphs" fill="#1e1e1e">-1000</text>
<text x="1208.5" y="1570.2" font-size="32.8" text-anchor="middle" textLength="16.7" lengthAdjust="spacingAndGlyphs" fill="#1e1e1e">0</text>
<text x="1267.7" y="1570.2" font-size="32.8" text-anchor="middle" textLength="50" lengthAdjust="spacingAndGlyphs" fill="#1e1e1e">500</text>
</g>
<g id="pL">
<path d="M1560.9,1400.5 V1525.2" stroke="#2a2a2a" stroke-width="1.1" stroke-dasharray="2.6 2.52" fill="none"/>
<rect x="1501.6" y="1234.3" width="59.3" height="166.2" fill="#f0f0f0" fill-opacity="1" stroke="#000" stroke-width="1.5"/>
<path d="M1412.7,1344.5 L1414.7,1344.6 L1416.7,1344.8 L1418.7,1344.9 L1420.7,1345.1 L1422.7,1345.3 L1424.7,1345.5 L1426.7,1345.7 L1428.7,1345.9 L1430.7,1346.1 L1432.7,1346.4 L1434.7,1346.6 L1436.7,1347 L1438.7,1347.3 L1440.7,1347.6 L1442.7,1348 L1444.7,1348.3 L1446.7,1348.6 L1448.7,1348.9 L1450.7,1349.1 L1452.7,1349.2 L1454.7,1349.1 L1456.7,1349 L1458.7,1348.6 L1460.7,1348.2 L1462.7,1347.7 L1464.7,1347.2 L1466.7,1346.5 L1468.7,1345.8 L1470.7,1344.6 L1472.7,1343 L1474.7,1341 L1476.7,1338.9 L1478.7,1336.6 L1480.7,1334.5 L1482.7,1332.6 L1484.7,1331.1 L1486.7,1330 L1488.7,1329 L1490.7,1328.2 L1492.7,1327.4 L1494.7,1326.6 L1496.7,1325.7 L1498.7,1324.7 L1500.7,1323.6 L1502.7,1322.4 L1504.7,1321.2 L1506.7,1320 L1508.7,1319 L1510.7,1318.1 L1512.7,1317.3 L1514.7,1316.6 L1516.7,1315.9 L1518.7,1315.4 L1520.7,1315.1 L1522.7,1315 L1524.7,1315 L1526.7,1315.2 L1528.7,1315.5 L1530.7,1315.9 L1532.7,1316.5 L1534.7,1317.1 L1536.7,1317.9 L1538.7,1318.5 L1540.7,1319.1 L1542.7,1319.6 L1544.7,1320.1 L1546.7,1320.6 L1548.7,1321.1 L1550.7,1321.6 L1552.7,1322.1 L1554.7,1322.6 L1556.7,1323.1 L1558.7,1323.5 L1560.7,1324 L1562.7,1324.6 L1564.7,1325.4 L1566.7,1326.5 L1568.7,1328.2 L1570.7,1330.2 L1572.7,1332.5 L1574.7,1335.5 L1576.7,1339.4 L1578.7,1344 L1580.7,1349.3 L1582.7,1354.9 L1584.7,1360.7 L1586.7,1367 L1588.7,1373.8 L1590.7,1381 L1592.7,1388.4 L1594.7,1395.7 L1596.7,1402.6 L1598.7,1409.5 L1600.7,1416.8 L1602.7,1423.9 L1604.7,1430 L1606.7,1434.3 L1608.7,1436.1 L1610.7,1434.9 L1612.7,1431.2 L1614.7,1425.7 L1616.7,1419.3 L1618.7,1413 L1620.7,1407.1 L1622.7,1401.4 L1624.7,1395.6 L1626.7,1389.8 L1628.7,1384 L1630.7,1378.2 L1632.7,1372.3 L1634.7,1366.5 L1636.7,1360.6 L1638.7,1354.7 L1640.7,1348.8 L1642.7,1342.9 L1644.7,1337 L1646.7,1331.1 L1648.7,1325.1 L1649.3,1323.3 L1649.3,1384.9 L1648.7,1386.9 L1646.7,1393.6 L1644.7,1400.2 L1642.7,1406.8 L1640.7,1413.3 L1638.7,1419.9 L1636.7,1426.3 L1634.7,1432.8 L1632.7,1439.2 L1630.7,1445.7 L1628.7,1452.3 L1626.7,1458.8 L1624.7,1465.1 L1622.7,1471.2 L1620.7,1476.8 L1618.7,1482 L1616.7,1486.8 L1614.7,1491.2 L1612.7,1494.9 L1610.7,1497.5 L1608.7,1498.7 L1606.7,1498.1 L1604.7,1495.6 L1602.7,1491.6 L1600.7,1486.3 L1598.7,1480.2 L1596.7,1473.3 L1594.7,1464.9 L1592.7,1454.9 L1590.7,1443.8 L1588.7,1432.2 L1586.7,1420.9 L1584.7,1410.3 L1582.7,1400 L1580.7,1389.7 L1578.7,1379.6 L1576.7,1370.3 L1574.7,1362.1 L1572.7,1355.2 L1570.7,1349.5 L1568.7,1344.6 L1566.7,1340.7 L1564.7,1338.1 L1562.7,1336.7 L1560.7,1336.1 L1558.7,1335.7 L1556.7,1335.3 L1554.7,1334.9 L1552.7,1334.3 L1550.7,1333.5 L1548.7,1332.7 L1546.7,1331.7 L1544.7,1330.7 L1542.7,1329.7 L1540.7,1328.6 L1538.7,1327.2 L1536.7,1325.5 L1534.7,1323.5 L1532.7,1321.8 L1530.7,1320.7 L1528.7,1320.5 L1526.7,1321.1 L1524.7,1322.2 L1522.7,1323.7 L1520.7,1325.4 L1518.7,1327.2 L1516.7,1329.2 L1514.7,1331.3 L1512.7,1333.4 L1510.7,1335.4 L1508.7,1337.3 L1506.7,1339.2 L1504.7,1340.9 L1502.7,1342.6 L1500.7,1344.3 L1498.7,1345.9 L1496.7,1347.5 L1494.7,1349.1 L1492.7,1350.7 L1490.7,1352.2 L1488.7,1353.8 L1486.7,1355.3 L1484.7,1356.8 L1482.7,1358.4 L1480.7,1360.1 L1478.7,1361.8 L1476.7,1363.5 L1474.7,1365 L1472.7,1366.5 L1470.7,1367.6 L1468.7,1368.6 L1466.7,1369.3 L1464.7,1369.9 L1462.7,1370.4 L1460.7,1370.9 L1458.7,1371.4 L1456.7,1371.7 L1454.7,1371.9 L1452.7,1371.9 L1450.7,1371.8 L1448.7,1371.6 L1446.7,1371.4 L1444.7,1371.1 L1442.7,1370.8 L1440.7,1370.5 L1438.7,1370.1 L1436.7,1369.8 L1434.7,1369.5 L1432.7,1369.1 L1430.7,1368.8 L1428.7,1368.6 L1426.7,1368.3 L1424.7,1368 L1422.7,1367.7 L1420.7,1367.5 L1418.7,1367.2 L1416.7,1367 L1414.7,1366.7 L1412.7,1366.5 Z" fill="#ff0000" fill-opacity="0.2" stroke="none"/>
<path d="M1412.7,1308.2 L1414.7,1307.7 L1416.7,1307.1 L1418.7,1306.5 L1420.7,1305.9 L1422.7,1305.2 L1424.7,1304.5 L1426.7,1303.8 L1428.7,1303.1 L1430.7,1302.4 L1432.7,1301.5 L1434.7,1300.7 L1436.7,1299.9 L1438.7,1299.1 L1440.7,1298.3 L1442.7,1297.5 L1444.7,1296.7 L1446.7,1295.8 L1448.7,1294.9 L1450.7,1294.1 L1452.7,1293.3 L1454.7,1292.6 L1456.7,1292.1 L1458.7,1291.7 L1460.7,1291.6 L1462.7,1291.7 L1464.7,1291.9 L1466.7,1292.4 L1468.7,1292.9 L1470.7,1293.5 L1472.7,1294.1 L1474.7,1294.8 L1476.7,1295.4 L1478.7,1296 L1480.7,1296.5 L1482.7,1297 L1484.7,1297.6 L1486.7,1298.1 L1488.7,1298.7 L1490.7,1299.3 L1492.7,1300.1 L1494.7,1301.2 L1496.7,1302.8 L1498.7,1304.9 L1500.7,1307.2 L1502.7,1309.6 L1504.7,1311.5 L1506.7,1313 L1508.7,1314.2 L1510.7,1315.2 L1512.7,1316.1 L1514.7,1316.7 L1516.7,1317.1 L1518.7,1317.2 L1520.7,1317 L1522.7,1316.7 L1524.7,1316.2 L1526.7,1315.6 L1528.7,1314.9 L1530.7,1314 L1532.7,1313 L1534.7,1311.7 L1536.7,1310.3 L1538.7,1308.8 L1540.7,1307.5 L1542.7,1306.3 L1544.7,1305.5 L1546.7,1305 L1548.7,1305 L1550.7,1305.1 L1552.7,1305.5 L1554.7,1305.9 L1556.7,1306.3 L1558.7,1306.5 L1560.7,1306.5 L1562.7,1306 L1564.7,1305.1 L1566.7,1303.9 L1568.7,1302.9 L1570.7,1302.5 L1572.7,1303.2 L1574.7,1305.4 L1576.7,1308.9 L1578.7,1313.2 L1580.7,1317.7 L1582.7,1322.2 L1584.7,1326.8 L1586.7,1331.8 L1588.7,1336.9 L1590.7,1341.8 L1592.7,1346.6 L1594.7,1351.4 L1596.7,1356.1 L1598.7,1360.2 L1600.7,1363 L1602.7,1364 L1604.7,1363.2 L1606.7,1360.9 L1608.7,1357.6 L1610.7,1353.6 L1612.7,1349.3 L1614.7,1344.5 L1616.7,1339.2 L1618.7,1333.6 L1620.7,1327.8 L1622.7,1322 L1624.7,1316.2 L1626.7,1310.3 L1628.7,1304.4 L1630.7,1298.6 L1632.7,1293.3 L1634.7,1288.5 L1636.7,1283.8 L1638.7,1279.4 L1640.7,1275.2 L1642.7,1271.3 L1644.7,1267.7 L1646.7,1264.4 L1648.7,1261.6 L1649.3,1260.8 L1649.3,1324.5 L1648.7,1324.7 L1646.7,1325.6 L1644.7,1327.1 L1642.7,1329 L1640.7,1331.4 L1638.7,1334.2 L1636.7,1337.3 L1634.7,1340.8 L1632.7,1344.6 L1630.7,1349 L1628.7,1354.1 L1626.7,1359.5 L1624.7,1365.1 L1622.7,1370.5 L1620.7,1375.8 L1618.7,1381.1 L1616.7,1386.4 L1614.7,1391.5 L1612.7,1396.3 L1610.7,1400.8 L1608.7,1405.1 L1606.7,1408.9 L1604.7,1412.2 L1602.7,1414.5 L1600.7,1415.3 L1598.7,1413.9 L1596.7,1410.4 L1594.7,1405.4 L1592.7,1399.3 L1590.7,1391.4 L1588.7,1381.2 L1586.7,1369.8 L1584.7,1358.8 L1582.7,1349.7 L1580.7,1342.9 L1578.7,1337.3 L1576.7,1332.5 L1574.7,1328.7 L1572.7,1326.1 L1570.7,1324.9 L1568.7,1324.4 L1566.7,1324.2 L1564.7,1324.1 L1562.7,1323.8 L1560.7,1323.3 L1558.7,1322.5 L1556.7,1321.6 L1554.7,1320.6 L1552.7,1319.6 L1550.7,1318.7 L1548.7,1318 L1546.7,1317.5 L1544.7,1317.3 L1542.7,1317.3 L1540.7,1317.6 L1538.7,1317.9 L1536.7,1318.4 L1534.7,1319 L1532.7,1319.6 L1530.7,1320.2 L1528.7,1320.9 L1526.7,1321.7 L1524.7,1322.6 L1522.7,1323.5 L1520.7,1324.2 L1518.7,1324.7 L1516.7,1324.8 L1514.7,1324.6 L1512.7,1324.2 L1510.7,1323.6 L1508.7,1322.8 L1506.7,1322 L1504.7,1321.2 L1502.7,1320.2 L1500.7,1319.1 L1498.7,1318 L1496.7,1317 L1494.7,1316.1 L1492.7,1315.3 L1490.7,1314.6 L1488.7,1314 L1486.7,1313.4 L1484.7,1312.8 L1482.7,1312.2 L1480.7,1311.7 L1478.7,1311.2 L1476.7,1310.7 L1474.7,1310.1 L1472.7,1309.6 L1470.7,1309.2 L1468.7,1308.8 L1466.7,1308.5 L1464.7,1308.3 L1462.7,1308.2 L1460.7,1308.3 L1458.7,1308.9 L1456.7,1310.1 L1454.7,1311.8 L1452.7,1313.7 L1450.7,1315.9 L1448.7,1317.9 L1446.7,1319.6 L1444.7,1320.9 L1442.7,1321.7 L1440.7,1322 L1438.7,1322.1 L1436.7,1322.3 L1434.7,1322.4 L1432.7,1322.5 L1430.7,1322.5 L1428.7,1322.6 L1426.7,1322.6 L1424.7,1322.6 L1422.7,1322.6 L1420.7,1322.6 L1418.7,1322.6 L1416.7,1322.6 L1414.7,1322.6 L1412.7,1322.6 Z" fill="#0000ff" fill-opacity="0.2" stroke="none"/>
<path d="M1412.7,1356.7 L1414.7,1356.4 L1416.7,1356.1 L1418.7,1355.9 L1420.7,1355.8 L1422.7,1356 L1424.7,1356.2 L1426.7,1356.6 L1428.7,1357.1 L1430.7,1357.6 L1432.7,1358 L1434.7,1358.5 L1436.7,1359 L1438.7,1359.5 L1440.7,1360 L1442.7,1360.5 L1444.7,1360.8 L1446.7,1360.9 L1448.7,1360.9 L1450.7,1360.8 L1452.7,1360.6 L1454.7,1360.4 L1456.7,1360.1 L1458.7,1359.8 L1460.7,1359.5 L1462.7,1359.2 L1464.7,1358.7 L1466.7,1358.3 L1468.7,1357.7 L1470.7,1356.9 L1472.7,1355.9 L1474.7,1354.6 L1476.7,1353.3 L1478.7,1351.7 L1480.7,1349.9 L1482.7,1348 L1484.7,1346.1 L1486.7,1344.4 L1488.7,1342.7 L1490.7,1341.2 L1492.7,1339.7 L1494.7,1338.3 L1496.7,1337 L1498.7,1335.9 L1500.7,1334.8 L1502.7,1333.6 L1504.7,1332.3 L1506.7,1330.6 L1508.7,1328.8 L1510.7,1327 L1512.7,1325.2 L1514.7,1323.4 L1516.7,1321.8 L1518.7,1320.3 L1520.7,1319.1 L1522.7,1318 L1524.7,1317.2 L1526.7,1316.7 L1528.7,1316.6 L1530.7,1317 L1532.7,1317.8 L1534.7,1319.1 L1536.7,1320.8 L1538.7,1322.6 L1540.7,1324.3 L1542.7,1325.7 L1544.7,1326.7 L1546.7,1327.3 L1548.7,1327.7 L1550.7,1327.9 L1552.7,1328.1 L1554.7,1328.3 L1556.7,1328.4 L1558.7,1328.5 L1560.7,1328.8 L1562.7,1329.5 L1564.7,1330.8 L1566.7,1332.6 L1568.7,1335.2 L1570.7,1338.8 L1572.7,1343.1 L1574.7,1348.1 L1576.7,1354.1 L1578.7,1361 L1580.7,1368.7 L1582.7,1377.2 L1584.7,1386.1 L1586.7,1395.1 L1588.7,1404.1 L1590.7,1413.1 L1592.7,1422 L1594.7,1430.6 L1596.7,1438.6 L1598.7,1445.6 L1600.7,1451.8 L1602.7,1457.1 L1604.7,1461.3 L1606.7,1464.5 L1608.7,1465.9 L1610.7,1465.1 L1612.7,1462.6 L1614.7,1458.6 L1616.7,1453.2 L1618.7,1446.6 L1620.7,1439.3 L1622.7,1431.4 L1624.7,1423.3 L1626.7,1415.5 L1628.7,1407.9 L1630.7,1400.7 L1632.7,1393.9 L1634.7,1387.6 L1636.7,1381.7 L1638.7,1376.2 L1640.7,1371 L1642.7,1366.2 L1644.7,1361.6 L1646.7,1357.4 L1648.7,1353.7 L1649.3,1352.7" stroke="#ff0000" stroke-width="1.6" fill="none"/>
<path d="M1412.7,1315.5 L1414.7,1315.1 L1416.7,1314.8 L1418.7,1314.4 L1420.7,1314.2 L1422.7,1314 L1424.7,1313.8 L1426.7,1313.7 L1428.7,1313.7 L1430.7,1313.6 L1432.7,1313.6 L1434.7,1313.5 L1436.7,1313.4 L1438.7,1313.2 L1440.7,1313 L1442.7,1312.5 L1444.7,1311.4 L1446.7,1309.7 L1448.7,1307.9 L1450.7,1306.2 L1452.7,1304.6 L1454.7,1303.2 L1456.7,1301.9 L1458.7,1300.9 L1460.7,1300 L1462.7,1299.4 L1464.7,1299.2 L1466.7,1299.4 L1468.7,1300 L1470.7,1300.6 L1472.7,1301.3 L1474.7,1302 L1476.7,1302.7 L1478.7,1303.3 L1480.7,1304 L1482.7,1304.6 L1484.7,1305.2 L1486.7,1305.8 L1488.7,1306.4 L1490.7,1307.3 L1492.7,1308.4 L1494.7,1309.7 L1496.7,1311 L1498.7,1312.5 L1500.7,1314 L1502.7,1315.4 L1504.7,1316.7 L1506.7,1317.8 L1508.7,1318.8 L1510.7,1319.5 L1512.7,1320.1 L1514.7,1320.6 L1516.7,1321 L1518.7,1321.1 L1520.7,1320.8 L1522.7,1320.3 L1524.7,1319.6 L1526.7,1319 L1528.7,1318.5 L1530.7,1318 L1532.7,1317.4 L1534.7,1316.6 L1536.7,1315.4 L1538.7,1314.1 L1540.7,1312.9 L1542.7,1311.9 L1544.7,1311 L1546.7,1310.6 L1548.7,1310.8 L1550.7,1311.3 L1552.7,1312 L1554.7,1312.8 L1556.7,1313.5 L1558.7,1314.3 L1560.7,1314.8 L1562.7,1314.9 L1564.7,1314.5 L1566.7,1314.6 L1568.7,1315.7 L1570.7,1317.7 L1572.7,1320.3 L1574.7,1323.2 L1576.7,1326.7 L1578.7,1330.9 L1580.7,1336 L1582.7,1342.1 L1584.7,1348.5 L1586.7,1355 L1588.7,1361.5 L1590.7,1368 L1592.7,1374.2 L1594.7,1380 L1596.7,1384.4 L1598.7,1387.3 L1600.7,1389.1 L1602.7,1389.7 L1604.7,1389.1 L1606.7,1387.7 L1608.7,1385.8 L1610.7,1383.2 L1612.7,1379.8 L1614.7,1375.8 L1616.7,1371 L1618.7,1365.6 L1620.7,1359.8 L1622.7,1353.9 L1624.7,1347.9 L1626.7,1341.9 L1628.7,1335.8 L1630.7,1329.8 L1632.7,1323.8 L1634.7,1318 L1636.7,1312.4 L1638.7,1307.1 L1640.7,1302.4 L1642.7,1298 L1644.7,1293.9 L1646.7,1290.4 L1648.7,1287.4 L1649.3,1286.6" stroke="#0000ff" stroke-width="1.6" stroke-dasharray="20 11" fill="none"/>
<path d="M1412.7,1317.4 H1649.9" stroke="#000" stroke-width="1.5" fill="none"/>
<path d="M1442.3,1313.9 v7 M1501.6,1313.9 v7 M1560.9,1313.9 v7 M1620.2,1313.9 v7 " stroke="#000" stroke-width="1.5" fill="none"/>
<path d="M1383.2,1234.3 V1525.2 H1649.9" stroke="#111" stroke-width="1.6" fill="none"/>
<path d="M1383.2,1234.3 h4 M1383.2,1317.4 h4 M1383.2,1400.5 h4 M1383.2,1483.6 h4 M1442.3,1525.2 v-4 M1560.9,1525.2 v-4 M1620.2,1525.2 v-4 " stroke="#1e1e1e" stroke-width="1.5" fill="none"/>
<text x="1369.2" y="1247.8" font-size="32.8" text-anchor="end" textLength="41.7" lengthAdjust="spacingAndGlyphs" fill="#1e1e1e">0.1</text>
<text x="1370.7" y="1330.9" font-size="32.8" text-anchor="end" textLength="16.7" lengthAdjust="spacingAndGlyphs" fill="#1e1e1e">0</text>
<text x="1369.2" y="1414" font-size="32.8" text-anchor="end" textLength="51.7" lengthAdjust="spacingAndGlyphs" fill="#1e1e1e">-0.1</text>
<text x="1372.2" y="1497.1" font-size="32.8" text-anchor="end" textLength="51.7" lengthAdjust="spacingAndGlyphs" fill="#1e1e1e">-0.2</text>
<text x="1442.3" y="1570.2" font-size="32.8" text-anchor="middle" textLength="76.7" lengthAdjust="spacingAndGlyphs" fill="#1e1e1e">-1000</text>
<text x="1560.9" y="1570.2" font-size="32.8" text-anchor="middle" textLength="16.7" lengthAdjust="spacingAndGlyphs" fill="#1e1e1e">0</text>
<text x="1620.2" y="1570.2" font-size="32.8" text-anchor="middle" textLength="50" lengthAdjust="spacingAndGlyphs" fill="#1e1e1e">500</text>
</g>
<g id="pM">
<path d="M420.4,1642.4 V1929.2" stroke="#2a2a2a" stroke-width="1.1" stroke-dasharray="2.6 2.52" fill="none"/>
<path d="M271.1,1720.1 L273.1,1719.5 L275.1,1718.9 L277.1,1718.2 L279.1,1717.6 L281.1,1717 L283.1,1716.3 L285.1,1715.7 L287.1,1715 L289.1,1714.4 L291.1,1713.7 L293.1,1713 L295.1,1712.4 L297.1,1711.7 L299.1,1711 L301.1,1710.4 L303.1,1709.7 L305.1,1708.9 L307.1,1708.1 L309.1,1707.3 L311.1,1706.7 L313.1,1706.2 L315.1,1705.9 L317.1,1705.9 L319.1,1706.3 L321.1,1707 L323.1,1708 L325.1,1709.1 L327.1,1710.2 L329.1,1711.3 L331.1,1712.3 L333.1,1713.1 L335.1,1713.8 L337.1,1714.5 L339.1,1715.2 L341.1,1715.8 L343.1,1716.5 L345.1,1717.3 L347.1,1718.1 L349.1,1719.1 L351.1,1720.2 L353.1,1721.5 L355.1,1722.7 L357.1,1723.8 L359.1,1724.7 L361.1,1725.2 L363.1,1725.3 L365.1,1724.8 L367.1,1723.8 L369.1,1722.6 L371.1,1721.1 L373.1,1719.7 L375.1,1718.3 L377.1,1717.3 L379.1,1716.6 L381.1,1716.4 L383.1,1716.4 L385.1,1716.6 L387.1,1716.8 L389.1,1717.1 L391.1,1717.4 L393.1,1717.6 L395.1,1717.8 L397.1,1717.9 L399.1,1717.8 L401.1,1717.6 L403.1,1717.3 L405.1,1716.9 L407.1,1716.4 L409.1,1716 L411.1,1715.6 L413.1,1715.2 L415.1,1715 L417.1,1715 L419.1,1715.5 L421.1,1716.4 L423.1,1717.7 L425.1,1719.1 L427.1,1720.7 L429.1,1722.6 L431.1,1724.7 L433.1,1726.9 L435.1,1728.9 L437.1,1730.9 L439.1,1732.7 L441.1,1734.6 L443.1,1736.2 L445.1,1737.6 L447.1,1738.6 L449.1,1738.8 L451.1,1738 L453.1,1736.3 L455.1,1733.9 L457.1,1731.1 L459.1,1728 L461.1,1724.4 L463.1,1720.1 L465.1,1715.4 L467.1,1711 L469.1,1707.2 L471.1,1704.4 L473.1,1702.2 L475.1,1700.4 L477.1,1698.8 L479.1,1697.4 L481.1,1696.3 L483.1,1695.6 L485.1,1695.2 L487.1,1695.3 L489.1,1695.6 L491.1,1696 L493.1,1696.5 L495.1,1697.1 L497.1,1697.8 L499.1,1698.5 L501.1,1699.4 L503.1,1700.4 L505.1,1701.4 L507.1,1702.6 L509.1,1703.8 L509.4,1703.9 L509.4,1727 L509.1,1726.8 L507.1,1725.3 L505.1,1723.8 L503.1,1722.3 L501.1,1721 L499.1,1719.9 L497.1,1718.8 L495.1,1717.9 L493.1,1717 L491.1,1716.3 L489.1,1715.6 L487.1,1715.1 L485.1,1714.8 L483.1,1714.8 L481.1,1715.2 L479.1,1715.9 L477.1,1716.9 L475.1,1718 L473.1,1719.4 L471.1,1721.1 L469.1,1723.5 L467.1,1726.9 L465.1,1731.1 L463.1,1735.5 L461.1,1739.7 L459.1,1743.2 L457.1,1746.2 L455.1,1749 L453.1,1751.5 L451.1,1753.2 L449.1,1754 L447.1,1753.7 L445.1,1752.6 L443.1,1751.2 L441.1,1749.5 L439.1,1747.7 L437.1,1746 L435.1,1744.2 L433.1,1742.4 L431.1,1740.5 L429.1,1738.7 L427.1,1737.1 L425.1,1735.9 L423.1,1734.9 L421.1,1734.1 L419.1,1733.5 L417.1,1733.1 L415.1,1733 L413.1,1733 L411.1,1733 L409.1,1733 L407.1,1733 L405.1,1733.1 L403.1,1733.1 L401.1,1733.1 L399.1,1733 L397.1,1733 L395.1,1732.8 L393.1,1732.7 L391.1,1732.5 L389.1,1732.2 L387.1,1732 L385.1,1731.8 L383.1,1731.7 L381.1,1731.6 L379.1,1731.7 L377.1,1732.2 L375.1,1733 L373.1,1734.1 L371.1,1735.4 L369.1,1736.6 L367.1,1737.7 L365.1,1738.5 L363.1,1738.9 L361.1,1738.9 L359.1,1738.3 L357.1,1737.5 L355.1,1736.4 L353.1,1735.2 L351.1,1733.9 L349.1,1732.7 L347.1,1731.7 L345.1,1730.8 L343.1,1730 L341.1,1729.2 L339.1,1728.4 L337.1,1727.6 L335.1,1726.8 L333.1,1726 L331.1,1725.2 L329.1,1724.3 L327.1,1723.3 L325.1,1722.3 L323.1,1721.3 L321.1,1720.5 L319.1,1719.8 L317.1,1719.5 L315.1,1719.5 L313.1,1719.7 L311.1,1720 L309.1,1720.4 L307.1,1720.9 L305.1,1721.5 L303.1,1722 L301.1,1722.5 L299.1,1722.9 L297.1,1723.4 L295.1,1723.9 L293.1,1724.3 L291.1,1724.8 L289.1,1725.2 L287.1,1725.5 L285.1,1725.9 L283.1,1726.2 L281.1,1726.5 L279.1,1726.8 L277.1,1727.1 L275.1,1727.3 L273.1,1727.5 L271.1,1727.7 Z" fill="#ff0000" fill-opacity="0.2" stroke="none"/>
<path d="M271.1,1716.3 L273.1,1716.5 L275.1,1716.6 L277.1,1716.6 L279.1,1716.4 L281.1,1716.2 L283.1,1715.9 L285.1,1715.5 L287.1,1715 L289.1,1714.2 L291.1,1713.3 L293.1,1712.1 L295.1,1710.8 L297.1,1709.5 L299.1,1708.4 L301.1,1707.4 L303.1,1706.6 L305.1,1705.9 L307.1,1705.2 L309.1,1704.7 L311.1,1704.3 L313.1,1704.1 L315.1,1704.1 L317.1,1704.4 L319.1,1705 L321.1,1705.7 L323.1,1706.5 L325.1,1707.4 L327.1,1708.3 L329.1,1709.2 L331.1,1710.1 L333.1,1710.9 L335.1,1711.8 L337.1,1712.8 L339.1,1713.7 L341.1,1714.6 L343.1,1715.3 L345.1,1715.9 L347.1,1716.3 L349.1,1716.3 L351.1,1715.8 L353.1,1715.1 L355.1,1714.3 L357.1,1713.5 L359.1,1712.9 L361.1,1712.7 L363.1,1712.9 L365.1,1713.5 L367.1,1714.4 L369.1,1715.4 L371.1,1716.5 L373.1,1717.4 L375.1,1718.2 L377.1,1718.6 L379.1,1718.7 L381.1,1718.6 L383.1,1718.4 L385.1,1718.1 L387.1,1717.7 L389.1,1717.2 L391.1,1716.7 L393.1,1716.1 L395.1,1715.3 L397.1,1714.5 L399.1,1713.6 L401.1,1712.7 L403.1,1711.9 L405.1,1711.1 L407.1,1710.4 L409.1,1709.9 L411.1,1709.4 L413.1,1709.1 L415.1,1708.8 L417.1,1708.6 L419.1,1708.6 L421.1,1708.7 L423.1,1709 L425.1,1709.6 L427.1,1710.6 L429.1,1711.8 L431.1,1713.1 L433.1,1714.5 L435.1,1716.2 L437.1,1718.3 L439.1,1720.4 L441.1,1722.3 L443.1,1723.9 L445.1,1724.9 L447.1,1725.1 L449.1,1724.1 L451.1,1722.2 L453.1,1719.5 L455.1,1716.6 L457.1,1713.9 L459.1,1711.7 L461.1,1709.7 L463.1,1707.8 L465.1,1706 L467.1,1704.5 L469.1,1703.4 L471.1,1702.9 L473.1,1703 L475.1,1703.6 L477.1,1704.4 L479.1,1705.2 L481.1,1705.7 L483.1,1705.6 L485.1,1705.2 L487.1,1704.5 L489.1,1703.7 L491.1,1702.9 L493.1,1702.1 L495.1,1701.3 L497.1,1700.5 L499.1,1699.8 L501.1,1699 L503.1,1698.3 L505.1,1697.5 L507.1,1696.8 L509.1,1696 L509.4,1695.9 L509.4,1717 L509.1,1717.1 L507.1,1718 L505.1,1718.9 L503.1,1719.8 L501.1,1720.6 L499.1,1721.3 L497.1,1721.9 L495.1,1722.4 L493.1,1722.8 L491.1,1723.2 L489.1,1723.4 L487.1,1723.7 L485.1,1723.8 L483.1,1723.9 L481.1,1723.6 L479.1,1723.1 L477.1,1722.4 L475.1,1721.7 L473.1,1721.2 L471.1,1721.1 L469.1,1721.9 L467.1,1723.6 L465.1,1725.9 L463.1,1728.4 L461.1,1730.8 L459.1,1732.8 L457.1,1734.4 L455.1,1735.9 L453.1,1737.2 L451.1,1738.3 L449.1,1738.9 L447.1,1739 L445.1,1738.5 L443.1,1737.6 L441.1,1736.4 L439.1,1735.1 L437.1,1733.6 L435.1,1732.2 L433.1,1730.9 L431.1,1729.7 L429.1,1728.5 L427.1,1727.3 L425.1,1726.3 L423.1,1725.7 L421.1,1725.4 L419.1,1725.5 L417.1,1725.7 L415.1,1726.2 L413.1,1726.7 L411.1,1727.3 L409.1,1727.9 L407.1,1728.6 L405.1,1729.3 L403.1,1730.1 L401.1,1731 L399.1,1731.8 L397.1,1732.7 L395.1,1733.5 L393.1,1734.2 L391.1,1734.9 L389.1,1735.6 L387.1,1736.2 L385.1,1736.7 L383.1,1737.1 L381.1,1737.4 L379.1,1737.6 L377.1,1737.5 L375.1,1737 L373.1,1736.2 L371.1,1735 L369.1,1733.7 L367.1,1732.4 L365.1,1731.3 L363.1,1730.4 L361.1,1730 L359.1,1729.8 L357.1,1729.9 L355.1,1730 L353.1,1730.2 L351.1,1730.3 L349.1,1730.2 L347.1,1730 L345.1,1729.6 L343.1,1729.1 L341.1,1728.5 L339.1,1727.9 L337.1,1727.2 L335.1,1726.6 L333.1,1725.9 L331.1,1725.3 L329.1,1724.6 L327.1,1723.8 L325.1,1723.1 L323.1,1722.4 L321.1,1721.7 L319.1,1721.3 L317.1,1721 L315.1,1721 L313.1,1721.2 L311.1,1721.6 L309.1,1722.1 L307.1,1722.6 L305.1,1723.1 L303.1,1723.6 L301.1,1724 L299.1,1724.2 L297.1,1724.5 L295.1,1724.8 L293.1,1725 L291.1,1725.2 L289.1,1725.4 L287.1,1725.4 L285.1,1725.4 L283.1,1725.4 L281.1,1725.2 L279.1,1725 L277.1,1724.8 L275.1,1724.5 L273.1,1724.2 L271.1,1724 Z" fill="#0000ff" fill-opacity="0.2" stroke="none"/>
<path d="M271.1,1723.9 L273.1,1724 L275.1,1724 L277.1,1723.8 L279.1,1723.5 L281.1,1722.9 L283.1,1722.1 L285.1,1721.3 L287.1,1720.5 L289.1,1719.7 L291.1,1718.8 L293.1,1718.1 L295.1,1717.6 L297.1,1717.3 L299.1,1717 L301.1,1716.7 L303.1,1716.1 L305.1,1715.4 L307.1,1714.7 L309.1,1714 L311.1,1713.4 L313.1,1712.8 L315.1,1712.4 L317.1,1712.2 L319.1,1712.4 L321.1,1713 L323.1,1713.7 L325.1,1714.7 L327.1,1715.8 L329.1,1717.1 L331.1,1718.3 L333.1,1719.3 L335.1,1720.2 L337.1,1721 L339.1,1721.8 L341.1,1722.5 L343.1,1723.2 L345.1,1723.8 L347.1,1724.5 L349.1,1725.2 L351.1,1726.2 L353.1,1727.4 L355.1,1728.7 L357.1,1729.8 L359.1,1730.8 L361.1,1731.4 L363.1,1731.7 L365.1,1731.3 L367.1,1730.5 L369.1,1729.5 L371.1,1728.4 L373.1,1727.4 L375.1,1726.3 L377.1,1725.3 L379.1,1724.6 L381.1,1723.9 L383.1,1723.5 L385.1,1723.3 L387.1,1723.3 L389.1,1723.5 L391.1,1723.8 L393.1,1724.1 L395.1,1724.5 L397.1,1724.9 L399.1,1725.2 L401.1,1725.4 L403.1,1725.3 L405.1,1725 L407.1,1724.6 L409.1,1724.2 L411.1,1723.9 L413.1,1723.6 L415.1,1723.4 L417.1,1723.3 L419.1,1723.5 L421.1,1724.1 L423.1,1725.2 L425.1,1726.7 L427.1,1728.5 L429.1,1730.4 L431.1,1732.5 L433.1,1734.5 L435.1,1736.5 L437.1,1738.6 L439.1,1740.6 L441.1,1742.5 L443.1,1744.3 L445.1,1746.1 L447.1,1747.4 L449.1,1748 L451.1,1747.6 L453.1,1746.2 L455.1,1744 L457.1,1740.8 L459.1,1737.1 L461.1,1733.2 L463.1,1729.2 L465.1,1725.1 L467.1,1721.2 L469.1,1717.3 L471.1,1714 L473.1,1711.4 L475.1,1709.6 L477.1,1708.1 L479.1,1707 L481.1,1706.2 L483.1,1705.5 L485.1,1705.1 L487.1,1705.3 L489.1,1705.9 L491.1,1706.7 L493.1,1707.7 L495.1,1708.8 L497.1,1710 L499.1,1711.2 L501.1,1712.4 L503.1,1713.5 L505.1,1714.5 L507.1,1715.5 L509.1,1716.3 L509.4,1716.4" stroke="#ff0000" stroke-width="1.6" fill="none"/>
<path d="M271.1,1720.2 L273.1,1721 L275.1,1721.8 L277.1,1722.4 L279.1,1722.8 L281.1,1723.2 L283.1,1723.2 L285.1,1722.9 L287.1,1722.2 L289.1,1721.2 L291.1,1720.3 L293.1,1719.5 L295.1,1718.9 L297.1,1718.3 L299.1,1717.8 L301.1,1717.1 L303.1,1716.2 L305.1,1715.2 L307.1,1714.1 L309.1,1713.3 L311.1,1712.8 L313.1,1712.5 L315.1,1712.5 L317.1,1712.8 L319.1,1713.4 L321.1,1714.2 L323.1,1715.2 L325.1,1716.1 L327.1,1717.1 L329.1,1718.1 L331.1,1719.1 L333.1,1720.2 L335.1,1721.3 L337.1,1722.3 L339.1,1723.1 L341.1,1723.8 L343.1,1724.3 L345.1,1724.6 L347.1,1724.6 L349.1,1724.3 L351.1,1723.9 L353.1,1723.5 L355.1,1723 L357.1,1722.6 L359.1,1722.1 L361.1,1721.8 L363.1,1721.8 L365.1,1722.2 L367.1,1722.9 L369.1,1723.8 L371.1,1724.8 L373.1,1726 L375.1,1727.1 L377.1,1728.1 L379.1,1728.9 L381.1,1729.5 L383.1,1729.9 L385.1,1729.9 L387.1,1729.5 L389.1,1728.9 L391.1,1728.2 L393.1,1727.3 L395.1,1726.4 L397.1,1725.4 L399.1,1724.3 L401.1,1723 L403.1,1721.6 L405.1,1720.1 L407.1,1718.9 L409.1,1717.8 L411.1,1716.9 L413.1,1716.2 L415.1,1715.6 L417.1,1715.2 L419.1,1714.9 L421.1,1714.8 L423.1,1715.1 L425.1,1715.8 L427.1,1716.9 L429.1,1718.3 L431.1,1719.9 L433.1,1721.7 L435.1,1723.7 L437.1,1725.7 L439.1,1727.8 L441.1,1729.7 L443.1,1731.3 L445.1,1732.4 L447.1,1733 L449.1,1732.9 L451.1,1732 L453.1,1730.4 L455.1,1728.2 L457.1,1725.4 L459.1,1722.2 L461.1,1719.1 L463.1,1716.4 L465.1,1713.9 L467.1,1711.9 L469.1,1710.7 L471.1,1710.3 L473.1,1710.5 L475.1,1711.1 L477.1,1711.9 L479.1,1713.2 L481.1,1714.5 L483.1,1715.4 L485.1,1715.8 L487.1,1715.7 L489.1,1715.2 L491.1,1714.5 L493.1,1713.5 L495.1,1712.2 L497.1,1710.7 L499.1,1709.3 L501.1,1708.2 L503.1,1707.2 L505.1,1706.4 L507.1,1705.9 L509.1,1705.7 L509.4,1705.7" stroke="#0000ff" stroke-width="1.6" stroke-dasharray="20 11" fill="none"/>
<path d="M241.4,1721.5 H509.9" stroke="#000" stroke-width="1.5" fill="none"/>
<path d="M301,1718 v7 M360.7,1718 v7 M420.4,1718 v7 M480.1,1718 v7 " stroke="#000" stroke-width="1.5" fill="none"/>
<rect x="241.4" y="1638.4" width="59.6" height="166.2" fill="#e0e0e0" fill-opacity="0.5" stroke="#000" stroke-width="1.5"/>
<path d="M241.4,1638.4 V1929.2 H509.9" stroke="#111" stroke-width="1.6" fill="none"/>
<path d="M241.4,1638.4 h4 M241.4,1721.5 h4 M241.4,1804.6 h4 M241.4,1887.7 h4 M301,1929.2 v-4 M420.4,1929.2 v-4 M480.1,1929.2 v-4 " stroke="#1e1e1e" stroke-width="1.5" fill="none"/>
<text x="227.4" y="1651.9" font-size="32.8" text-anchor="end" textLength="41.7" lengthAdjust="spacingAndGlyphs" fill="#1e1e1e">0.1</text>
<text x="228.9" y="1735" font-size="32.8" text-anchor="end" textLength="16.7" lengthAdjust="spacingAndGlyphs" fill="#1e1e1e">0</text>
<text x="227.4" y="1818.1" font-size="32.8" text-anchor="end" textLength="51.7" lengthAdjust="spacingAndGlyphs" fill="#1e1e1e">-0.1</text>
<text x="230.4" y="1901.2" font-size="32.8" text-anchor="end" textLength="51.7" lengthAdjust="spacingAndGlyphs" fill="#1e1e1e">-0.2</text>
<text x="301" y="1974.2" font-size="32.8" text-anchor="middle" textLength="76.7" lengthAdjust="spacingAndGlyphs" fill="#1e1e1e">-1000</text>
<text x="420.4" y="1974.2" font-size="32.8" text-anchor="middle" textLength="16.7" lengthAdjust="spacingAndGlyphs" fill="#1e1e1e">0</text>
<text x="480.1" y="1974.2" font-size="32.8" text-anchor="middle" textLength="50" lengthAdjust="spacingAndGlyphs" fill="#1e1e1e">500</text>
</g>
<g id="pN">
<path d="M772.4,1642.4 V1929.2" stroke="#2a2a2a" stroke-width="1.1" stroke-dasharray="2.6 2.52" fill="none"/>
<path d="M623.1,1717.9 L625.1,1717.8 L627.1,1717.7 L629.1,1717.5 L631.1,1717.4 L633.1,1717.2 L635.1,1717 L637.1,1716.8 L639.1,1716.5 L641.1,1716.3 L643.1,1716 L645.1,1715.6 L647.1,1715.3 L649.1,1714.9 L651.1,1714.5 L653.1,1714.2 L655.1,1713.9 L657.1,1713.6 L659.1,1713.4 L661.1,1713.2 L663.1,1713 L665.1,1712.8 L667.1,1712.7 L669.1,1712.6 L671.1,1712.6 L673.1,1712.8 L675.1,1713.1 L677.1,1713.5 L679.1,1713.9 L681.1,1714.3 L683.1,1714.6 L685.1,1714.8 L687.1,1714.8 L689.1,1714.6 L691.1,1714.3 L693.1,1713.9 L695.1,1713.5 L697.1,1713.1 L699.1,1712.6 L701.1,1712.2 L703.1,1711.8 L705.1,1711.4 L707.1,1711 L709.1,1710.6 L711.1,1710.2 L713.1,1709.8 L715.1,1709.4 L717.1,1709 L719.1,1708.4 L721.1,1707.6 L723.1,1706.7 L725.1,1705.8 L727.1,1705 L729.1,1704.5 L731.1,1704.4 L733.1,1704.8 L735.1,1705.7 L737.1,1706.8 L739.1,1708 L741.1,1709.1 L743.1,1709.8 L745.1,1710.1 L747.1,1710 L749.1,1709.4 L751.1,1708.5 L753.1,1707.5 L755.1,1706.4 L757.1,1705.5 L759.1,1704.8 L761.1,1704.4 L763.1,1704.4 L765.1,1704.6 L767.1,1704.9 L769.1,1705.4 L771.1,1706 L773.1,1706.6 L775.1,1707.1 L777.1,1707.7 L779.1,1708.3 L781.1,1709 L783.1,1709.7 L785.1,1710.6 L787.1,1711.6 L789.1,1713 L791.1,1715 L793.1,1717.5 L795.1,1720.1 L797.1,1722.6 L799.1,1724.7 L801.1,1726.4 L803.1,1727.7 L805.1,1728.4 L807.1,1728.3 L809.1,1727.1 L811.1,1725.1 L813.1,1722.5 L815.1,1719.8 L817.1,1717.3 L819.1,1715.3 L821.1,1713.8 L823.1,1712.5 L825.1,1711.3 L827.1,1710.2 L829.1,1709.1 L831.1,1708.2 L833.1,1707.3 L835.1,1706.4 L837.1,1705.5 L839.1,1704.7 L841.1,1703.9 L843.1,1703.3 L845.1,1702.8 L847.1,1702.5 L849.1,1702.3 L851.1,1702.2 L853.1,1702.2 L855.1,1702.3 L857.1,1702.5 L859.1,1702.8 L861.1,1703.1 L861.4,1703.1 L861.4,1718 L861.1,1718 L859.1,1717.9 L857.1,1717.9 L855.1,1718 L853.1,1718.2 L851.1,1718.4 L849.1,1718.7 L847.1,1719.1 L845.1,1719.4 L843.1,1719.9 L841.1,1720.5 L839.1,1721.2 L837.1,1722.1 L835.1,1723 L833.1,1724 L831.1,1725.1 L829.1,1726.3 L827.1,1727.7 L825.1,1729.1 L823.1,1730.5 L821.1,1731.9 L819.1,1733.3 L817.1,1734.7 L815.1,1736.1 L813.1,1737.6 L811.1,1738.8 L809.1,1739.9 L807.1,1740.4 L805.1,1740.4 L803.1,1739.6 L801.1,1738.4 L799.1,1736.9 L797.1,1735 L795.1,1732.8 L793.1,1730.4 L791.1,1728.2 L789.1,1726.5 L787.1,1725.3 L785.1,1724.6 L783.1,1724 L781.1,1723.5 L779.1,1723 L777.1,1722.7 L775.1,1722.4 L773.1,1722.1 L771.1,1721.8 L769.1,1721.5 L767.1,1721.3 L765.1,1721.1 L763.1,1721 L761.1,1721 L759.1,1721.1 L757.1,1721.5 L755.1,1722 L753.1,1722.5 L751.1,1723 L749.1,1723.4 L747.1,1723.8 L745.1,1723.8 L743.1,1723.5 L741.1,1722.7 L739.1,1721.7 L737.1,1720.5 L735.1,1719.4 L733.1,1718.5 L731.1,1718.1 L729.1,1718.1 L727.1,1718.7 L725.1,1719.5 L723.1,1720.5 L721.1,1721.4 L719.1,1722.1 L717.1,1722.5 L715.1,1722.8 L713.1,1723 L711.1,1723.3 L709.1,1723.4 L707.1,1723.6 L705.1,1723.8 L703.1,1723.9 L701.1,1724 L699.1,1724.2 L697.1,1724.3 L695.1,1724.4 L693.1,1724.5 L691.1,1724.6 L689.1,1724.7 L687.1,1724.7 L685.1,1724.6 L683.1,1724.5 L681.1,1724.3 L679.1,1724 L677.1,1723.7 L675.1,1723.5 L673.1,1723.3 L671.1,1723.2 L669.1,1723.3 L667.1,1723.4 L665.1,1723.6 L663.1,1723.8 L661.1,1724.1 L659.1,1724.3 L657.1,1724.5 L655.1,1724.6 L653.1,1724.7 L651.1,1724.6 L649.1,1724.5 L647.1,1724.3 L645.1,1724.2 L643.1,1724 L641.1,1724 L639.1,1723.9 L637.1,1724 L635.1,1724 L633.1,1724.1 L631.1,1724.2 L629.1,1724.3 L627.1,1724.4 L625.1,1724.6 L623.1,1724.7 Z" fill="#ff0000" fill-opacity="0.2" stroke="none"/>
<path d="M623.1,1722.5 L625.1,1721.2 L627.1,1719.9 L629.1,1718.7 L631.1,1717.5 L633.1,1716.5 L635.1,1715.7 L637.1,1715 L639.1,1714.5 L641.1,1714.1 L643.1,1713.7 L645.1,1713.3 L647.1,1713 L649.1,1712.8 L651.1,1712.6 L653.1,1712.6 L655.1,1712.6 L657.1,1712.7 L659.1,1712.8 L661.1,1713 L663.1,1713.1 L665.1,1713.3 L667.1,1713.6 L669.1,1713.8 L671.1,1714.1 L673.1,1714.5 L675.1,1714.8 L677.1,1715.3 L679.1,1715.7 L681.1,1716.2 L683.1,1716.7 L685.1,1717.2 L687.1,1717.8 L689.1,1718.3 L691.1,1719 L693.1,1719.8 L695.1,1720.5 L697.1,1721.2 L699.1,1721.8 L701.1,1722.2 L703.1,1722.3 L705.1,1722.1 L707.1,1721.6 L709.1,1721 L711.1,1720.1 L713.1,1719.3 L715.1,1718.6 L717.1,1718.1 L719.1,1717.7 L721.1,1717.5 L723.1,1717.3 L725.1,1717.1 L727.1,1716.9 L729.1,1716.7 L731.1,1716.5 L733.1,1716.4 L735.1,1716.3 L737.1,1716.2 L739.1,1716.1 L741.1,1716 L743.1,1716 L745.1,1715.9 L747.1,1715.7 L749.1,1715.4 L751.1,1715.1 L753.1,1714.5 L755.1,1713.9 L757.1,1713.3 L759.1,1712.6 L761.1,1712 L763.1,1711.5 L765.1,1711 L767.1,1710.5 L769.1,1710.1 L771.1,1709.8 L773.1,1709.6 L775.1,1709.7 L777.1,1710.1 L779.1,1710.7 L781.1,1711.6 L783.1,1712.6 L785.1,1713.7 L787.1,1715.3 L789.1,1717.3 L791.1,1719.5 L793.1,1721.8 L795.1,1723.9 L797.1,1725.7 L799.1,1727.5 L801.1,1729.3 L803.1,1730.8 L805.1,1732.1 L807.1,1732.8 L809.1,1732.8 L811.1,1732.2 L813.1,1731 L815.1,1729.6 L817.1,1728.1 L819.1,1726.7 L821.1,1725.4 L823.1,1724.4 L825.1,1723.4 L827.1,1722.4 L829.1,1721.4 L831.1,1720.4 L833.1,1719.4 L835.1,1718.1 L837.1,1716.8 L839.1,1715.4 L841.1,1714 L843.1,1712.9 L845.1,1711.9 L847.1,1711.3 L849.1,1710.8 L851.1,1710.4 L853.1,1710.2 L855.1,1710.1 L857.1,1710.2 L859.1,1710.4 L861.1,1710.6 L861.4,1710.7 L861.4,1724.6 L861.1,1724.5 L859.1,1724 L857.1,1723.7 L855.1,1723.5 L853.1,1723.5 L851.1,1723.7 L849.1,1724.1 L847.1,1724.7 L845.1,1725.6 L843.1,1726.9 L841.1,1728.6 L839.1,1730.5 L837.1,1732.5 L835.1,1734.4 L833.1,1736 L831.1,1737.4 L829.1,1738.8 L827.1,1740 L825.1,1741.2 L823.1,1742.4 L821.1,1743.6 L819.1,1744.8 L817.1,1746 L815.1,1747.1 L813.1,1748.2 L811.1,1749 L809.1,1749.5 L807.1,1749.6 L805.1,1749.1 L803.1,1748.2 L801.1,1746.9 L799.1,1745.5 L797.1,1743.9 L795.1,1742.1 L793.1,1739.9 L791.1,1737.5 L789.1,1735 L787.1,1732.6 L785.1,1730.5 L783.1,1728.7 L781.1,1727 L779.1,1725.4 L777.1,1724 L775.1,1723 L773.1,1722.6 L771.1,1722.6 L769.1,1723 L767.1,1723.5 L765.1,1724.2 L763.1,1725 L761.1,1725.8 L759.1,1726.8 L757.1,1727.8 L755.1,1728.8 L753.1,1729.8 L751.1,1730.7 L749.1,1731.3 L747.1,1731.7 L745.1,1731.9 L743.1,1732.1 L741.1,1732.3 L739.1,1732.5 L737.1,1732.7 L735.1,1732.8 L733.1,1733 L731.1,1733.2 L729.1,1733.4 L727.1,1733.6 L725.1,1733.8 L723.1,1734 L721.1,1734.2 L719.1,1734.4 L717.1,1734.7 L715.1,1735 L713.1,1735.3 L711.1,1735.7 L709.1,1736.1 L707.1,1736.4 L705.1,1736.7 L703.1,1736.8 L701.1,1736.7 L699.1,1736.3 L697.1,1735.9 L695.1,1735.3 L693.1,1734.6 L691.1,1734 L689.1,1733.4 L687.1,1732.9 L685.1,1732.5 L683.1,1732.2 L681.1,1731.8 L679.1,1731.5 L677.1,1731.2 L675.1,1730.8 L673.1,1730.4 L671.1,1730 L669.1,1729.5 L667.1,1729 L665.1,1728.5 L663.1,1727.9 L661.1,1727.4 L659.1,1726.8 L657.1,1726.3 L655.1,1725.8 L653.1,1725.4 L651.1,1725 L649.1,1724.7 L647.1,1724.4 L645.1,1724.2 L643.1,1724.1 L641.1,1724 L639.1,1724 L637.1,1724 L635.1,1724.2 L633.1,1724.7 L631.1,1725.3 L629.1,1726 L627.1,1726.8 L625.1,1727.7 L623.1,1728.5 Z" fill="#0000ff" fill-opacity="0.2" stroke="none"/>
<path d="M623.1,1721.6 L625.1,1721.8 L627.1,1721.8 L629.1,1721.8 L631.1,1721.8 L633.1,1721.6 L635.1,1721.4 L637.1,1721 L639.1,1720.6 L641.1,1720.3 L643.1,1720.1 L645.1,1720.1 L647.1,1720.1 L649.1,1720.2 L651.1,1720.2 L653.1,1720.1 L655.1,1719.9 L657.1,1719.6 L659.1,1719.2 L661.1,1718.8 L663.1,1718.5 L665.1,1718.2 L667.1,1718 L669.1,1717.9 L671.1,1717.9 L673.1,1718.2 L675.1,1718.6 L677.1,1719.1 L679.1,1719.5 L681.1,1719.9 L683.1,1720.2 L685.1,1720.4 L687.1,1720.6 L689.1,1720.5 L691.1,1720.3 L693.1,1719.8 L695.1,1719.3 L697.1,1718.9 L699.1,1718.6 L701.1,1718.4 L703.1,1718.2 L705.1,1718.1 L707.1,1717.9 L709.1,1717.7 L711.1,1717.6 L713.1,1717.3 L715.1,1717 L717.1,1716.3 L719.1,1715.3 L721.1,1714.3 L723.1,1713.4 L725.1,1712.7 L727.1,1712.1 L729.1,1711.7 L731.1,1711.7 L733.1,1712 L735.1,1712.7 L737.1,1713.5 L739.1,1714.5 L741.1,1715.7 L743.1,1716.9 L745.1,1717.7 L747.1,1718 L749.1,1717.9 L751.1,1717.5 L753.1,1717 L755.1,1716.2 L757.1,1715.3 L759.1,1714.5 L761.1,1714 L763.1,1713.8 L765.1,1713.6 L767.1,1713.6 L769.1,1713.8 L771.1,1714 L773.1,1714.2 L775.1,1714.5 L777.1,1714.7 L779.1,1714.9 L781.1,1715.2 L783.1,1715.7 L785.1,1716.8 L787.1,1718.3 L789.1,1720.1 L791.1,1722.4 L793.1,1724.7 L795.1,1727.1 L797.1,1729.5 L799.1,1731.5 L801.1,1733 L803.1,1734.1 L805.1,1734.6 L807.1,1734.7 L809.1,1734.2 L811.1,1733.3 L813.1,1732 L815.1,1730 L817.1,1727.9 L819.1,1725.9 L821.1,1724.2 L823.1,1722.7 L825.1,1721.4 L827.1,1720.1 L829.1,1719 L831.1,1717.9 L833.1,1716.8 L835.1,1715.8 L837.1,1714.9 L839.1,1713.9 L841.1,1713 L843.1,1712.2 L845.1,1711.4 L847.1,1710.7 L849.1,1710.2 L851.1,1709.9 L853.1,1709.7 L855.1,1709.7 L857.1,1709.8 L859.1,1710.1 L861.1,1710.3 L861.4,1710.4" stroke="#ff0000" stroke-width="1.6" fill="none"/>
<path d="M623.1,1724.6 L625.1,1724.5 L627.1,1724.3 L629.1,1723.8 L631.1,1723.3 L633.1,1722.5 L635.1,1721.5 L637.1,1720.4 L639.1,1719.3 L641.1,1718.2 L643.1,1717.4 L645.1,1717.2 L647.1,1717.3 L649.1,1717.6 L651.1,1718.1 L653.1,1718.5 L655.1,1719 L657.1,1719.5 L659.1,1720 L661.1,1720.4 L663.1,1720.8 L665.1,1721.2 L667.1,1721.6 L669.1,1721.9 L671.1,1722.1 L673.1,1722.2 L675.1,1722.3 L677.1,1722.3 L679.1,1722.4 L681.1,1722.6 L683.1,1722.9 L685.1,1723.5 L687.1,1724.1 L689.1,1724.9 L691.1,1725.9 L693.1,1727 L695.1,1728.1 L697.1,1729.2 L699.1,1730.2 L701.1,1731 L703.1,1731.4 L705.1,1731.3 L707.1,1730.8 L709.1,1730.2 L711.1,1729.3 L713.1,1728.4 L715.1,1727.4 L717.1,1726.6 L719.1,1726 L721.1,1725.6 L723.1,1725.3 L725.1,1725.1 L727.1,1725 L729.1,1724.9 L731.1,1724.9 L733.1,1724.8 L735.1,1724.8 L737.1,1724.7 L739.1,1724.7 L741.1,1724.7 L743.1,1724.8 L745.1,1724.8 L747.1,1724.7 L749.1,1724.4 L751.1,1723.8 L753.1,1722.9 L755.1,1722 L757.1,1720.8 L759.1,1719.6 L761.1,1718.4 L763.1,1717.3 L765.1,1716.4 L767.1,1715.6 L769.1,1715 L771.1,1714.8 L773.1,1714.8 L775.1,1715.1 L777.1,1715.7 L779.1,1716.7 L781.1,1717.9 L783.1,1719.6 L785.1,1721.6 L787.1,1723.8 L789.1,1726.2 L791.1,1728.5 L793.1,1731 L795.1,1733.4 L797.1,1735.6 L799.1,1737.7 L801.1,1739.6 L803.1,1741.2 L805.1,1742.5 L807.1,1743.3 L809.1,1743.6 L811.1,1743.2 L813.1,1742.1 L815.1,1740.6 L817.1,1739 L819.1,1737.4 L821.1,1735.8 L823.1,1734.1 L825.1,1732.6 L827.1,1731.3 L829.1,1730.1 L831.1,1728.9 L833.1,1727.7 L835.1,1726.5 L837.1,1725.4 L839.1,1724.1 L841.1,1722.8 L843.1,1721.4 L845.1,1719.9 L847.1,1718.6 L849.1,1717.6 L851.1,1716.8 L853.1,1716.3 L855.1,1716.2 L857.1,1716.6 L859.1,1717.2 L861.1,1717.8 L861.4,1717.8" stroke="#0000ff" stroke-width="1.6" stroke-dasharray="20 11" fill="none"/>
<rect x="593.1" y="1638.4" width="59.9" height="166.2" fill="#e0e0e0" fill-opacity="0.5" stroke="#000" stroke-width="1.5"/>
<path d="M593.1,1721.5 H862" stroke="#000" stroke-width="1.5" fill="none"/>
<path d="M653,1718 v7 M712.7,1718 v7 M772.4,1718 v7 M832.1,1718 v7 " stroke="#000" stroke-width="1.5" fill="none"/>
<path d="M593.1,1638.4 V1929.2 H862" stroke="#111" stroke-width="1.6" fill="none"/>
<path d="M593.1,1638.4 h4 M593.1,1721.5 h4 M593.1,1804.6 h4 M593.1,1887.7 h4 M653,1929.2 v-4 M772.4,1929.2 v-4 M832.1,1929.2 v-4 " stroke="#1e1e1e" stroke-width="1.5" fill="none"/>
<text x="579.1" y="1651.9" font-size="32.8" text-anchor="end" textLength="41.7" lengthAdjust="spacingAndGlyphs" fill="#1e1e1e">0.1</text>
<text x="580.6" y="1735" font-size="32.8" text-anchor="end" textLength="16.7" lengthAdjust="spacingAndGlyphs" fill="#1e1e1e">0</text>
<text x="579.1" y="1818.1" font-size="32.8" text-anchor="end" textLength="51.7" lengthAdjust="spacingAndGlyphs" fill="#1e1e1e">-0.1</text>
<text x="582.1" y="1901.2" font-size="32.8" text-anchor="end" textLength="51.7" lengthAdjust="spacingAndGlyphs" fill="#1e1e1e">-0.2</text>
<text x="653" y="1974.2" font-size="32.8" text-anchor="middle" textLength="76.7" lengthAdjust="spacingAndGlyphs" fill="#1e1e1e">-1000</text>
<text x="772.4" y="1974.2" font-size="32.8" text-anchor="middle" textLength="16.7" lengthAdjust="spacingAndGlyphs" fill="#1e1e1e">0</text>
<text x="832.1" y="1974.2" font-size="32.8" text-anchor="middle" textLength="50" lengthAdjust="spacingAndGlyphs" fill="#1e1e1e">500</text>
</g>
<g id="pO">
<path d="M1208.5,1804.6 V1929.2" stroke="#2a2a2a" stroke-width="1.1" stroke-dasharray="2.6 2.52" fill="none"/>
<path d="M1060.5,1715.8 L1062.5,1715.1 L1064.5,1714.4 L1066.5,1713.7 L1068.5,1713.1 L1070.5,1712.4 L1072.5,1711.8 L1074.5,1711.2 L1076.5,1710.7 L1078.5,1710.1 L1080.5,1709.6 L1082.5,1709.2 L1084.5,1708.8 L1086.5,1708.4 L1088.5,1708 L1090.5,1707.5 L1092.5,1706.8 L1094.5,1705.9 L1096.5,1704.7 L1098.5,1703.5 L1100.5,1702.4 L1102.5,1701.4 L1104.5,1700.8 L1106.5,1700.6 L1108.5,1700.9 L1110.5,1701.7 L1112.5,1702.7 L1114.5,1704 L1116.5,1705.4 L1118.5,1706.8 L1120.5,1708.1 L1122.5,1709.2 L1124.5,1710.3 L1126.5,1711.3 L1128.5,1712.3 L1130.5,1713.4 L1132.5,1714.3 L1134.5,1715.3 L1136.5,1716.2 L1138.5,1717.2 L1140.5,1718.2 L1142.5,1719.1 L1144.5,1720 L1146.5,1720.5 L1148.5,1720.8 L1150.5,1720.8 L1152.5,1720.6 L1154.5,1720.3 L1156.5,1720 L1158.5,1719.7 L1160.5,1719.5 L1162.5,1719.2 L1164.5,1719 L1166.5,1718.8 L1168.5,1718.6 L1170.5,1718.4 L1172.5,1718.2 L1174.5,1718 L1176.5,1717.8 L1178.5,1717.6 L1180.5,1717.4 L1182.5,1717.2 L1184.5,1717 L1186.5,1716.8 L1188.5,1716.6 L1190.5,1716.4 L1192.5,1716.2 L1194.5,1716 L1196.5,1715.8 L1198.5,1715.6 L1200.5,1715.4 L1202.5,1715.2 L1204.5,1715.1 L1206.5,1715 L1208.5,1715 L1210.5,1715.3 L1212.5,1716.3 L1214.5,1717.7 L1216.5,1719.2 L1218.5,1720.8 L1220.5,1722.6 L1222.5,1724.6 L1224.5,1726.9 L1226.5,1729.4 L1228.5,1731.7 L1230.5,1733.9 L1232.5,1735.6 L1234.5,1736.8 L1236.5,1737.3 L1238.5,1736.6 L1240.5,1734.8 L1242.5,1732 L1244.5,1728.6 L1246.5,1724.9 L1248.5,1721.2 L1250.5,1717.8 L1252.5,1714.5 L1254.5,1711.1 L1256.5,1707.5 L1258.5,1704.1 L1260.5,1701.1 L1262.5,1698.5 L1264.5,1696.4 L1266.5,1694.8 L1268.5,1693.5 L1270.5,1692.5 L1272.5,1692.1 L1274.5,1692.2 L1276.5,1692.8 L1278.5,1693.7 L1280.5,1694.7 L1282.5,1695.8 L1284.5,1696.9 L1286.5,1698 L1288.5,1699.1 L1290.5,1700.2 L1292.5,1701.3 L1294.5,1702.4 L1296.5,1703.5 L1296.7,1703.6 L1296.7,1724.8 L1296.5,1724.7 L1294.5,1723.6 L1292.5,1722.5 L1290.5,1721.4 L1288.5,1720.3 L1286.5,1719.2 L1284.5,1718 L1282.5,1716.9 L1280.5,1715.7 L1278.5,1714.7 L1276.5,1713.9 L1274.5,1713.6 L1272.5,1714 L1270.5,1715.3 L1268.5,1717.2 L1266.5,1719.5 L1264.5,1722 L1262.5,1724.5 L1260.5,1727.3 L1258.5,1730.4 L1256.5,1733.5 L1254.5,1736.6 L1252.5,1739.5 L1250.5,1742 L1248.5,1744.4 L1246.5,1746.7 L1244.5,1748.8 L1242.5,1750.6 L1240.5,1751.9 L1238.5,1752.6 L1236.5,1752.5 L1234.5,1751.7 L1232.5,1750.4 L1230.5,1748.8 L1228.5,1746.9 L1226.5,1744.7 L1224.5,1742.5 L1222.5,1740.2 L1220.5,1738 L1218.5,1735.8 L1216.5,1733.4 L1214.5,1730.8 L1212.5,1728.4 L1210.5,1726.5 L1208.5,1725.6 L1206.5,1725.5 L1204.5,1725.7 L1202.5,1726.2 L1200.5,1726.7 L1198.5,1727.3 L1196.5,1727.9 L1194.5,1728.3 L1192.5,1728.4 L1190.5,1728.3 L1188.5,1728 L1186.5,1727.4 L1184.5,1726.9 L1182.5,1726.3 L1180.5,1725.8 L1178.5,1725.6 L1176.5,1725.5 L1174.5,1725.8 L1172.5,1726.4 L1170.5,1727.1 L1168.5,1728 L1166.5,1729 L1164.5,1730 L1162.5,1730.9 L1160.5,1731.7 L1158.5,1732.6 L1156.5,1733.4 L1154.5,1734.2 L1152.5,1734.8 L1150.5,1735.1 L1148.5,1735.1 L1146.5,1734.7 L1144.5,1733.9 L1142.5,1732.9 L1140.5,1731.8 L1138.5,1730.8 L1136.5,1729.9 L1134.5,1729.3 L1132.5,1728.6 L1130.5,1728 L1128.5,1727.4 L1126.5,1726.9 L1124.5,1726.3 L1122.5,1725.7 L1120.5,1725.1 L1118.5,1724.4 L1116.5,1723.8 L1114.5,1723.1 L1112.5,1722.5 L1110.5,1721.9 L1108.5,1721.4 L1106.5,1720.9 L1104.5,1720.6 L1102.5,1720.4 L1100.5,1720.3 L1098.5,1720.3 L1096.5,1720.3 L1094.5,1720.5 L1092.5,1720.8 L1090.5,1721.1 L1088.5,1721.7 L1086.5,1722.3 L1084.5,1723.1 L1082.5,1723.9 L1080.5,1724.6 L1078.5,1725.2 L1076.5,1725.7 L1074.5,1726.2 L1072.5,1726.6 L1070.5,1727.1 L1068.5,1727.4 L1066.5,1727.8 L1064.5,1728.1 L1062.5,1728.3 L1060.5,1728.5 Z" fill="#ff0000" fill-opacity="0.2" stroke="none"/>
<path d="M1060.5,1704.1 L1062.5,1704.6 L1064.5,1705.1 L1066.5,1705.5 L1068.5,1705.9 L1070.5,1706.1 L1072.5,1706.2 L1074.5,1706.2 L1076.5,1705.9 L1078.5,1705.5 L1080.5,1704.8 L1082.5,1703.9 L1084.5,1702.9 L1086.5,1701.9 L1088.5,1700.9 L1090.5,1700.1 L1092.5,1699.3 L1094.5,1698.6 L1096.5,1697.9 L1098.5,1697.3 L1100.5,1696.9 L1102.5,1696.7 L1104.5,1696.7 L1106.5,1697 L1108.5,1697.7 L1110.5,1698.5 L1112.5,1699.5 L1114.5,1700.6 L1116.5,1701.7 L1118.5,1702.8 L1120.5,1703.7 L1122.5,1704.5 L1124.5,1705.3 L1126.5,1706 L1128.5,1706.7 L1130.5,1707.4 L1132.5,1707.9 L1134.5,1708.4 L1136.5,1708.7 L1138.5,1708.7 L1140.5,1708.5 L1142.5,1708.1 L1144.5,1707.6 L1146.5,1707.3 L1148.5,1707.3 L1150.5,1707.6 L1152.5,1708.2 L1154.5,1709 L1156.5,1709.9 L1158.5,1710.8 L1160.5,1711.6 L1162.5,1712.4 L1164.5,1713.2 L1166.5,1714 L1168.5,1714.8 L1170.5,1715.5 L1172.5,1716 L1174.5,1716.3 L1176.5,1716.2 L1178.5,1715.7 L1180.5,1714.8 L1182.5,1713.6 L1184.5,1712.2 L1186.5,1710.7 L1188.5,1709.2 L1190.5,1707.8 L1192.5,1706.6 L1194.5,1705.5 L1196.5,1704.3 L1198.5,1703.2 L1200.5,1702.1 L1202.5,1701.2 L1204.5,1700.4 L1206.5,1699.8 L1208.5,1699.5 L1210.5,1699.7 L1212.5,1700.1 L1214.5,1700.8 L1216.5,1701.7 L1218.5,1702.9 L1220.5,1704.4 L1222.5,1706 L1224.5,1707.6 L1226.5,1709.3 L1228.5,1711.1 L1230.5,1713.1 L1232.5,1715.1 L1234.5,1716.8 L1236.5,1717.5 L1238.5,1717.1 L1240.5,1715.7 L1242.5,1713.7 L1244.5,1711.2 L1246.5,1708.6 L1248.5,1706.3 L1250.5,1704 L1252.5,1701.7 L1254.5,1699.4 L1256.5,1697.3 L1258.5,1695.9 L1260.5,1695.2 L1262.5,1695.2 L1264.5,1695.8 L1266.5,1696.7 L1268.5,1697.6 L1270.5,1698.1 L1272.5,1698.2 L1274.5,1697.6 L1276.5,1696.8 L1278.5,1695.8 L1280.5,1694.7 L1282.5,1693.6 L1284.5,1692.5 L1286.5,1691.6 L1288.5,1690.6 L1290.5,1689.7 L1292.5,1688.8 L1294.5,1687.9 L1296.5,1687 L1296.7,1686.9 L1296.7,1708.9 L1296.5,1709.1 L1294.5,1710.9 L1292.5,1712.8 L1290.5,1714.6 L1288.5,1716.2 L1286.5,1717.3 L1284.5,1718 L1282.5,1718.5 L1280.5,1718.9 L1278.5,1719.2 L1276.5,1719.3 L1274.5,1719.4 L1272.5,1719.2 L1270.5,1718.7 L1268.5,1717.9 L1266.5,1717 L1264.5,1716.1 L1262.5,1715.3 L1260.5,1715.1 L1258.5,1715.6 L1256.5,1717.2 L1254.5,1719.8 L1252.5,1722.6 L1250.5,1725.2 L1248.5,1727.2 L1246.5,1728.7 L1244.5,1730.1 L1242.5,1731.4 L1240.5,1732.3 L1238.5,1732.8 L1236.5,1732.9 L1234.5,1732.5 L1232.5,1731.9 L1230.5,1731.2 L1228.5,1730.3 L1226.5,1729.4 L1224.5,1728.5 L1222.5,1727.5 L1220.5,1726.5 L1218.5,1725.4 L1216.5,1724.4 L1214.5,1723.3 L1212.5,1722 L1210.5,1720.8 L1208.5,1719.9 L1206.5,1719.5 L1204.5,1719.5 L1202.5,1719.8 L1200.5,1720.2 L1198.5,1720.7 L1196.5,1721.2 L1194.5,1721.7 L1192.5,1722.2 L1190.5,1722.6 L1188.5,1723 L1186.5,1723.5 L1184.5,1724 L1182.5,1724.4 L1180.5,1724.8 L1178.5,1725.1 L1176.5,1725.4 L1174.5,1725.6 L1172.5,1725.7 L1170.5,1725.8 L1168.5,1725.8 L1166.5,1725.7 L1164.5,1725.7 L1162.5,1725.5 L1160.5,1725.4 L1158.5,1725.2 L1156.5,1724.9 L1154.5,1724.6 L1152.5,1724.3 L1150.5,1724.1 L1148.5,1723.9 L1146.5,1723.9 L1144.5,1723.9 L1142.5,1723.9 L1140.5,1723.9 L1138.5,1723.9 L1136.5,1723.9 L1134.5,1723.8 L1132.5,1723.7 L1130.5,1723.5 L1128.5,1723.3 L1126.5,1723.1 L1124.5,1722.8 L1122.5,1722.5 L1120.5,1722.1 L1118.5,1721.6 L1116.5,1720.9 L1114.5,1720 L1112.5,1719.1 L1110.5,1718.3 L1108.5,1717.5 L1106.5,1716.8 L1104.5,1716.3 L1102.5,1716 L1100.5,1715.8 L1098.5,1715.7 L1096.5,1715.7 L1094.5,1715.9 L1092.5,1716.2 L1090.5,1716.7 L1088.5,1717.4 L1086.5,1718.3 L1084.5,1719.4 L1082.5,1720.5 L1080.5,1721.4 L1078.5,1722.1 L1076.5,1722.6 L1074.5,1722.9 L1072.5,1723.1 L1070.5,1723.2 L1068.5,1723.2 L1066.5,1723.1 L1064.5,1722.9 L1062.5,1722.6 L1060.5,1722.3 Z" fill="#0000ff" fill-opacity="0.2" stroke="none"/>
<path d="M1060.5,1721.6 L1062.5,1721.7 L1064.5,1721.6 L1066.5,1721.3 L1068.5,1720.9 L1070.5,1720.1 L1072.5,1719.1 L1074.5,1718 L1076.5,1717 L1078.5,1716.1 L1080.5,1715.2 L1082.5,1714.5 L1084.5,1714.1 L1086.5,1713.9 L1088.5,1713.8 L1090.5,1713.7 L1092.5,1713.4 L1094.5,1713.1 L1096.5,1712.6 L1098.5,1712.2 L1100.5,1711.7 L1102.5,1711.2 L1104.5,1710.7 L1106.5,1710.4 L1108.5,1710.4 L1110.5,1710.6 L1112.5,1711.1 L1114.5,1711.8 L1116.5,1712.7 L1118.5,1713.7 L1120.5,1714.8 L1122.5,1716 L1124.5,1717.2 L1126.5,1718.4 L1128.5,1719.4 L1130.5,1720.3 L1132.5,1721 L1134.5,1721.8 L1136.5,1722.6 L1138.5,1723.5 L1140.5,1724.4 L1142.5,1725.3 L1144.5,1726.3 L1146.5,1727.3 L1148.5,1728.1 L1150.5,1728.7 L1152.5,1728.9 L1154.5,1728.8 L1156.5,1728.3 L1158.5,1727.4 L1160.5,1726.5 L1162.5,1725.5 L1164.5,1724.4 L1166.5,1723.3 L1168.5,1722.3 L1170.5,1721.6 L1172.5,1721.2 L1174.5,1720.9 L1176.5,1720.9 L1178.5,1721.1 L1180.5,1721.5 L1182.5,1721.9 L1184.5,1722.3 L1186.5,1722.5 L1188.5,1722.6 L1190.5,1722.6 L1192.5,1722.4 L1194.5,1722.1 L1196.5,1721.7 L1198.5,1721.3 L1200.5,1720.9 L1202.5,1720.7 L1204.5,1720.7 L1206.5,1720.9 L1208.5,1721.3 L1210.5,1722.3 L1212.5,1724 L1214.5,1725.8 L1216.5,1727.6 L1218.5,1729.4 L1220.5,1731.2 L1222.5,1733.1 L1224.5,1735.1 L1226.5,1737.2 L1228.5,1739.1 L1230.5,1740.9 L1232.5,1742.5 L1234.5,1743.9 L1236.5,1744.8 L1238.5,1745.1 L1240.5,1744.6 L1242.5,1743.5 L1244.5,1741.8 L1246.5,1739.2 L1248.5,1735.9 L1250.5,1732.1 L1252.5,1728.2 L1254.5,1724.1 L1256.5,1720.3 L1258.5,1716.8 L1260.5,1713.7 L1262.5,1710.8 L1264.5,1708.4 L1266.5,1706.3 L1268.5,1704.6 L1270.5,1703.5 L1272.5,1702.9 L1274.5,1702.7 L1276.5,1702.9 L1278.5,1703.4 L1280.5,1704.2 L1282.5,1705.1 L1284.5,1706.3 L1286.5,1707.8 L1288.5,1709.3 L1290.5,1710.6 L1292.5,1711.6 L1294.5,1712.3 L1296.5,1712.6 L1296.7,1712.5" stroke="#ff0000" stroke-width="1.6" fill="none"/>
<path d="M1060.5,1713.9 L1062.5,1714.7 L1064.5,1715.5 L1066.5,1716 L1068.5,1716.3 L1070.5,1716.2 L1072.5,1715.9 L1074.5,1715.4 L1076.5,1714.7 L1078.5,1713.8 L1080.5,1712.8 L1082.5,1711.7 L1084.5,1710.6 L1086.5,1709.5 L1088.5,1708.6 L1090.5,1707.9 L1092.5,1707.5 L1094.5,1707.2 L1096.5,1707 L1098.5,1706.9 L1100.5,1706.9 L1102.5,1706.9 L1104.5,1707 L1106.5,1707.2 L1108.5,1707.6 L1110.5,1708.1 L1112.5,1708.8 L1114.5,1709.8 L1116.5,1711 L1118.5,1712.3 L1120.5,1713.5 L1122.5,1714.5 L1124.5,1715.5 L1126.5,1716.3 L1128.5,1716.8 L1130.5,1717.1 L1132.5,1717.2 L1134.5,1717.2 L1136.5,1716.8 L1138.5,1716.4 L1140.5,1715.8 L1142.5,1715.2 L1144.5,1714.7 L1146.5,1714.1 L1148.5,1713.8 L1150.5,1714 L1152.5,1714.7 L1154.5,1715.9 L1156.5,1717 L1158.5,1718.1 L1160.5,1718.9 L1162.5,1719.8 L1164.5,1720.5 L1166.5,1721.1 L1168.5,1721.7 L1170.5,1722.1 L1172.5,1722.3 L1174.5,1722.3 L1176.5,1722 L1178.5,1721.4 L1180.5,1720.5 L1182.5,1719.6 L1184.5,1718.5 L1186.5,1717.3 L1188.5,1716 L1190.5,1714.7 L1192.5,1713.4 L1194.5,1712 L1196.5,1710.8 L1198.5,1709.9 L1200.5,1709.2 L1202.5,1708.6 L1204.5,1708.2 L1206.5,1707.9 L1208.5,1707.9 L1210.5,1708.1 L1212.5,1708.6 L1214.5,1709.7 L1216.5,1711 L1218.5,1712.7 L1220.5,1714.5 L1222.5,1716.4 L1224.5,1718.2 L1226.5,1720.1 L1228.5,1721.9 L1230.5,1723.7 L1232.5,1725.3 L1234.5,1726.4 L1236.5,1726.7 L1238.5,1726 L1240.5,1724.6 L1242.5,1722.7 L1244.5,1720.3 L1246.5,1717.6 L1248.5,1714.8 L1250.5,1712 L1252.5,1709.3 L1254.5,1707 L1256.5,1705.1 L1258.5,1704 L1260.5,1703.7 L1262.5,1704.1 L1264.5,1704.8 L1266.5,1705.5 L1268.5,1706.4 L1270.5,1707.2 L1272.5,1708.1 L1274.5,1708.6 L1276.5,1708.6 L1278.5,1708.2 L1280.5,1707.4 L1282.5,1706.3 L1284.5,1705 L1286.5,1703.6 L1288.5,1702.1 L1290.5,1700.9 L1292.5,1699.9 L1294.5,1699.2 L1296.5,1698.9 L1296.7,1698.9" stroke="#0000ff" stroke-width="1.6" stroke-dasharray="20 11" fill="none"/>
<path d="M1060.5,1721.5 H1297.3" stroke="#000" stroke-width="1.5" fill="none"/>
<path d="M1090.1,1718 v7 M1149.3,1718 v7 M1208.5,1718 v7 M1267.7,1718 v7 " stroke="#000" stroke-width="1.5" fill="none"/>
<rect x="1149.3" y="1638.4" width="59.2" height="166.2" fill="#e0e0e0" fill-opacity="0.5" stroke="#000" stroke-width="1.5"/>
<path d="M1031.3,1638.4 V1929.2 H1297.3" stroke="#111" stroke-width="1.6" fill="none"/>
<path d="M1031.3,1638.4 h4 M1031.3,1721.5 h4 M1031.3,1804.6 h4 M1031.3,1887.7 h4 M1090.1,1929.2 v-4 M1208.5,1929.2 v-4 M1267.7,1929.2 v-4 " stroke="#1e1e1e" stroke-width="1.5" fill="none"/>
<text x="1017.3" y="1651.9" font-size="32.8" text-anchor="end" textLength="41.7" lengthAdjust="spacingAndGlyphs" fill="#1e1e1e">0.1</text>
<text x="1018.8" y="1735" font-size="32.8" text-anchor="end" textLength="16.7" lengthAdjust="spacingAndGlyphs" fill="#1e1e1e">0</text>
<text x="1017.3" y="1818.1" font-size="32.8" text-anchor="end" textLength="51.7" lengthAdjust="spacingAndGlyphs" fill="#1e1e1e">-0.1</text>
<text x="1020.3" y="1901.2" font-size="32.8" text-anchor="end" textLength="51.7" lengthAdjust="spacingAndGlyphs" fill="#1e1e1e">-0.2</text>
<text x="1090.1" y="1974.2" font-size="32.8" text-anchor="middle" textLength="76.7" lengthAdjust="spacingAndGlyphs" fill="#1e1e1e">-1000</text>
<text x="1208.5" y="1974.2" font-size="32.8" text-anchor="middle" textLength="16.7" lengthAdjust="spacingAndGlyphs" fill="#1e1e1e">0</text>
<text x="1267.7" y="1974.2" font-size="32.8" text-anchor="middle" textLength="50" lengthAdjust="spacingAndGlyphs" fill="#1e1e1e">500</text>
</g>
<g id="pP">
<path d="M1560.9,1804.6 V1929.2" stroke="#2a2a2a" stroke-width="1.1" stroke-dasharray="2.6 2.52" fill="none"/>
<rect x="1501.6" y="1638.4" width="59.3" height="166.2" fill="#f0f0f0" fill-opacity="1" stroke="#000" stroke-width="1.5"/>
<path d="M1412.7,1719.4 L1414.7,1719.3 L1416.7,1719.3 L1418.7,1719.1 L1420.7,1719 L1422.7,1718.8 L1424.7,1718.6 L1426.7,1718.3 L1428.7,1718.1 L1430.7,1717.8 L1432.7,1717.4 L1434.7,1717 L1436.7,1716.4 L1438.7,1715.8 L1440.7,1715.2 L1442.7,1714.6 L1444.7,1714.1 L1446.7,1713.7 L1448.7,1713.5 L1450.7,1713.4 L1452.7,1713.5 L1454.7,1713.7 L1456.7,1714.1 L1458.7,1714.6 L1460.7,1715.1 L1462.7,1715.5 L1464.7,1715.9 L1466.7,1716.2 L1468.7,1716.3 L1470.7,1716.3 L1472.7,1716.2 L1474.7,1716.1 L1476.7,1715.9 L1478.7,1715.7 L1480.7,1715.6 L1482.7,1715.4 L1484.7,1715.2 L1486.7,1715 L1488.7,1714.8 L1490.7,1714.6 L1492.7,1714.4 L1494.7,1714.2 L1496.7,1714 L1498.7,1713.8 L1500.7,1713.6 L1502.7,1713.4 L1504.7,1713.1 L1506.7,1712.8 L1508.7,1712.4 L1510.7,1712.1 L1512.7,1711.7 L1514.7,1711.4 L1516.7,1711.2 L1518.7,1711.2 L1520.7,1711.6 L1522.7,1712.4 L1524.7,1713.5 L1526.7,1714.6 L1528.7,1715.5 L1530.7,1716.1 L1532.7,1716.3 L1534.7,1716.1 L1536.7,1715.7 L1538.7,1715.3 L1540.7,1714.8 L1542.7,1714.3 L1544.7,1713.8 L1546.7,1713.5 L1548.7,1713.4 L1550.7,1713.3 L1552.7,1713.3 L1554.7,1713.3 L1556.7,1713.3 L1558.7,1713.3 L1560.7,1713.3 L1562.7,1713.4 L1564.7,1713.5 L1566.7,1713.7 L1568.7,1713.9 L1570.7,1714.2 L1572.7,1714.6 L1574.7,1715.1 L1576.7,1715.9 L1578.7,1717.3 L1580.7,1718.9 L1582.7,1720.8 L1584.7,1722.7 L1586.7,1724.6 L1588.7,1726.4 L1590.7,1728 L1592.7,1729.5 L1594.7,1730.7 L1596.7,1731.2 L1598.7,1730.7 L1600.7,1729.1 L1602.7,1726.8 L1604.7,1724.1 L1606.7,1721.2 L1608.7,1718.5 L1610.7,1716.2 L1612.7,1714.6 L1614.7,1713.3 L1616.7,1712.2 L1618.7,1711.2 L1620.7,1710.2 L1622.7,1709.3 L1624.7,1708.4 L1626.7,1707.5 L1628.7,1706.7 L1630.7,1705.8 L1632.7,1705 L1634.7,1704.2 L1636.7,1703.5 L1638.7,1702.9 L1640.7,1702.6 L1642.7,1702.5 L1644.7,1702.5 L1646.7,1702.7 L1648.7,1703 L1649.3,1703.1 L1649.3,1723.9 L1648.7,1723.9 L1646.7,1724 L1644.7,1724.3 L1642.7,1724.7 L1640.7,1725.1 L1638.7,1725.7 L1636.7,1726.3 L1634.7,1727 L1632.7,1727.8 L1630.7,1728.6 L1628.7,1729.4 L1626.7,1730.3 L1624.7,1731.2 L1622.7,1732.1 L1620.7,1733.1 L1618.7,1734.1 L1616.7,1735.2 L1614.7,1736.2 L1612.7,1737.3 L1610.7,1738.5 L1608.7,1739.8 L1606.7,1741.2 L1604.7,1742.6 L1602.7,1743.9 L1600.7,1745.1 L1598.7,1746 L1596.7,1746.5 L1594.7,1746.4 L1592.7,1745.6 L1590.7,1744.4 L1588.7,1743 L1586.7,1741.4 L1584.7,1739.5 L1582.7,1737.4 L1580.7,1735.3 L1578.7,1733.4 L1576.7,1731.7 L1574.7,1730.3 L1572.7,1729.3 L1570.7,1728.4 L1568.7,1727.6 L1566.7,1726.9 L1564.7,1726.4 L1562.7,1725.9 L1560.7,1725.5 L1558.7,1725.1 L1556.7,1724.8 L1554.7,1724.5 L1552.7,1724.2 L1550.7,1724.1 L1548.7,1724 L1546.7,1724 L1544.7,1724.1 L1542.7,1724.3 L1540.7,1724.6 L1538.7,1724.8 L1536.7,1725.1 L1534.7,1725.3 L1532.7,1725.4 L1530.7,1725.3 L1528.7,1725 L1526.7,1724.4 L1524.7,1723.8 L1522.7,1723.2 L1520.7,1722.7 L1518.7,1722.5 L1516.7,1722.7 L1514.7,1723.3 L1512.7,1724.2 L1510.7,1725.2 L1508.7,1726.3 L1506.7,1727.3 L1504.7,1728 L1502.7,1728.5 L1500.7,1728.8 L1498.7,1729 L1496.7,1729.2 L1494.7,1729.4 L1492.7,1729.5 L1490.7,1729.7 L1488.7,1729.9 L1486.7,1730.2 L1484.7,1730.4 L1482.7,1730.7 L1480.7,1731 L1478.7,1731.3 L1476.7,1731.5 L1474.7,1731.8 L1472.7,1732 L1470.7,1732.2 L1468.7,1732.3 L1466.7,1732.3 L1464.7,1732.3 L1462.7,1732.2 L1460.7,1732 L1458.7,1731.9 L1456.7,1731.7 L1454.7,1731.6 L1452.7,1731.5 L1450.7,1731.5 L1448.7,1731.6 L1446.7,1731.8 L1444.7,1732.1 L1442.7,1732.5 L1440.7,1732.9 L1438.7,1733.3 L1436.7,1733.7 L1434.7,1734 L1432.7,1734.3 L1430.7,1734.5 L1428.7,1734.5 L1426.7,1734.5 L1424.7,1734.2 L1422.7,1733.9 L1420.7,1733.5 L1418.7,1733 L1416.7,1732.5 L1414.7,1732 L1412.7,1731.5 Z" fill="#ff0000" fill-opacity="0.2" stroke="none"/>
<path d="M1412.7,1712.7 L1414.7,1711.9 L1416.7,1711 L1418.7,1710.2 L1420.7,1709.5 L1422.7,1708.8 L1424.7,1708.2 L1426.7,1707.8 L1428.7,1707.5 L1430.7,1707.3 L1432.7,1707.2 L1434.7,1707.1 L1436.7,1707.1 L1438.7,1707.1 L1440.7,1707.2 L1442.7,1707.3 L1444.7,1707.4 L1446.7,1707.6 L1448.7,1707.9 L1450.7,1708.1 L1452.7,1708.5 L1454.7,1708.8 L1456.7,1709.2 L1458.7,1709.6 L1460.7,1710 L1462.7,1710.4 L1464.7,1710.8 L1466.7,1711.2 L1468.7,1711.6 L1470.7,1712 L1472.7,1712.4 L1474.7,1712.8 L1476.7,1713.2 L1478.7,1713.6 L1480.7,1714 L1482.7,1714.4 L1484.7,1714.8 L1486.7,1715.3 L1488.7,1715.9 L1490.7,1716.5 L1492.7,1717.1 L1494.7,1717.5 L1496.7,1717.8 L1498.7,1717.8 L1500.7,1717.6 L1502.7,1717.3 L1504.7,1716.9 L1506.7,1716.6 L1508.7,1716.4 L1510.7,1716.4 L1512.7,1716.6 L1514.7,1716.8 L1516.7,1717.1 L1518.7,1717.3 L1520.7,1717.6 L1522.7,1717.8 L1524.7,1717.8 L1526.7,1717.8 L1528.7,1717.6 L1530.7,1717.3 L1532.7,1716.9 L1534.7,1716.3 L1536.7,1715.7 L1538.7,1715.1 L1540.7,1714.3 L1542.7,1713.2 L1544.7,1711.9 L1546.7,1710.5 L1548.7,1709.1 L1550.7,1707.8 L1552.7,1706.6 L1554.7,1705.4 L1556.7,1704.2 L1558.7,1703.3 L1560.7,1702.9 L1562.7,1703.1 L1564.7,1703.8 L1566.7,1705.1 L1568.7,1706.7 L1570.7,1708.5 L1572.7,1710.3 L1574.7,1712.2 L1576.7,1714.5 L1578.7,1716.9 L1580.7,1719.3 L1582.7,1721.6 L1584.7,1723.7 L1586.7,1725.7 L1588.7,1727.6 L1590.7,1729.3 L1592.7,1730.6 L1594.7,1731.3 L1596.7,1731.1 L1598.7,1730.4 L1600.7,1729.3 L1602.7,1727.9 L1604.7,1726.5 L1606.7,1725 L1608.7,1723.6 L1610.7,1722.1 L1612.7,1720.5 L1614.7,1719 L1616.7,1717.5 L1618.7,1716 L1620.7,1714.6 L1622.7,1713.2 L1624.7,1711.7 L1626.7,1710.4 L1628.7,1709.1 L1630.7,1707.9 L1632.7,1706.9 L1634.7,1705.9 L1636.7,1704.9 L1638.7,1704 L1640.7,1703.2 L1642.7,1702.4 L1644.7,1701.8 L1646.7,1701.3 L1648.7,1701 L1649.3,1700.9 L1649.3,1724 L1648.7,1724 L1646.7,1724 L1644.7,1724.1 L1642.7,1724.3 L1640.7,1724.7 L1638.7,1725.1 L1636.7,1725.6 L1634.7,1726.1 L1632.7,1726.7 L1630.7,1727.4 L1628.7,1728.3 L1626.7,1729.3 L1624.7,1730.4 L1622.7,1731.7 L1620.7,1732.9 L1618.7,1734.3 L1616.7,1735.7 L1614.7,1737.2 L1612.7,1738.8 L1610.7,1740.5 L1608.7,1742 L1606.7,1743.2 L1604.7,1744.3 L1602.7,1745.2 L1600.7,1745.9 L1598.7,1746.4 L1596.7,1746.6 L1594.7,1746.5 L1592.7,1746.1 L1590.7,1745.3 L1588.7,1744.3 L1586.7,1743.2 L1584.7,1741.9 L1582.7,1740.4 L1580.7,1738.7 L1578.7,1736.8 L1576.7,1734.9 L1574.7,1733.1 L1572.7,1731.5 L1570.7,1730 L1568.7,1728.5 L1566.7,1727.1 L1564.7,1725.9 L1562.7,1724.8 L1560.7,1724 L1558.7,1723.4 L1556.7,1722.9 L1554.7,1722.5 L1552.7,1722.4 L1550.7,1722.6 L1548.7,1723 L1546.7,1723.6 L1544.7,1724.2 L1542.7,1724.7 L1540.7,1725.2 L1538.7,1725.5 L1536.7,1725.6 L1534.7,1725.6 L1532.7,1725.5 L1530.7,1725.4 L1528.7,1725.3 L1526.7,1725.3 L1524.7,1725.4 L1522.7,1725.8 L1520.7,1726.2 L1518.7,1726.8 L1516.7,1727.4 L1514.7,1728.1 L1512.7,1728.8 L1510.7,1729.5 L1508.7,1730.2 L1506.7,1730.9 L1504.7,1731.8 L1502.7,1732.6 L1500.7,1733.4 L1498.7,1734.1 L1496.7,1734.6 L1494.7,1734.9 L1492.7,1735 L1490.7,1735 L1488.7,1735 L1486.7,1734.8 L1484.7,1734.5 L1482.7,1734 L1480.7,1733.3 L1478.7,1732.6 L1476.7,1731.8 L1474.7,1731.1 L1472.7,1730.5 L1470.7,1730.1 L1468.7,1730 L1466.7,1730.1 L1464.7,1730.2 L1462.7,1730.4 L1460.7,1730.7 L1458.7,1730.9 L1456.7,1731.1 L1454.7,1731.3 L1452.7,1731.4 L1450.7,1731.5 L1448.7,1731.5 L1446.7,1731.4 L1444.7,1731.2 L1442.7,1731 L1440.7,1730.8 L1438.7,1730.6 L1436.7,1730.4 L1434.7,1730.2 L1432.7,1730.1 L1430.7,1730 L1428.7,1730 L1426.7,1730.2 L1424.7,1730.4 L1422.7,1730.8 L1420.7,1731.2 L1418.7,1731.6 L1416.7,1732.1 L1414.7,1732.6 L1412.7,1733.1 Z" fill="#0000ff" fill-opacity="0.2" stroke="none"/>
<path d="M1412.7,1725.4 L1414.7,1726.1 L1416.7,1726.8 L1418.7,1727.3 L1420.7,1727.6 L1422.7,1727.7 L1424.7,1727.4 L1426.7,1727 L1428.7,1726.5 L1430.7,1726.1 L1432.7,1725.6 L1434.7,1725.2 L1436.7,1724.7 L1438.7,1724.3 L1440.7,1723.9 L1442.7,1723.6 L1444.7,1723.4 L1446.7,1723.3 L1448.7,1723.2 L1450.7,1723.2 L1452.7,1723.2 L1454.7,1723.3 L1456.7,1723.4 L1458.7,1723.5 L1460.7,1723.7 L1462.7,1723.9 L1464.7,1724.1 L1466.7,1724.4 L1468.7,1724.7 L1470.7,1724.9 L1472.7,1725.1 L1474.7,1725.1 L1476.7,1725 L1478.7,1724.9 L1480.7,1724.6 L1482.7,1724.4 L1484.7,1724.1 L1486.7,1723.8 L1488.7,1723.6 L1490.7,1723.3 L1492.7,1723.1 L1494.7,1723 L1496.7,1722.8 L1498.7,1722.5 L1500.7,1722.3 L1502.7,1722 L1504.7,1721.5 L1506.7,1720.8 L1508.7,1719.7 L1510.7,1718.6 L1512.7,1717.7 L1514.7,1717 L1516.7,1716.5 L1518.7,1716.2 L1520.7,1716.3 L1522.7,1716.7 L1524.7,1717.5 L1526.7,1718.4 L1528.7,1719.5 L1530.7,1720.8 L1532.7,1721.7 L1534.7,1722 L1536.7,1721.8 L1538.7,1721.3 L1540.7,1720.7 L1542.7,1719.9 L1544.7,1719.1 L1546.7,1718.4 L1548.7,1717.9 L1550.7,1717.8 L1552.7,1717.8 L1554.7,1718 L1556.7,1718.3 L1558.7,1718.8 L1560.7,1719.3 L1562.7,1719.7 L1564.7,1719.9 L1566.7,1720 L1568.7,1720.1 L1570.7,1720.5 L1572.7,1721.3 L1574.7,1722.5 L1576.7,1723.9 L1578.7,1725.6 L1580.7,1727.4 L1582.7,1729.4 L1584.7,1731.4 L1586.7,1733.4 L1588.7,1735.3 L1590.7,1737 L1592.7,1738.3 L1594.7,1739 L1596.7,1739 L1598.7,1738.1 L1600.7,1736.7 L1602.7,1735 L1604.7,1733 L1606.7,1730.8 L1608.7,1729 L1610.7,1727.4 L1612.7,1726.1 L1614.7,1725 L1616.7,1724 L1618.7,1723.1 L1620.7,1722.3 L1622.7,1721.6 L1624.7,1720.7 L1626.7,1719.7 L1628.7,1718.7 L1630.7,1717.7 L1632.7,1716.7 L1634.7,1715.8 L1636.7,1715 L1638.7,1714.4 L1640.7,1714 L1642.7,1713.9 L1644.7,1714.1 L1646.7,1714.5 L1648.7,1714.9 L1649.3,1715" stroke="#ff0000" stroke-width="1.6" fill="none"/>
<path d="M1412.7,1722.3 L1414.7,1722.3 L1416.7,1722 L1418.7,1721.5 L1420.7,1720.8 L1422.7,1719.8 L1424.7,1718.7 L1426.7,1717.5 L1428.7,1716.2 L1430.7,1714.9 L1432.7,1714 L1434.7,1713.9 L1436.7,1714.3 L1438.7,1715 L1440.7,1715.5 L1442.7,1715.8 L1444.7,1716.1 L1446.7,1716.3 L1448.7,1716.8 L1450.7,1717.2 L1452.7,1717.7 L1454.7,1718.2 L1456.7,1718.6 L1458.7,1718.9 L1460.7,1719.2 L1462.7,1719.4 L1464.7,1719.4 L1466.7,1719.4 L1468.7,1719.5 L1470.7,1719.9 L1472.7,1720.6 L1474.7,1721.3 L1476.7,1722 L1478.7,1722.8 L1480.7,1723.6 L1482.7,1724.4 L1484.7,1725.4 L1486.7,1726.4 L1488.7,1727.3 L1490.7,1728 L1492.7,1728.2 L1494.7,1728 L1496.7,1727.5 L1498.7,1726.8 L1500.7,1725.9 L1502.7,1724.8 L1504.7,1724 L1506.7,1723.4 L1508.7,1722.9 L1510.7,1722.6 L1512.7,1722.4 L1514.7,1722.4 L1516.7,1722.4 L1518.7,1722.4 L1520.7,1722.4 L1522.7,1722.4 L1524.7,1722.3 L1526.7,1722.2 L1528.7,1722.1 L1530.7,1722 L1532.7,1721.9 L1534.7,1721.8 L1536.7,1721.5 L1538.7,1720.8 L1540.7,1719.7 L1542.7,1718.4 L1544.7,1717.2 L1546.7,1716 L1548.7,1714.8 L1550.7,1713.8 L1552.7,1712.9 L1554.7,1712.1 L1556.7,1711.5 L1558.7,1711.2 L1560.7,1711.3 L1562.7,1711.9 L1564.7,1712.9 L1566.7,1714.2 L1568.7,1715.8 L1570.7,1717.6 L1572.7,1719.6 L1574.7,1721.5 L1576.7,1723.4 L1578.7,1725.4 L1580.7,1727.3 L1582.7,1729.4 L1584.7,1731.4 L1586.7,1733.4 L1588.7,1735.2 L1590.7,1736.9 L1592.7,1738.3 L1594.7,1739.1 L1596.7,1739 L1598.7,1738.2 L1600.7,1737.3 L1602.7,1736.3 L1604.7,1735.3 L1606.7,1734.3 L1608.7,1733.2 L1610.7,1732 L1612.7,1730.6 L1614.7,1729.2 L1616.7,1727.8 L1618.7,1726.3 L1620.7,1724.9 L1622.7,1723.5 L1624.7,1722.1 L1626.7,1720.7 L1628.7,1719.3 L1630.7,1717.9 L1632.7,1716.6 L1634.7,1715.3 L1636.7,1714.2 L1638.7,1713.4 L1640.7,1713 L1642.7,1713 L1644.7,1713.4 L1646.7,1714 L1648.7,1714.7 L1649.3,1714.9" stroke="#0000ff" stroke-width="1.6" stroke-dasharray="20 11" fill="none"/>
<path d="M1412.7,1721.5 H1649.9" stroke="#000" stroke-width="1.5" fill="none"/>
<path d="M1442.3,1718 v7 M1501.6,1718 v7 M1560.9,1718 v7 M1620.2,1718 v7 " stroke="#000" stroke-width="1.5" fill="none"/>
<path d="M1383.2,1638.4 V1929.2 H1649.9" stroke="#111" stroke-width="1.6" fill="none"/>
<path d="M1383.2,1638.4 h4 M1383.2,1721.5 h4 M1383.2,1804.6 h4 M1383.2,1887.7 h4 M1442.3,1929.2 v-4 M1560.9,1929.2 v-4 M1620.2,1929.2 v-4 " stroke="#1e1e1e" stroke-width="1.5" fill="none"/>
<text x="1369.2" y="1651.9" font-size="32.8" text-anchor="end" textLength="41.7" lengthAdjust="spacingAndGlyphs" fill="#1e1e1e">0.1</text>
<text x="1370.7" y="1735" font-size="32.8" text-anchor="end" textLength="16.7" lengthAdjust="spacingAndGlyphs" fill="#1e1e1e">0</text>
<text x="1369.2" y="1818.1" font-size="32.8" text-anchor="end" textLength="51.7" lengthAdjust="spacingAndGlyphs" fill="#1e1e1e">-0.1</text>
<text x="1372.2" y="1901.2" font-size="32.8" text-anchor="end" textLength="51.7" lengthAdjust="spacingAndGlyphs" fill="#1e1e1e">-0.2</text>
<text x="1442.3" y="1974.2" font-size="32.8" text-anchor="middle" textLength="76.7" lengthAdjust="spacingAndGlyphs" fill="#1e1e1e">-1000</text>
<text x="1560.9" y="1974.2" font-size="32.8" text-anchor="middle" textLength="16.7" lengthAdjust="spacingAndGlyphs" fill="#1e1e1e">0</text>
<text x="1620.2" y="1974.2" font-size="32.8" text-anchor="middle" textLength="50" lengthAdjust="spacingAndGlyphs" fill="#1e1e1e">500</text>
</g>
<path d="M364.7,759 V892.2 M364.7,768.4 A53.0,61.9 0 0 0 364.7,892.2 M364.7,759 L355.4,768.7 M311.7,820.3 L309.2,820.3 L306.6,823.3 L306.2,831.9 L305.7,841.3 L307,845.6 L309.6,847.4 L312.3,845.8" stroke="#000" stroke-width="1.6" fill="none" stroke-linejoin="round"/>
<circle cx="345.5" cy="824.1" r="3.2" fill="#000"/>
<circle cx="356.7" cy="830.3" r="3.2" fill="#000"/>
<circle cx="348.8" cy="837.7" r="3.2" fill="#000"/>
<path d="M688.1,759 V892.2 M688.1,768.4 A53.0,61.9 0 0 1 688.1,892.2 M688.1,759 L697.4,768.7 M741.1,820.3 L743.6,820.3 L746.2,823.3 L746.6,831.9 L747.1,841.3 L745.8,845.6 L743.2,847.4 L740.5,845.8" stroke="#000" stroke-width="1.6" fill="none" stroke-linejoin="round"/>
<circle cx="707.3" cy="824.1" r="3.2" fill="#000"/>
<circle cx="696.1" cy="830.3" r="3.2" fill="#000"/>
<circle cx="704" cy="837.7" r="3.2" fill="#000"/>
<path d="M1118.4,759 V892.2 M1118.4,768.4 A53.0,61.9 0 0 0 1118.4,892.2 M1118.4,759 L1109.1,768.7 M1065.4,820.3 L1062.9,820.3 L1060.3,823.3 L1059.9,831.9 L1059.4,841.3 L1060.7,845.6 L1063.3,847.4 L1066,845.8" stroke="#000" stroke-width="1.6" fill="none" stroke-linejoin="round"/>
<circle cx="1099.2" cy="824.1" r="3.2" fill="#000"/>
<circle cx="1110.4" cy="830.3" r="3.2" fill="#000"/>
<circle cx="1102.5" cy="837.7" r="3.2" fill="#000"/>
<path d="M1441.8,759 V892.2 M1441.8,768.4 A53.0,61.9 0 0 1 1441.8,892.2 M1441.8,759 L1451.1,768.7 M1494.8,820.3 L1497.3,820.3 L1499.9,823.3 L1500.3,831.9 L1500.8,841.3 L1499.5,845.6 L1496.9,847.4 L1494.2,845.8" stroke="#000" stroke-width="1.6" fill="none" stroke-linejoin="round"/>
<circle cx="1461" cy="824.1" r="3.2" fill="#000"/>
<circle cx="1449.8" cy="830.3" r="3.2" fill="#000"/>
<circle cx="1457.7" cy="837.7" r="3.2" fill="#000"/>
<path d="M364.9,1784.9 V1918.1 M364.9,1794.3 A53.0,61.9 0 0 0 364.9,1918.1 M364.9,1784.9 L355.6,1794.6 M311.9,1846.2 L309.4,1846.2 L306.8,1849.2 L306.4,1857.8 L305.9,1867.2 L307.2,1871.5 L309.8,1873.3 L312.5,1871.7" stroke="#000" stroke-width="1.6" fill="none" stroke-linejoin="round"/>
<circle cx="357" cy="1872.5" r="3.2" fill="#000"/>
<circle cx="347.8" cy="1879.8" r="3.2" fill="#000"/>
<circle cx="337.5" cy="1885" r="3.2" fill="#000"/>
<circle cx="359.1" cy="1886.2" r="3.2" fill="#000"/>
<circle cx="350.3" cy="1895.8" r="3.2" fill="#000"/>
<circle cx="344.4" cy="1905.8" r="3.2" fill="#000"/>
<path d="M688.5,1784.9 V1918.1 M688.5,1794.3 A53.0,61.9 0 0 1 688.5,1918.1 M688.5,1784.9 L697.8,1794.6 M741.5,1846.2 L744,1846.2 L746.6,1849.2 L747,1857.8 L747.5,1867.2 L746.2,1871.5 L743.6,1873.3 L740.9,1871.7" stroke="#000" stroke-width="1.6" fill="none" stroke-linejoin="round"/>
<circle cx="696.4" cy="1872.5" r="3.2" fill="#000"/>
<circle cx="705.6" cy="1879.8" r="3.2" fill="#000"/>
<circle cx="715.9" cy="1885" r="3.2" fill="#000"/>
<circle cx="694.3" cy="1886.2" r="3.2" fill="#000"/>
<circle cx="703.1" cy="1895.8" r="3.2" fill="#000"/>
<circle cx="709" cy="1905.8" r="3.2" fill="#000"/>
<path d="M1118.4,1784.9 V1918.1 M1118.4,1794.3 A53.0,61.9 0 0 0 1118.4,1918.1 M1118.4,1784.9 L1109.1,1794.6 M1065.4,1846.2 L1062.9,1846.2 L1060.3,1849.2 L1059.9,1857.8 L1059.4,1867.2 L1060.7,1871.5 L1063.3,1873.3 L1066,1871.7" stroke="#000" stroke-width="1.6" fill="none" stroke-linejoin="round"/>
<circle cx="1110.5" cy="1872.5" r="3.2" fill="#000"/>
<circle cx="1101.3" cy="1879.8" r="3.2" fill="#000"/>
<circle cx="1091" cy="1885" r="3.2" fill="#000"/>
<circle cx="1112.6" cy="1886.2" r="3.2" fill="#000"/>
<circle cx="1103.8" cy="1895.8" r="3.2" fill="#000"/>
<circle cx="1097.9" cy="1905.8" r="3.2" fill="#000"/>
<path d="M1441.8,1784.9 V1918.1 M1441.8,1794.3 A53.0,61.9 0 0 1 1441.8,1918.1 M1441.8,1784.9 L1451.1,1794.6 M1494.8,1846.2 L1497.3,1846.2 L1499.9,1849.2 L1500.3,1857.8 L1500.8,1867.2 L1499.5,1871.5 L1496.9,1873.3 L1494.2,1871.7" stroke="#000" stroke-width="1.6" fill="none" stroke-linejoin="round"/>
<circle cx="1449.7" cy="1872.5" r="3.2" fill="#000"/>
<circle cx="1458.9" cy="1879.8" r="3.2" fill="#000"/>
<circle cx="1469.2" cy="1885" r="3.2" fill="#000"/>
<circle cx="1447.6" cy="1886.2" r="3.2" fill="#000"/>
<circle cx="1456.4" cy="1895.8" r="3.2" fill="#000"/>
<circle cx="1462.3" cy="1905.8" r="3.2" fill="#000"/>
<text x="776" y="28.8" font-size="37" textLength="313" lengthAdjust="spacingAndGlyphs" fill="#000">Central electrodes</text>
<text x="414" y="105" font-size="37" textLength="289" lengthAdjust="spacingAndGlyphs" fill="#000">Pre-trial baseline</text>
<text x="1158.2" y="104.8" font-size="37" textLength="364" lengthAdjust="spacingAndGlyphs" fill="#000">Pre-stimulus baseline</text>
<text x="757.4" y="1119.9" font-size="37" textLength="320" lengthAdjust="spacingAndGlyphs" fill="#000">Parietal electrodes</text>
<text x="-2" y="230.4" font-size="37" textLength="128" lengthAdjust="spacingAndGlyphs" fill="#000">Sighted</text>
<text x="-2" y="282.7" font-size="37" textLength="101" lengthAdjust="spacingAndGlyphs" fill="#000">group</text>
<text x="0" y="628.5" font-size="37" textLength="86" lengthAdjust="spacingAndGlyphs" fill="#000">Blind</text>
<text x="-2" y="680.8" font-size="37" textLength="101" lengthAdjust="spacingAndGlyphs" fill="#000">group</text>
<text x="-2" y="1254.8" font-size="37" textLength="128" lengthAdjust="spacingAndGlyphs" fill="#000">Sighted</text>
<text x="-2" y="1307.2" font-size="37" textLength="101" lengthAdjust="spacingAndGlyphs" fill="#000">group</text>
<text x="0" y="1652.7" font-size="37" textLength="86" lengthAdjust="spacingAndGlyphs" fill="#000">Blind</text>
<text x="-2" y="1705" font-size="37" textLength="101" lengthAdjust="spacingAndGlyphs" fill="#000">group</text>
<text x="254.5" y="2004.5" font-size="30" textLength="140" lengthAdjust="spacingAndGlyphs" fill="#000">time in ms</text>
<text x="333.6" y="2091.5" font-size="37" textLength="292" lengthAdjust="spacingAndGlyphs" fill="#000">Uncrossed hands</text>
<text x="805" y="2091.5" font-size="37" textLength="245.4" lengthAdjust="spacingAndGlyphs" fill="#000">Crossed hands</text>
<text x="153.2" y="1919" font-size="30" textLength="291" lengthAdjust="spacingAndGlyphs" fill="#000" transform="rotate(-90 153.2 1919)">log-power [att - unatt]</text>
<text x="199.3" y="163.2" font-size="37" font-weight="bold" fill="#000">A</text>
<text x="560.3" y="163.2" font-size="37" font-weight="bold" textLength="22.5" lengthAdjust="spacingAndGlyphs" fill="#000">B</text>
<text x="993" y="163.2" font-size="37" font-weight="bold" textLength="24.5" lengthAdjust="spacingAndGlyphs" fill="#000">C</text>
<text x="1344.5" y="163.2" font-size="37" font-weight="bold" textLength="25.5" lengthAdjust="spacingAndGlyphs" fill="#000">D</text>
<text x="201.6" y="592" font-size="37" font-weight="bold" textLength="19" lengthAdjust="spacingAndGlyphs" fill="#000">E</text>
<text x="559.3" y="592" font-size="37" font-weight="bold" textLength="20.5" lengthAdjust="spacingAndGlyphs" fill="#000">F</text>
<text x="992.7" y="592" font-size="37" font-weight="bold" textLength="28" lengthAdjust="spacingAndGlyphs" fill="#000">G</text>
<text x="1341.7" y="592" font-size="37" font-weight="bold" textLength="26.5" lengthAdjust="spacingAndGlyphs" fill="#000">H</text>
<text x="201.6" y="1179.5" font-size="37" font-weight="bold" fill="#000">I</text>
<text x="557.9" y="1179.5" font-size="37" font-weight="bold" fill="#000">J</text>
<text x="995.4" y="1179.5" font-size="37" font-weight="bold" textLength="22.5" lengthAdjust="spacingAndGlyphs" fill="#000">K</text>
<text x="1343.3" y="1179.5" font-size="37" font-weight="bold" textLength="20.5" lengthAdjust="spacingAndGlyphs" fill="#000">L</text>
<text x="201.6" y="1608.3" font-size="37" font-weight="bold" fill="#000">M</text>
<text x="559.3" y="1608.3" font-size="37" font-weight="bold" textLength="27.5" lengthAdjust="spacingAndGlyphs" fill="#000">N</text>
<text x="992.7" y="1608.3" font-size="37" font-weight="bold" textLength="29.5" lengthAdjust="spacingAndGlyphs" fill="#000">O</text>
<text x="1343.3" y="1608.3" font-size="37" font-weight="bold" textLength="24" lengthAdjust="spacingAndGlyphs" fill="#000">P</text>
<path d="M223.2,2079.5 H326" stroke="#ff0000" stroke-width="9" fill="none"/>
<path d="M694,2079.3 H786.7" stroke="#0000ff" stroke-width="9" stroke-dasharray="25.5 8.2" fill="none"/>
</svg>
</body></html>
